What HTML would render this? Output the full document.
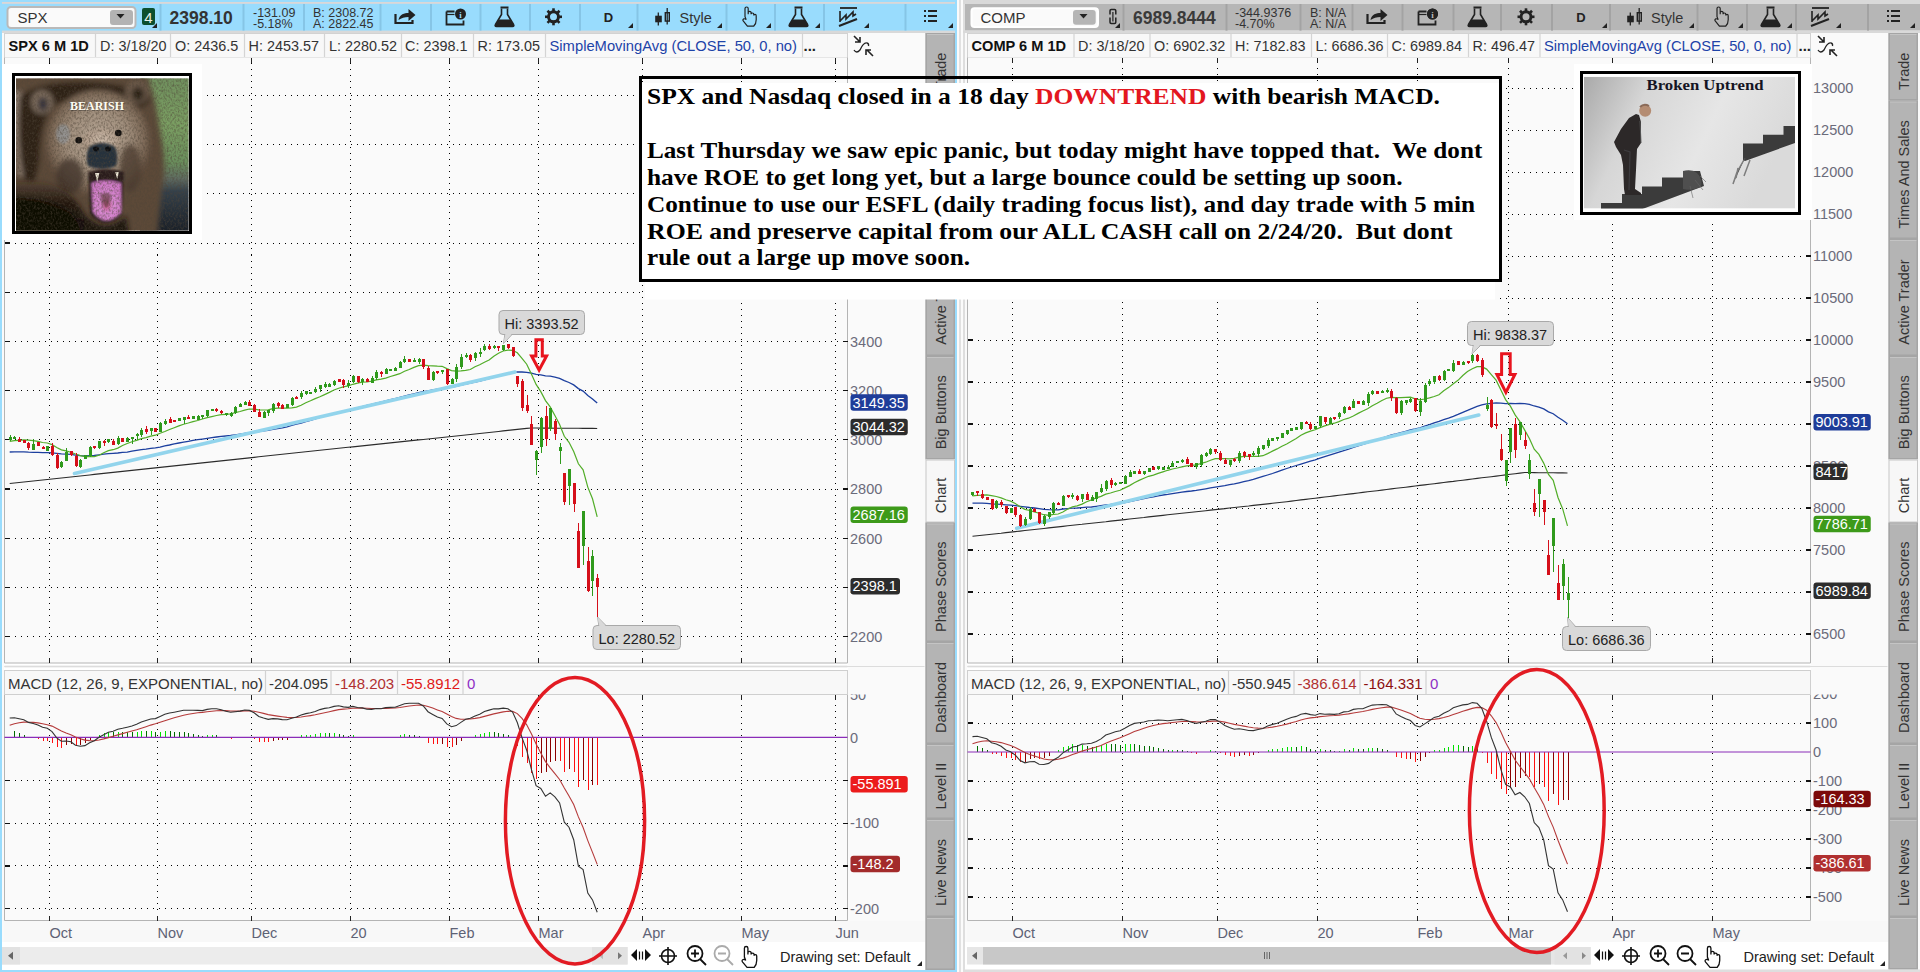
<!DOCTYPE html><html><head><meta charset="utf-8"><title>TOS</title><style>*{margin:0;padding:0}html,body{width:1920px;height:972px;overflow:hidden;background:#fff}svg{position:absolute;left:0;top:0;display:block}</style></head><body>
<svg width="1920" height="972" viewBox="0 0 1920 972" font-family="Liberation Sans, sans-serif">
<rect x="0.00" y="0.00" width="1920.00" height="972.00" fill="#ffffff" />
<rect x="0.00" y="0.00" width="957.00" height="972.00" fill="#99dcfd" />
<rect x="2.00" y="2.00" width="953.00" height="1.80" fill="#dbd7d7" />
<rect x="2.00" y="30.60" width="953.00" height="2.40" fill="#d9d9d9" />
<rect x="2.00" y="33.00" width="953.00" height="937.00" fill="#fafafa" />
<rect x="7.5" y="7" width="128" height="21" rx="3.5" fill="#fafafa" stroke="#b9b9b9" stroke-width="2"/>
<text x="17.50" y="23.00" font-size="15" fill="#333" >SPX</text>
<rect x="110" y="10" width="23" height="15" rx="3" fill="#b3b3b3"/>
<path d="M116.5,14 h8 l-4,4.5 z" fill="#222"/>
<rect x="142" y="8" width="13" height="17" rx="2" fill="#0c4f2e"/>
<text x="148.50" y="22.50" font-size="15" fill="#e8f0e8" text-anchor="middle">4</text>
<path d="M152,28 L157,23 L157,28 z" fill="#222"/>
<rect x="159.50" y="4.00" width="2.00" height="26.60" fill="#86c5e6" />
<rect x="242.50" y="4.00" width="2.00" height="26.60" fill="#86c5e6" />
<rect x="303.00" y="4.00" width="2.00" height="26.60" fill="#86c5e6" />
<rect x="379.50" y="4.00" width="2.00" height="26.60" fill="#86c5e6" />
<rect x="430.00" y="4.00" width="2.00" height="26.60" fill="#86c5e6" />
<rect x="479.50" y="4.00" width="2.00" height="26.60" fill="#86c5e6" />
<rect x="529.00" y="4.00" width="2.00" height="26.60" fill="#86c5e6" />
<rect x="579.00" y="4.00" width="2.00" height="26.60" fill="#86c5e6" />
<rect x="636.50" y="4.00" width="2.00" height="26.60" fill="#86c5e6" />
<rect x="725.50" y="4.00" width="2.00" height="26.60" fill="#86c5e6" />
<rect x="774.00" y="4.00" width="2.00" height="26.60" fill="#86c5e6" />
<rect x="823.00" y="4.00" width="2.00" height="26.60" fill="#86c5e6" />
<rect x="904.50" y="4.00" width="2.00" height="26.60" fill="#86c5e6" />
<text x="169.50" y="23.50" font-size="17.5" fill="#333" font-weight="bold">2398.10</text>
<text x="253.00" y="16.50" font-size="12.5" fill="#333" >-131.09</text>
<text x="253.00" y="27.50" font-size="12.5" fill="#333" >-5.18%</text>
<text x="313.00" y="16.50" font-size="12.5" fill="#333" >B: 2308.72</text>
<text x="313.00" y="27.50" font-size="12.5" fill="#333" >A: 2822.45</text>
<path d="M395.5,14 v9 h17 v-3" fill="none" stroke="#222" stroke-width="2.2"/>
<path d="M398.5,20 C399.5,14 404.5,13 408.5,13 v-4 l7,6 l-7,6 v-4 C404.5,17 401.5,18 398.5,20 z" fill="#222"/>
<path d="M446.5,11.5 h8 M446.5,11.5 v13 h17 v-4" fill="none" stroke="#222" stroke-width="1.8"/>
<line x1="446.5" y1="14.5" x2="454.5" y2="14.5" stroke="#222" stroke-width="1.2"/>
<circle cx="460.5" cy="14.0" r="5.5" fill="#222"/>
<text x="460.5" y="18.0" font-size="9" font-weight="bold" fill="#99dcfd" text-anchor="middle" font-family="Liberation Serif">i</text>
<path d="M501.5,8.5 v6 l-6,10 q-1,2 1,2 h16 q2,0 1,-2 l-6,-10 v-6" fill="none" stroke="#222" stroke-width="1.6"/>
<path d="M498.5,19.5 h12 l3,5 q1,2 -1,2 h-16 q-2,0 -1,-2 z" fill="#222"/>
<rect x="500.5" y="6.5" width="8" height="2" fill="#222"/>
<line x1="557.50" y1="16.80" x2="562.00" y2="16.80" stroke="#222" stroke-width="2.6"/>
<line x1="556.33" y1="19.63" x2="559.51" y2="22.81" stroke="#222" stroke-width="2.6"/>
<line x1="553.50" y1="20.80" x2="553.50" y2="25.30" stroke="#222" stroke-width="2.6"/>
<line x1="550.67" y1="19.63" x2="547.49" y2="22.81" stroke="#222" stroke-width="2.6"/>
<line x1="549.50" y1="16.80" x2="545.00" y2="16.80" stroke="#222" stroke-width="2.6"/>
<line x1="550.67" y1="13.97" x2="547.49" y2="10.79" stroke="#222" stroke-width="2.6"/>
<line x1="553.50" y1="12.80" x2="553.50" y2="8.30" stroke="#222" stroke-width="2.6"/>
<line x1="556.33" y1="13.97" x2="559.51" y2="10.79" stroke="#222" stroke-width="2.6"/>
<circle cx="553.5" cy="16.8" r="5" fill="none" stroke="#222" stroke-width="3"/>
<text x="608.50" y="22.00" font-size="13" fill="#222" font-weight="bold" text-anchor="middle">D</text>
<path d="M628,28 L633,23 L633,28 z" fill="#222"/>
<line x1="658.3" y1="12.5" x2="658.3" y2="25.5" stroke="#222" stroke-width="1.3"/>
<rect x="655.2" y="15.7" width="6.6" height="6.6" fill="#222"/>
<line x1="667.2" y1="8.0" x2="667.2" y2="24.5" stroke="#222" stroke-width="1.3"/>
<rect x="665.3" y="12.7" width="4" height="8.4" fill="none" stroke="#222" stroke-width="1.4"/>
<text x="679.50" y="23.00" font-size="14.5" fill="#333" >Style</text>
<path d="M717,28 L722,23 L722,28 z" fill="#222"/>
<g transform="translate(741,7) scale(0.8)">
<path d="M5,12 v-10 q0,-2 2,-2 q2,0 2,2 v7 v-2 q0,-1.5 1.8,-1.5 q1.8,0 1.8,1.5 v2 q0,-1.5 1.7,-1.5 q1.7,0 1.7,1.5 v1.5 q0,-1.2 1.5,-1.2 q1.5,0 1.5,1.5 v5 q0,5 -3,8 h-8 l-5,-6 q-1.5,-2 0.5,-3 q1.5,-0.5 3,1 z" fill="none" stroke="#222" stroke-width="1.5"/>
</g>
<path d="M766,28 L771,23 L771,28 z" fill="#222"/>
<path d="M795.5,8.5 v6 l-6,10 q-1,2 1,2 h16 q2,0 1,-2 l-6,-10 v-6" fill="none" stroke="#222" stroke-width="1.6"/>
<path d="M792.5,19.5 h12 l3,5 q1,2 -1,2 h-16 q-2,0 -1,-2 z" fill="#222"/>
<rect x="794.5" y="6.5" width="8" height="2" fill="#222"/>
<path d="M815,28 L820,23 L820,28 z" fill="#222"/>
<line x1="840" y1="8" x2="857" y2="8" stroke="#222" stroke-width="1.8"/>
<path d="M840,22 v-11 M840,21 l6,-6 v4 l7,-7 v4 l3,-2" fill="none" stroke="#222" stroke-width="1.6"/>
<line x1="839" y1="26" x2="857" y2="19" stroke="#222" stroke-width="2"/>
<path d="M864,28 L869,23 L869,28 z" fill="#222"/>
<rect x="924" y="10" width="2" height="2" fill="#222"/>
<rect x="928" y="10" width="9" height="2" fill="#222"/>
<rect x="924" y="15" width="2" height="2" fill="#222"/>
<rect x="928" y="15" width="9" height="2" fill="#222"/>
<rect x="924" y="20" width="2" height="2" fill="#222"/>
<rect x="928" y="20" width="9" height="2" fill="#222"/>
<path d="M948,28 L953,23 L953,28 z" fill="#222"/>
<rect x="4.50" y="33.50" width="843.00" height="24.00" fill="#f8f8f8" />
<rect x="4.5" y="33.5" width="843" height="24" fill="none" stroke="#d2d2d2" stroke-width="1"/>
<line x1="95.50" y1="34.00" x2="95.50" y2="57.00" stroke="#d4d4d4" stroke-width="1.2" />
<line x1="170.50" y1="34.00" x2="170.50" y2="57.00" stroke="#d4d4d4" stroke-width="1.2" />
<line x1="244.50" y1="34.00" x2="244.50" y2="57.00" stroke="#d4d4d4" stroke-width="1.2" />
<line x1="324.50" y1="34.00" x2="324.50" y2="57.00" stroke="#d4d4d4" stroke-width="1.2" />
<line x1="401.50" y1="34.00" x2="401.50" y2="57.00" stroke="#d4d4d4" stroke-width="1.2" />
<line x1="473.50" y1="34.00" x2="473.50" y2="57.00" stroke="#d4d4d4" stroke-width="1.2" />
<line x1="545.50" y1="34.00" x2="545.50" y2="57.00" stroke="#d4d4d4" stroke-width="1.2" />
<line x1="802.50" y1="34.00" x2="802.50" y2="57.00" stroke="#d4d4d4" stroke-width="1.2" />
<text x="8.50" y="51.00" font-size="14.6" fill="#111" font-weight="bold">SPX 6 M 1D</text>
<text x="100.00" y="51.00" font-size="14.4" fill="#333" >D: 3/18/20</text>
<text x="175.00" y="51.00" font-size="14.4" fill="#333" >O: 2436.5</text>
<text x="248.50" y="51.00" font-size="14.4" fill="#333" >H: 2453.57</text>
<text x="329.00" y="51.00" font-size="14.4" fill="#333" >L: 2280.52</text>
<text x="405.00" y="51.00" font-size="14.4" fill="#333" >C: 2398.1</text>
<text x="477.50" y="51.00" font-size="14.4" fill="#333" >R: 173.05</text>
<text x="549.50" y="51.00" font-size="14.5" fill="#1d43a8" textLength="247.5" lengthAdjust="spacingAndGlyphs">SimpleMovingAvg (CLOSE, 50, 0, no)</text>
<text x="803.50" y="51.00" font-size="15" fill="#222" font-weight="bold">...</text>
<rect x="848.00" y="33.00" width="77.00" height="25.00" fill="#fafafa" />
<path d="M854,36 l6,6 M855,42 h5 v-5" fill="none" stroke="#222" stroke-width="1.6"/>
<path d="M854,50 q2.5,4 6,0 q3.5,-8 7,-7 q2,0.5 1.5,3" fill="none" stroke="#222" stroke-width="1.3"/>
<path d="M873,56 l-6,-6 M866,55 v-5 h5" fill="none" stroke="#222" stroke-width="1.6"/>
<rect x="957.00" y="0.00" width="8.00" height="972.00" fill="#fbfbfb" />
<rect x="959.20" y="0.00" width="1.60" height="972.00" fill="#dadada" />
<rect x="963.00" y="0.00" width="2.00" height="972.00" fill="#dedede" />
<rect x="965.00" y="0.00" width="955.00" height="972.00" fill="#f0f0f0" />
<rect x="963.00" y="0.00" width="957.00" height="4.00" fill="#d9d9d9" />
<rect x="965.00" y="4.00" width="955.00" height="26.60" fill="#b6b6b6" />
<rect x="963.00" y="30.60" width="957.00" height="2.40" fill="#d9d9d9" />
<rect x="965.00" y="33.00" width="955.00" height="937.00" fill="#fafafa" />
<rect x="971.5" y="8.3" width="126.5" height="18.6" rx="3" fill="#fafafa" stroke="#ffffff" stroke-width="2"/>
<text x="980.50" y="23.00" font-size="15" fill="#333" >COMP</text>
<rect x="1073" y="10" width="22.7" height="14.8" rx="3" fill="#b5b5b5"/>
<path d="M1079.5,14 h8 l-4,4.5 z" fill="#222"/>
<path d="M1110,14.5 v-3.8 q0,-1.2 1.2,-1.2 h3.4 q1.2,0 1.2,1.2 v3.8 M1110,17.5 v4.8 q0,1.2 1.2,1.2 h3.4 q1.2,0 1.2,-1.2 v-4.8" fill="none" stroke="#222" stroke-width="1.5"/><line x1="1112.9" y1="12" x2="1112.9" y2="21.5" stroke="#222" stroke-width="1.2"/>
<path d="M1115,28 L1120,23 L1120,28 z" fill="#222"/>
<rect x="1122.50" y="4.00" width="2.00" height="26.60" fill="#a3a3a3" />
<rect x="1225.50" y="4.00" width="2.00" height="26.60" fill="#a3a3a3" />
<rect x="1299.50" y="4.00" width="2.00" height="26.60" fill="#a3a3a3" />
<rect x="1351.50" y="4.00" width="2.00" height="26.60" fill="#a3a3a3" />
<rect x="1401.50" y="4.00" width="2.00" height="26.60" fill="#a3a3a3" />
<rect x="1452.50" y="4.00" width="2.00" height="26.60" fill="#a3a3a3" />
<rect x="1500.00" y="4.00" width="2.00" height="26.60" fill="#a3a3a3" />
<rect x="1551.00" y="4.00" width="2.00" height="26.60" fill="#a3a3a3" />
<rect x="1609.00" y="4.00" width="2.00" height="26.60" fill="#a3a3a3" />
<rect x="1696.50" y="4.00" width="2.00" height="26.60" fill="#a3a3a3" />
<rect x="1746.00" y="4.00" width="2.00" height="26.60" fill="#a3a3a3" />
<rect x="1795.00" y="4.00" width="2.00" height="26.60" fill="#a3a3a3" />
<rect x="1867.00" y="4.00" width="2.00" height="26.60" fill="#a3a3a3" />
<text x="1133.00" y="23.50" font-size="17.5" fill="#3a3a3a" font-weight="bold">6989.8444</text>
<text x="1235.00" y="16.50" font-size="12.5" fill="#333" >-344.9376</text>
<text x="1235.00" y="27.50" font-size="12.5" fill="#333" >-4.70%</text>
<text x="1310.00" y="16.50" font-size="12.5" fill="#333" >B: N/A</text>
<text x="1310.00" y="27.50" font-size="12.5" fill="#333" >A: N/A</text>
<path d="M1367.5,14 v9 h17 v-3" fill="none" stroke="#222" stroke-width="2.2"/>
<path d="M1370.5,20 C1371.5,14 1376.5,13 1380.5,13 v-4 l7,6 l-7,6 v-4 C1376.5,17 1373.5,18 1370.5,20 z" fill="#222"/>
<path d="M1418.5,11.5 h8 M1418.5,11.5 v13 h17 v-4" fill="none" stroke="#222" stroke-width="1.8"/>
<line x1="1418.5" y1="14.5" x2="1426.5" y2="14.5" stroke="#222" stroke-width="1.2"/>
<circle cx="1432.5" cy="14.0" r="5.5" fill="#222"/>
<text x="1432.5" y="18.0" font-size="9" font-weight="bold" fill="#99dcfd" text-anchor="middle" font-family="Liberation Serif">i</text>
<circle cx="1432.5" cy="14" r="5.5" fill="#222"/>
<text x="1432.5" y="18" font-size="9" font-weight="bold" fill="#b9b9b9" text-anchor="middle" font-family="Liberation Serif">i</text>
<path d="M1474.5,8.5 v6 l-6,10 q-1,2 1,2 h16 q2,0 1,-2 l-6,-10 v-6" fill="none" stroke="#222" stroke-width="1.6"/>
<path d="M1471.5,19.5 h12 l3,5 q1,2 -1,2 h-16 q-2,0 -1,-2 z" fill="#222"/>
<rect x="1473.5" y="6.5" width="8" height="2" fill="#222"/>
<line x1="1530.00" y1="16.80" x2="1534.50" y2="16.80" stroke="#222" stroke-width="2.6"/>
<line x1="1528.83" y1="19.63" x2="1532.01" y2="22.81" stroke="#222" stroke-width="2.6"/>
<line x1="1526.00" y1="20.80" x2="1526.00" y2="25.30" stroke="#222" stroke-width="2.6"/>
<line x1="1523.17" y1="19.63" x2="1519.99" y2="22.81" stroke="#222" stroke-width="2.6"/>
<line x1="1522.00" y1="16.80" x2="1517.50" y2="16.80" stroke="#222" stroke-width="2.6"/>
<line x1="1523.17" y1="13.97" x2="1519.99" y2="10.79" stroke="#222" stroke-width="2.6"/>
<line x1="1526.00" y1="12.80" x2="1526.00" y2="8.30" stroke="#222" stroke-width="2.6"/>
<line x1="1528.83" y1="13.97" x2="1532.01" y2="10.79" stroke="#222" stroke-width="2.6"/>
<circle cx="1526" cy="16.8" r="5" fill="none" stroke="#222" stroke-width="3"/>
<text x="1581.00" y="22.00" font-size="13" fill="#222" font-weight="bold" text-anchor="middle">D</text>
<path d="M1602,28 L1607,23 L1607,28 z" fill="#222"/>
<line x1="1630.3" y1="12.5" x2="1630.3" y2="25.5" stroke="#222" stroke-width="1.3"/>
<rect x="1627.2" y="15.7" width="6.6" height="6.6" fill="#222"/>
<line x1="1639.2" y1="8.0" x2="1639.2" y2="24.5" stroke="#222" stroke-width="1.3"/>
<rect x="1637.3" y="12.7" width="4" height="8.4" fill="none" stroke="#222" stroke-width="1.4"/>
<text x="1651.00" y="23.00" font-size="14.5" fill="#333" >Style</text>
<path d="M1689,28 L1694,23 L1694,28 z" fill="#222"/>
<g transform="translate(1713,7) scale(0.8)">
<path d="M5,12 v-10 q0,-2 2,-2 q2,0 2,2 v7 v-2 q0,-1.5 1.8,-1.5 q1.8,0 1.8,1.5 v2 q0,-1.5 1.7,-1.5 q1.7,0 1.7,1.5 v1.5 q0,-1.2 1.5,-1.2 q1.5,0 1.5,1.5 v5 q0,5 -3,8 h-8 l-5,-6 q-1.5,-2 0.5,-3 q1.5,-0.5 3,1 z" fill="none" stroke="#222" stroke-width="1.5"/>
</g>
<path d="M1738,28 L1743,23 L1743,28 z" fill="#222"/>
<path d="M1767.5,8.5 v6 l-6,10 q-1,2 1,2 h16 q2,0 1,-2 l-6,-10 v-6" fill="none" stroke="#222" stroke-width="1.6"/>
<path d="M1764.5,19.5 h12 l3,5 q1,2 -1,2 h-16 q-2,0 -1,-2 z" fill="#222"/>
<rect x="1766.5" y="6.5" width="8" height="2" fill="#222"/>
<path d="M1787,28 L1792,23 L1792,28 z" fill="#222"/>
<line x1="1812" y1="8" x2="1829" y2="8" stroke="#222" stroke-width="1.8"/>
<path d="M1812,22 v-11 M1812,21 l6,-6 v4 l7,-7 v4 l3,-2" fill="none" stroke="#222" stroke-width="1.6"/>
<line x1="1811" y1="26" x2="1829" y2="19" stroke="#222" stroke-width="2"/>
<path d="M1836,28 L1841,23 L1841,28 z" fill="#222"/>
<rect x="1887" y="10" width="2" height="2" fill="#222"/>
<rect x="1891" y="10" width="9" height="2" fill="#222"/>
<rect x="1887" y="15" width="2" height="2" fill="#222"/>
<rect x="1891" y="15" width="9" height="2" fill="#222"/>
<rect x="1887" y="20" width="2" height="2" fill="#222"/>
<rect x="1891" y="20" width="9" height="2" fill="#222"/>
<path d="M1910,28 L1915,23 L1915,28 z" fill="#222"/>
<rect x="967.50" y="33.50" width="843.00" height="24.00" fill="#f8f8f8" />
<rect x="967.5" y="33.5" width="843" height="24" fill="none" stroke="#d2d2d2" stroke-width="1"/>
<line x1="1074.00" y1="34.00" x2="1074.00" y2="57.00" stroke="#d4d4d4" stroke-width="1.2" />
<line x1="1150.00" y1="34.00" x2="1150.00" y2="57.00" stroke="#d4d4d4" stroke-width="1.2" />
<line x1="1231.00" y1="34.00" x2="1231.00" y2="57.00" stroke="#d4d4d4" stroke-width="1.2" />
<line x1="1311.50" y1="34.00" x2="1311.50" y2="57.00" stroke="#d4d4d4" stroke-width="1.2" />
<line x1="1387.50" y1="34.00" x2="1387.50" y2="57.00" stroke="#d4d4d4" stroke-width="1.2" />
<line x1="1468.50" y1="34.00" x2="1468.50" y2="57.00" stroke="#d4d4d4" stroke-width="1.2" />
<line x1="1540.00" y1="34.00" x2="1540.00" y2="57.00" stroke="#d4d4d4" stroke-width="1.2" />
<line x1="1797.00" y1="34.00" x2="1797.00" y2="57.00" stroke="#d4d4d4" stroke-width="1.2" />
<text x="971.50" y="51.00" font-size="14.6" fill="#111" font-weight="bold">COMP 6 M 1D</text>
<text x="1078.00" y="51.00" font-size="14.4" fill="#333" >D: 3/18/20</text>
<text x="1154.00" y="51.00" font-size="14.4" fill="#333" >O: 6902.32</text>
<text x="1235.00" y="51.00" font-size="14.4" fill="#333" >H: 7182.83</text>
<text x="1315.50" y="51.00" font-size="14.4" fill="#333" >L: 6686.36</text>
<text x="1391.50" y="51.00" font-size="14.4" fill="#333" >C: 6989.84</text>
<text x="1472.50" y="51.00" font-size="14.4" fill="#333" >R: 496.47</text>
<text x="1544.00" y="51.00" font-size="14.5" fill="#1d43a8" textLength="247.5" lengthAdjust="spacingAndGlyphs">SimpleMovingAvg (CLOSE, 50, 0, no)</text>
<text x="1798.50" y="51.00" font-size="15" fill="#222" font-weight="bold">...</text>
<path d="M1818,36 l6,6 M1819,42 h5 v-5" fill="none" stroke="#222" stroke-width="1.6"/>
<path d="M1818,50 q2.5,4 6,0 q3.5,-8 7,-7 q2,0.5 1.5,3" fill="none" stroke="#222" stroke-width="1.3"/>
<path d="M1837,56 l-6,-6 M1830,55 v-5 h5" fill="none" stroke="#222" stroke-width="1.6"/>
<rect x="2.00" y="942.00" width="923.00" height="28.00" fill="#ffffff" />
<rect x="2.00" y="947.00" width="625.60" height="17.50" fill="#ececec" />
<rect x="2.00" y="947.00" width="18.00" height="17.50" fill="#e2e2e2" />
<path d="M8,955.7 l5,-4 v8 z" fill="#666"/>
<rect x="592.00" y="947.00" width="35.60" height="17.50" fill="#e2e2e2" />
<path d="M599,955.7 l4,-3.5 v7 z" fill="#bbb"/>
<path d="M618,952.2 l4,3.5 l-4,3.5 z" fill="#777"/>
<path d="M631,955 l6,-6 v12 z M651,955 l-6,-6 v12 z" fill="#111"/>
<path d="M639.5,951.5 v8 M642.5,951.5 v8" stroke="#111" stroke-width="1.2"/>
<circle cx="668" cy="956" r="6.5" fill="none" stroke="#111" stroke-width="1.6"/><path d="M659,956 h18 M668,947 v18" stroke="#111" stroke-width="1.6"/>
<circle cx="695" cy="953.5" r="7.5" fill="none" stroke="#111" stroke-width="1.8"/><path d="M691,953.5 h8 M695,949.5 v8 M700,959 l6,6" stroke="#111" stroke-width="1.8"/>
<circle cx="722" cy="953.5" r="7.5" fill="none" stroke="#aaa" stroke-width="1.8"/><path d="M718,953.5 h8 M727,959 l6,6" stroke="#aaa" stroke-width="1.8"/>
<g transform="translate(740,946.5) scale(0.88)">
<path d="M5,12 v-10 q0,-2 2,-2 q2,0 2,2 v7 v-2 q0,-1.5 1.8,-1.5 q1.8,0 1.8,1.5 v2 q0,-1.5 1.7,-1.5 q1.7,0 1.7,1.5 v1.5 q0,-1.2 1.5,-1.2 q1.5,0 1.5,1.5 v5 q0,5 -3,8 h-8 l-5,-6 q-1.5,-2 0.5,-3 q1.5,-0.5 3,1 z" fill="#fff" stroke="#111" stroke-width="1.5"/>
</g>
<text x="780.00" y="962.00" font-size="14.5" fill="#222" >Drawing set: Default</text>
<path d="M917,966 l5,-5 v5 z" fill="#222"/>
<rect x="965.00" y="942.00" width="924.00" height="30.00" fill="#ffffff" />
<rect x="967.00" y="947.00" width="624.00" height="17.50" fill="#e6e6e6" />
<rect x="983.00" y="947.00" width="568.00" height="17.50" fill="#c8c8c8" />
<path d="M972,955.7 l5,-4 v8 z" fill="#666"/>
<path d="M1264.5,952 v7 M1267,952 v7 M1269.5,952 v7" stroke="#666" stroke-width="1"/>
<rect x="1554.50" y="947.00" width="35.50" height="17.50" fill="#e2e2e2" />
<path d="M1563,955.7 l4,-3.5 v7 z" fill="#999"/>
<path d="M1582,952.2 l4,3.5 l-4,3.5 z" fill="#888"/>
<path d="M1594,955 l6,-6 v12 z M1614,955 l-6,-6 v12 z" fill="#111"/>
<path d="M1602.5,951.5 v8 M1605.5,951.5 v8" stroke="#111" stroke-width="1.2"/>
<circle cx="1631" cy="956" r="6.5" fill="none" stroke="#111" stroke-width="1.6"/><path d="M1622,956 h18 M1631,947 v18" stroke="#111" stroke-width="1.6"/>
<circle cx="1658" cy="953.5" r="7.5" fill="none" stroke="#111" stroke-width="1.8"/><path d="M1654,953.5 h8 M1658,949.5 v8 M1663,959 l6,6" stroke="#111" stroke-width="1.8"/>
<circle cx="1685" cy="953.5" r="7.5" fill="none" stroke="#111" stroke-width="1.8"/><path d="M1681,953.5 h8 M1690,959 l6,6" stroke="#111" stroke-width="1.8"/>
<g transform="translate(1703,946.5) scale(0.88)">
<path d="M5,12 v-10 q0,-2 2,-2 q2,0 2,2 v7 v-2 q0,-1.5 1.8,-1.5 q1.8,0 1.8,1.5 v2 q0,-1.5 1.7,-1.5 q1.7,0 1.7,1.5 v1.5 q0,-1.2 1.5,-1.2 q1.5,0 1.5,1.5 v5 q0,5 -3,8 h-8 l-5,-6 q-1.5,-2 0.5,-3 q1.5,-0.5 3,1 z" fill="#fff" stroke="#111" stroke-width="1.5"/>
</g>
<text x="1743.50" y="962.00" font-size="14.5" fill="#222" >Drawing set: Default</text>
<path d="M1880,966 l5,-5 v5 z" fill="#222"/>
<rect x="4.50" y="57.50" width="843.00" height="605.50" fill="#fafafa" />
<rect x="4.50" y="694.50" width="843.00" height="226.00" fill="#fafafa" />
<rect x="4.00" y="663.00" width="844.00" height="7.00" fill="#ffffff" />
<line x1="4.50" y1="666.50" x2="847.50" y2="666.50" stroke="#d0d0d0" stroke-width="1.5" />
<path d="M4.5,57.5 V663.0 H847.5 V57.5" fill="none" stroke="#b4b4b4" stroke-width="1"/>
<path d="M4.5,670.5 V920.5 H847.5 V670.5" fill="none" stroke="#b4b4b4" stroke-width="1"/>
<g shape-rendering="crispEdges">
<line x1="8.5" y1="636.5999999999999" x2="841.5" y2="636.5999999999999" stroke="#000000" stroke-width="1" stroke-dasharray="1 5"/>
<line x1="4.50" y1="636.60" x2="9.50" y2="636.60" stroke="#111" stroke-width="1.1" />
<line x1="842.50" y1="636.60" x2="847.50" y2="636.60" stroke="#111" stroke-width="1.1" />
<line x1="8.5" y1="587.4" x2="841.5" y2="587.4" stroke="#000000" stroke-width="1" stroke-dasharray="1 5"/>
<line x1="4.50" y1="587.40" x2="9.50" y2="587.40" stroke="#111" stroke-width="1.1" />
<line x1="842.50" y1="587.40" x2="847.50" y2="587.40" stroke="#111" stroke-width="1.1" />
<line x1="8.5" y1="538.2" x2="841.5" y2="538.2" stroke="#000000" stroke-width="1" stroke-dasharray="1 5"/>
<line x1="4.50" y1="538.20" x2="9.50" y2="538.20" stroke="#111" stroke-width="1.1" />
<line x1="842.50" y1="538.20" x2="847.50" y2="538.20" stroke="#111" stroke-width="1.1" />
<line x1="8.5" y1="489.0" x2="841.5" y2="489.0" stroke="#000000" stroke-width="1" stroke-dasharray="1 5"/>
<line x1="4.50" y1="489.00" x2="9.50" y2="489.00" stroke="#111" stroke-width="1.1" />
<line x1="842.50" y1="489.00" x2="847.50" y2="489.00" stroke="#111" stroke-width="1.1" />
<line x1="8.5" y1="439.79999999999995" x2="841.5" y2="439.79999999999995" stroke="#000000" stroke-width="1" stroke-dasharray="1 5"/>
<line x1="4.50" y1="439.80" x2="9.50" y2="439.80" stroke="#111" stroke-width="1.1" />
<line x1="842.50" y1="439.80" x2="847.50" y2="439.80" stroke="#111" stroke-width="1.1" />
<line x1="8.5" y1="390.59999999999997" x2="841.5" y2="390.59999999999997" stroke="#000000" stroke-width="1" stroke-dasharray="1 5"/>
<line x1="4.50" y1="390.60" x2="9.50" y2="390.60" stroke="#111" stroke-width="1.1" />
<line x1="842.50" y1="390.60" x2="847.50" y2="390.60" stroke="#111" stroke-width="1.1" />
<line x1="8.5" y1="341.4" x2="841.5" y2="341.4" stroke="#000000" stroke-width="1" stroke-dasharray="1 5"/>
<line x1="4.50" y1="341.40" x2="9.50" y2="341.40" stroke="#111" stroke-width="1.1" />
<line x1="842.50" y1="341.40" x2="847.50" y2="341.40" stroke="#111" stroke-width="1.1" />
<line x1="8.5" y1="292.2" x2="841.5" y2="292.2" stroke="#000000" stroke-width="1" stroke-dasharray="1 5"/>
<line x1="4.50" y1="292.20" x2="9.50" y2="292.20" stroke="#111" stroke-width="1.1" />
<line x1="842.50" y1="292.20" x2="847.50" y2="292.20" stroke="#111" stroke-width="1.1" />
<line x1="8.5" y1="242.99999999999997" x2="841.5" y2="242.99999999999997" stroke="#000000" stroke-width="1" stroke-dasharray="1 5"/>
<line x1="4.50" y1="243.00" x2="9.50" y2="243.00" stroke="#111" stroke-width="1.1" />
<line x1="842.50" y1="243.00" x2="847.50" y2="243.00" stroke="#111" stroke-width="1.1" />
<line x1="8.5" y1="193.79999999999998" x2="841.5" y2="193.79999999999998" stroke="#000000" stroke-width="1" stroke-dasharray="1 5"/>
<line x1="4.50" y1="193.80" x2="9.50" y2="193.80" stroke="#111" stroke-width="1.1" />
<line x1="842.50" y1="193.80" x2="847.50" y2="193.80" stroke="#111" stroke-width="1.1" />
<line x1="8.5" y1="144.59999999999997" x2="841.5" y2="144.59999999999997" stroke="#000000" stroke-width="1" stroke-dasharray="1 5"/>
<line x1="4.50" y1="144.60" x2="9.50" y2="144.60" stroke="#111" stroke-width="1.1" />
<line x1="842.50" y1="144.60" x2="847.50" y2="144.60" stroke="#111" stroke-width="1.1" />
<line x1="8.5" y1="95.39999999999998" x2="841.5" y2="95.39999999999998" stroke="#000000" stroke-width="1" stroke-dasharray="1 5"/>
<line x1="4.50" y1="95.40" x2="9.50" y2="95.40" stroke="#111" stroke-width="1.1" />
<line x1="842.50" y1="95.40" x2="847.50" y2="95.40" stroke="#111" stroke-width="1.1" />
<line x1="8.5" y1="694.55" x2="841.5" y2="694.55" stroke="#000000" stroke-width="1" stroke-dasharray="1 5"/>
<line x1="4.50" y1="694.55" x2="9.50" y2="694.55" stroke="#111" stroke-width="1.1" />
<line x1="842.50" y1="694.55" x2="847.50" y2="694.55" stroke="#111" stroke-width="1.1" />
<line x1="8.5" y1="780.25" x2="841.5" y2="780.25" stroke="#000000" stroke-width="1" stroke-dasharray="1 5"/>
<line x1="4.50" y1="780.25" x2="9.50" y2="780.25" stroke="#111" stroke-width="1.1" />
<line x1="842.50" y1="780.25" x2="847.50" y2="780.25" stroke="#111" stroke-width="1.1" />
<line x1="8.5" y1="823.1" x2="841.5" y2="823.1" stroke="#000000" stroke-width="1" stroke-dasharray="1 5"/>
<line x1="4.50" y1="823.10" x2="9.50" y2="823.10" stroke="#111" stroke-width="1.1" />
<line x1="842.50" y1="823.10" x2="847.50" y2="823.10" stroke="#111" stroke-width="1.1" />
<line x1="8.5" y1="865.95" x2="841.5" y2="865.95" stroke="#000000" stroke-width="1" stroke-dasharray="1 5"/>
<line x1="4.50" y1="865.95" x2="9.50" y2="865.95" stroke="#111" stroke-width="1.1" />
<line x1="842.50" y1="865.95" x2="847.50" y2="865.95" stroke="#111" stroke-width="1.1" />
<line x1="8.5" y1="908.8" x2="841.5" y2="908.8" stroke="#000000" stroke-width="1" stroke-dasharray="1 5"/>
<line x1="4.50" y1="908.80" x2="9.50" y2="908.80" stroke="#111" stroke-width="1.1" />
<line x1="842.50" y1="908.80" x2="847.50" y2="908.80" stroke="#111" stroke-width="1.1" />
<line x1="49.5" y1="62.5" x2="49.5" y2="657.0" stroke="#000000" stroke-width="1" stroke-dasharray="1 5"/>
<line x1="49.5" y1="698.5" x2="49.5" y2="914.5" stroke="#000000" stroke-width="1" stroke-dasharray="1 5"/>
<line x1="49.50" y1="57.50" x2="49.50" y2="62.50" stroke="#222" stroke-width="1.5" />
<line x1="49.50" y1="658.00" x2="49.50" y2="663.00" stroke="#222" stroke-width="1.5" />
<line x1="49.50" y1="694.50" x2="49.50" y2="699.50" stroke="#222" stroke-width="1.5" />
<line x1="49.50" y1="915.50" x2="49.50" y2="920.50" stroke="#222" stroke-width="1.5" />
<line x1="157.5" y1="62.5" x2="157.5" y2="657.0" stroke="#000000" stroke-width="1" stroke-dasharray="1 5"/>
<line x1="157.5" y1="698.5" x2="157.5" y2="914.5" stroke="#000000" stroke-width="1" stroke-dasharray="1 5"/>
<line x1="157.50" y1="57.50" x2="157.50" y2="62.50" stroke="#222" stroke-width="1.5" />
<line x1="157.50" y1="658.00" x2="157.50" y2="663.00" stroke="#222" stroke-width="1.5" />
<line x1="157.50" y1="694.50" x2="157.50" y2="699.50" stroke="#222" stroke-width="1.5" />
<line x1="157.50" y1="915.50" x2="157.50" y2="920.50" stroke="#222" stroke-width="1.5" />
<line x1="251.5" y1="62.5" x2="251.5" y2="657.0" stroke="#000000" stroke-width="1" stroke-dasharray="1 5"/>
<line x1="251.5" y1="698.5" x2="251.5" y2="914.5" stroke="#000000" stroke-width="1" stroke-dasharray="1 5"/>
<line x1="251.50" y1="57.50" x2="251.50" y2="62.50" stroke="#222" stroke-width="1.5" />
<line x1="251.50" y1="658.00" x2="251.50" y2="663.00" stroke="#222" stroke-width="1.5" />
<line x1="251.50" y1="694.50" x2="251.50" y2="699.50" stroke="#222" stroke-width="1.5" />
<line x1="251.50" y1="915.50" x2="251.50" y2="920.50" stroke="#222" stroke-width="1.5" />
<line x1="350.5" y1="62.5" x2="350.5" y2="657.0" stroke="#000000" stroke-width="1" stroke-dasharray="1 5"/>
<line x1="350.5" y1="698.5" x2="350.5" y2="914.5" stroke="#000000" stroke-width="1" stroke-dasharray="1 5"/>
<line x1="350.50" y1="57.50" x2="350.50" y2="62.50" stroke="#222" stroke-width="1.5" />
<line x1="350.50" y1="658.00" x2="350.50" y2="663.00" stroke="#222" stroke-width="1.5" />
<line x1="350.50" y1="694.50" x2="350.50" y2="699.50" stroke="#222" stroke-width="1.5" />
<line x1="350.50" y1="915.50" x2="350.50" y2="920.50" stroke="#222" stroke-width="1.5" />
<line x1="449.5" y1="62.5" x2="449.5" y2="657.0" stroke="#000000" stroke-width="1" stroke-dasharray="1 5"/>
<line x1="449.5" y1="698.5" x2="449.5" y2="914.5" stroke="#000000" stroke-width="1" stroke-dasharray="1 5"/>
<line x1="449.50" y1="57.50" x2="449.50" y2="62.50" stroke="#222" stroke-width="1.5" />
<line x1="449.50" y1="658.00" x2="449.50" y2="663.00" stroke="#222" stroke-width="1.5" />
<line x1="449.50" y1="694.50" x2="449.50" y2="699.50" stroke="#222" stroke-width="1.5" />
<line x1="449.50" y1="915.50" x2="449.50" y2="920.50" stroke="#222" stroke-width="1.5" />
<line x1="538.5" y1="62.5" x2="538.5" y2="657.0" stroke="#000000" stroke-width="1" stroke-dasharray="1 5"/>
<line x1="538.5" y1="698.5" x2="538.5" y2="914.5" stroke="#000000" stroke-width="1" stroke-dasharray="1 5"/>
<line x1="538.50" y1="57.50" x2="538.50" y2="62.50" stroke="#222" stroke-width="1.5" />
<line x1="538.50" y1="658.00" x2="538.50" y2="663.00" stroke="#222" stroke-width="1.5" />
<line x1="538.50" y1="694.50" x2="538.50" y2="699.50" stroke="#222" stroke-width="1.5" />
<line x1="538.50" y1="915.50" x2="538.50" y2="920.50" stroke="#222" stroke-width="1.5" />
<line x1="642.5" y1="62.5" x2="642.5" y2="657.0" stroke="#000000" stroke-width="1" stroke-dasharray="1 5"/>
<line x1="642.5" y1="698.5" x2="642.5" y2="914.5" stroke="#000000" stroke-width="1" stroke-dasharray="1 5"/>
<line x1="642.50" y1="57.50" x2="642.50" y2="62.50" stroke="#222" stroke-width="1.5" />
<line x1="642.50" y1="658.00" x2="642.50" y2="663.00" stroke="#222" stroke-width="1.5" />
<line x1="642.50" y1="694.50" x2="642.50" y2="699.50" stroke="#222" stroke-width="1.5" />
<line x1="642.50" y1="915.50" x2="642.50" y2="920.50" stroke="#222" stroke-width="1.5" />
<line x1="741.5" y1="62.5" x2="741.5" y2="657.0" stroke="#000000" stroke-width="1" stroke-dasharray="1 5"/>
<line x1="741.5" y1="698.5" x2="741.5" y2="914.5" stroke="#000000" stroke-width="1" stroke-dasharray="1 5"/>
<line x1="741.50" y1="57.50" x2="741.50" y2="62.50" stroke="#222" stroke-width="1.5" />
<line x1="741.50" y1="658.00" x2="741.50" y2="663.00" stroke="#222" stroke-width="1.5" />
<line x1="741.50" y1="694.50" x2="741.50" y2="699.50" stroke="#222" stroke-width="1.5" />
<line x1="741.50" y1="915.50" x2="741.50" y2="920.50" stroke="#222" stroke-width="1.5" />
<line x1="835.5" y1="62.5" x2="835.5" y2="657.0" stroke="#000000" stroke-width="1" stroke-dasharray="1 5"/>
<line x1="835.5" y1="698.5" x2="835.5" y2="914.5" stroke="#000000" stroke-width="1" stroke-dasharray="1 5"/>
<line x1="835.50" y1="57.50" x2="835.50" y2="62.50" stroke="#222" stroke-width="1.5" />
<line x1="835.50" y1="658.00" x2="835.50" y2="663.00" stroke="#222" stroke-width="1.5" />
<line x1="835.50" y1="694.50" x2="835.50" y2="699.50" stroke="#222" stroke-width="1.5" />
<line x1="835.50" y1="915.50" x2="835.50" y2="920.50" stroke="#222" stroke-width="1.5" />
</g>
<polyline points="9.7,483.5 14.4,483.0 19.1,482.5 23.8,482.0 28.5,481.5 33.2,481.0 37.9,480.5 42.6,480.0 47.3,479.5 52.0,479.0 56.7,478.5 61.4,478.0 66.1,477.5 70.8,477.0 75.5,476.5 80.2,476.0 84.9,475.5 89.6,475.0 94.3,474.4 99.0,473.9 103.7,473.4 108.4,472.9 113.1,472.4 117.8,471.9 122.5,471.4 127.2,470.9 131.9,470.4 136.6,469.9 141.3,469.4 146.0,468.9 150.7,468.4 155.4,467.9 160.1,467.4 164.8,466.9 169.5,466.4 174.2,465.9 178.9,465.4 183.6,464.9 188.3,464.4 193.0,463.9 197.7,463.4 202.4,462.9 207.1,462.4 211.8,461.9 216.5,461.4 221.2,460.9 225.9,460.4 230.6,459.9 235.3,459.4 240.0,458.9 244.7,458.4 249.4,457.9 254.1,457.4 258.8,456.8 263.5,456.3 268.2,455.8 272.9,455.3 277.6,454.8 282.3,454.3 287.0,453.8 291.7,453.3 296.4,452.8 301.1,452.3 305.8,451.8 310.5,451.3 315.2,450.8 319.9,450.3 324.6,449.8 329.3,449.3 334.0,448.8 338.7,448.3 343.4,447.8 348.1,447.3 352.8,446.9 357.5,446.4 362.2,445.9 366.9,445.4 371.6,444.9 376.3,444.4 381.0,443.9 385.7,443.4 390.4,442.9 395.1,442.4 399.8,441.9 404.5,441.4 409.2,440.9 413.9,440.4 418.6,439.9 423.3,439.5 428.0,439.0 432.7,438.5 437.4,438.0 442.1,437.5 446.8,437.0 451.5,436.5 456.2,436.0 460.9,435.5 465.6,435.0 470.3,434.5 475.0,434.0 479.7,433.5 484.4,433.0 489.1,432.5 493.8,432.0 498.5,431.5 503.2,430.9 507.9,430.4 512.6,429.9 517.3,429.4 522.0,428.9 526.7,428.4 531.4,428.0 536.1,428.0 540.8,428.1 545.5,428.1 550.2,428.1 554.9,428.2 559.6,428.2 564.3,428.2 569.0,428.3 573.7,428.3 578.4,428.3 583.1,428.4 587.8,428.4 592.5,428.4 597.2,428.5" fill="none" stroke="#2b2b2b" stroke-width="1.1"/>
<polyline points="9.7,452.0 14.4,451.9 19.1,451.9 23.8,451.9 28.5,452.2 33.2,452.3 37.9,452.4 42.6,452.6 47.3,452.6 52.0,452.8 56.7,453.3 61.4,453.8 66.1,454.1 70.8,454.4 75.5,455.1 80.2,455.6 84.9,455.8 89.6,455.7 94.3,455.5 99.0,454.8 103.7,454.2 108.4,453.7 113.1,453.4 117.8,453.0 122.5,452.4 127.2,452.1 131.9,451.2 136.6,450.4 141.3,449.6 146.0,449.1 150.7,448.3 155.4,447.8 160.1,447.1 164.8,445.9 169.5,445.0 174.2,443.9 178.9,443.0 183.6,442.1 188.3,441.3 193.0,440.4 197.7,439.7 202.4,439.1 207.1,438.4 211.8,437.7 216.5,437.0 221.2,436.4 225.9,436.0 230.6,435.5 235.3,434.8 240.0,434.1 244.7,433.4 249.4,432.7 254.1,432.1 258.8,431.6 263.5,430.9 268.2,430.3 272.9,429.4 277.6,428.6 282.3,427.8 287.0,426.8 291.7,425.4 296.4,424.2 301.1,423.0 305.8,421.7 310.5,420.3 315.2,418.9 319.9,417.5 324.6,416.2 329.3,415.0 334.0,413.8 338.7,412.5 343.4,411.4 348.1,410.2 352.8,409.0 357.5,407.8 362.2,406.6 366.9,405.5 371.6,404.4 376.3,403.2 381.0,402.1 385.7,400.9 390.4,399.7 395.1,398.6 399.8,397.4 404.5,396.2 409.2,395.0 413.9,393.8 418.6,392.7 423.3,391.6 428.0,390.9 432.7,390.0 437.4,389.1 442.1,388.3 446.8,387.8 451.5,387.2 456.2,386.3 460.9,385.1 465.6,384.0 470.3,383.0 475.0,382.0 479.7,381.0 484.4,379.8 489.1,378.5 493.8,377.1 498.5,375.8 503.2,374.5 507.9,373.4 512.6,372.4 517.3,371.9 522.0,372.0 526.7,372.3 531.4,373.2 536.1,374.4 540.8,374.9 545.5,375.8 550.2,376.2 554.9,377.1 559.6,378.4 564.3,380.7 569.0,382.5 573.7,384.9 578.4,388.6 583.1,391.1 587.8,395.4 592.5,398.9 597.2,403.1" fill="none" stroke="#1c3f9e" stroke-width="1.3"/>
<line x1="74.5" y1="473.5" x2="515" y2="372" stroke="#92d4ec" stroke-width="3.6" stroke-linecap="round"/>
<polyline points="9.7,441.4 14.4,440.6 19.1,440.3 23.8,439.9 28.5,440.2 33.2,440.6 37.9,441.4 42.6,442.5 47.3,443.0 52.0,444.6 56.7,447.5 61.4,449.9 66.1,450.9 70.8,452.2 75.5,454.0 80.2,455.6 84.9,456.6 89.6,456.4 94.3,456.6 99.0,455.3 103.7,452.7 108.4,450.6 113.1,449.7 117.8,448.1 122.5,445.5 127.2,443.5 131.9,441.7 136.6,440.4 141.3,438.6 146.0,437.6 150.7,436.2 155.4,435.2 160.1,433.2 164.8,431.5 169.5,429.5 174.2,427.7 178.9,425.9 183.6,424.2 188.3,423.0 193.0,421.6 197.7,420.5 202.4,419.0 207.1,417.7 211.8,416.6 216.5,415.5 221.2,414.7 225.9,414.3 230.6,413.9 235.3,412.7 240.0,411.5 244.7,410.1 249.4,409.0 254.1,409.1 258.8,409.8 263.5,410.0 268.2,409.8 272.9,408.7 277.6,408.1 282.3,408.1 287.0,408.1 291.7,407.8 296.4,407.1 301.1,405.2 305.8,402.7 310.5,400.8 315.2,398.6 319.9,396.8 324.6,394.6 329.3,392.4 334.0,390.0 338.7,388.2 343.4,386.9 348.1,385.9 352.8,384.3 357.5,383.2 362.2,382.2 366.9,381.8 371.6,381.1 376.3,379.9 381.0,379.2 385.7,378.1 390.4,376.5 395.1,375.1 399.8,373.7 404.5,371.3 409.2,369.5 413.9,367.4 418.6,365.6 423.3,365.1 428.0,365.7 432.7,365.9 437.4,366.2 442.1,366.3 446.8,368.6 451.5,370.6 456.2,371.1 460.9,370.8 465.6,370.3 470.3,369.5 475.0,366.8 479.7,364.8 484.4,362.2 489.1,360.0 493.8,356.2 498.5,353.2 503.2,351.0 507.9,350.1 512.6,350.3 517.3,352.8 522.0,358.3 526.7,364.2 531.4,374.1 536.1,384.4 540.8,391.6 545.5,400.6 550.2,406.9 554.9,415.5 559.6,424.5 564.3,436.3 569.0,442.3 573.7,451.5 578.4,463.8 583.1,469.8 587.8,487.1 592.5,498.8 597.2,516.8" fill="none" stroke="#52ad28" stroke-width="1.2"/>
<g shape-rendering="crispEdges">
<line x1="10.50" y1="434.64" x2="10.50" y2="440.55" stroke="#2f9a1c" stroke-width="1" />
<rect x="9.00" y="437.00" width="3.00" height="3.00" fill="#2f9a1c" />
<line x1="14.50" y1="435.92" x2="14.50" y2="438.57" stroke="#2f9a1c" stroke-width="1" />
<rect x="13.00" y="437.00" width="3.00" height="2.00" fill="#2f9a1c" />
<line x1="19.50" y1="436.85" x2="19.50" y2="441.92" stroke="#d50f1a" stroke-width="1" />
<rect x="18.00" y="439.00" width="3.00" height="3.00" fill="#d50f1a" />
<line x1="24.50" y1="440.01" x2="24.50" y2="442.60" stroke="#d50f1a" stroke-width="1" />
<rect x="23.00" y="440.00" width="3.00" height="3.00" fill="#d50f1a" />
<line x1="28.50" y1="442.19" x2="28.50" y2="450.39" stroke="#d50f1a" stroke-width="1" />
<rect x="27.00" y="443.00" width="3.00" height="5.00" fill="#d50f1a" />
<line x1="33.50" y1="439.25" x2="33.50" y2="449.93" stroke="#2f9a1c" stroke-width="1" />
<rect x="32.00" y="444.00" width="3.00" height="6.00" fill="#2f9a1c" />
<line x1="38.50" y1="442.60" x2="38.50" y2="445.96" stroke="#d50f1a" stroke-width="1" />
<rect x="37.00" y="442.00" width="3.00" height="4.00" fill="#d50f1a" />
<line x1="43.50" y1="446.25" x2="43.50" y2="449.30" stroke="#d50f1a" stroke-width="1" />
<rect x="42.00" y="447.00" width="3.00" height="2.00" fill="#d50f1a" />
<line x1="47.50" y1="445.51" x2="47.50" y2="450.65" stroke="#2f9a1c" stroke-width="1" />
<rect x="46.00" y="446.00" width="3.00" height="5.00" fill="#2f9a1c" />
<line x1="52.50" y1="442.88" x2="52.50" y2="455.65" stroke="#d50f1a" stroke-width="1" />
<rect x="51.00" y="446.00" width="3.00" height="9.00" fill="#d50f1a" />
<line x1="57.50" y1="453.41" x2="57.50" y2="468.96" stroke="#d50f1a" stroke-width="1" />
<rect x="56.00" y="455.00" width="3.00" height="13.00" fill="#d50f1a" />
<line x1="61.50" y1="460.50" x2="61.50" y2="467.60" stroke="#2f9a1c" stroke-width="1" />
<rect x="60.00" y="462.00" width="3.00" height="5.00" fill="#2f9a1c" />
<line x1="66.50" y1="448.43" x2="66.50" y2="460.78" stroke="#2f9a1c" stroke-width="1" />
<rect x="65.00" y="452.00" width="3.00" height="9.00" fill="#2f9a1c" />
<line x1="71.50" y1="450.80" x2="71.50" y2="455.96" stroke="#d50f1a" stroke-width="1" />
<rect x="70.00" y="451.00" width="3.00" height="4.00" fill="#d50f1a" />
<line x1="76.50" y1="453.08" x2="76.50" y2="467.31" stroke="#d50f1a" stroke-width="1" />
<rect x="75.00" y="456.00" width="3.00" height="10.00" fill="#d50f1a" />
<line x1="80.50" y1="458.69" x2="80.50" y2="467.93" stroke="#2f9a1c" stroke-width="1" />
<rect x="79.00" y="460.00" width="3.00" height="7.00" fill="#2f9a1c" />
<line x1="85.50" y1="455.00" x2="85.50" y2="458.68" stroke="#2f9a1c" stroke-width="1" />
<rect x="84.00" y="455.00" width="3.00" height="4.00" fill="#2f9a1c" />
<line x1="90.50" y1="445.52" x2="90.50" y2="457.02" stroke="#2f9a1c" stroke-width="1" />
<rect x="89.00" y="447.00" width="3.00" height="9.00" fill="#2f9a1c" />
<line x1="94.50" y1="445.53" x2="94.50" y2="448.50" stroke="#d50f1a" stroke-width="1" />
<rect x="93.00" y="446.00" width="3.00" height="2.00" fill="#d50f1a" />
<line x1="99.50" y1="440.62" x2="99.50" y2="449.29" stroke="#2f9a1c" stroke-width="1" />
<rect x="98.00" y="441.00" width="3.00" height="7.00" fill="#2f9a1c" />
<line x1="104.50" y1="440.05" x2="104.50" y2="445.98" stroke="#d50f1a" stroke-width="1" />
<rect x="103.00" y="441.00" width="3.00" height="2.00" fill="#d50f1a" />
<line x1="108.50" y1="439.40" x2="108.50" y2="442.64" stroke="#2f9a1c" stroke-width="1" />
<rect x="107.00" y="439.00" width="3.00" height="3.00" fill="#2f9a1c" />
<line x1="113.50" y1="438.84" x2="113.50" y2="444.28" stroke="#d50f1a" stroke-width="1" />
<rect x="112.00" y="441.00" width="3.00" height="4.00" fill="#d50f1a" />
<line x1="118.50" y1="436.47" x2="118.50" y2="444.93" stroke="#2f9a1c" stroke-width="1" />
<rect x="117.00" y="438.00" width="3.00" height="6.00" fill="#2f9a1c" />
<line x1="122.50" y1="439.10" x2="122.50" y2="441.68" stroke="#d50f1a" stroke-width="1" />
<rect x="121.00" y="438.00" width="3.00" height="4.00" fill="#d50f1a" />
<line x1="127.50" y1="437.40" x2="127.50" y2="441.81" stroke="#2f9a1c" stroke-width="1" />
<rect x="126.00" y="438.00" width="3.00" height="4.00" fill="#2f9a1c" />
<line x1="132.50" y1="436.72" x2="132.50" y2="444.06" stroke="#2f9a1c" stroke-width="1" />
<rect x="131.00" y="437.00" width="3.00" height="2.00" fill="#2f9a1c" />
<line x1="137.50" y1="433.09" x2="137.50" y2="439.94" stroke="#2f9a1c" stroke-width="1" />
<rect x="136.00" y="434.00" width="3.00" height="2.00" fill="#2f9a1c" />
<line x1="141.50" y1="427.54" x2="141.50" y2="437.24" stroke="#2f9a1c" stroke-width="1" />
<rect x="140.00" y="430.00" width="3.00" height="5.00" fill="#2f9a1c" />
<line x1="146.50" y1="425.91" x2="146.50" y2="433.67" stroke="#d50f1a" stroke-width="1" />
<rect x="145.00" y="429.00" width="3.00" height="3.00" fill="#d50f1a" />
<line x1="151.50" y1="428.14" x2="151.50" y2="434.56" stroke="#2f9a1c" stroke-width="1" />
<rect x="150.00" y="428.00" width="3.00" height="3.00" fill="#2f9a1c" />
<line x1="155.50" y1="428.78" x2="155.50" y2="431.17" stroke="#d50f1a" stroke-width="1" />
<rect x="154.00" y="428.00" width="3.00" height="4.00" fill="#d50f1a" />
<line x1="160.50" y1="422.27" x2="160.50" y2="432.48" stroke="#2f9a1c" stroke-width="1" />
<rect x="159.00" y="423.00" width="3.00" height="9.00" fill="#2f9a1c" />
<line x1="165.50" y1="419.28" x2="165.50" y2="424.61" stroke="#2f9a1c" stroke-width="1" />
<rect x="164.00" y="421.00" width="3.00" height="3.00" fill="#2f9a1c" />
<line x1="170.50" y1="417.38" x2="170.50" y2="421.67" stroke="#d50f1a" stroke-width="1" />
<rect x="169.00" y="419.00" width="3.00" height="4.00" fill="#d50f1a" />
<line x1="174.50" y1="420.30" x2="174.50" y2="421.78" stroke="#d50f1a" stroke-width="1" />
<rect x="173.00" y="420.00" width="3.00" height="2.00" fill="#d50f1a" />
<line x1="179.50" y1="418.32" x2="179.50" y2="421.19" stroke="#2f9a1c" stroke-width="1" />
<rect x="178.00" y="418.00" width="3.00" height="3.00" fill="#2f9a1c" />
<line x1="184.50" y1="416.64" x2="184.50" y2="423.82" stroke="#2f9a1c" stroke-width="1" />
<rect x="183.00" y="417.00" width="3.00" height="3.00" fill="#2f9a1c" />
<line x1="188.50" y1="414.66" x2="188.50" y2="419.46" stroke="#d50f1a" stroke-width="1" />
<rect x="187.00" y="417.00" width="3.00" height="2.00" fill="#d50f1a" />
<line x1="193.50" y1="416.53" x2="193.50" y2="418.71" stroke="#2f9a1c" stroke-width="1" />
<rect x="192.00" y="416.00" width="3.00" height="3.00" fill="#2f9a1c" />
<line x1="198.50" y1="415.48" x2="198.50" y2="418.95" stroke="#2f9a1c" stroke-width="1" />
<rect x="197.00" y="416.00" width="3.00" height="4.00" fill="#2f9a1c" />
<line x1="202.50" y1="415.90" x2="202.50" y2="419.44" stroke="#2f9a1c" stroke-width="1" />
<rect x="201.00" y="415.00" width="3.00" height="2.00" fill="#2f9a1c" />
<line x1="207.50" y1="409.88" x2="207.50" y2="416.99" stroke="#2f9a1c" stroke-width="1" />
<rect x="206.00" y="410.00" width="3.00" height="6.00" fill="#2f9a1c" />
<line x1="212.50" y1="408.70" x2="212.50" y2="410.29" stroke="#2f9a1c" stroke-width="1" />
<rect x="211.00" y="409.00" width="3.00" height="2.00" fill="#2f9a1c" />
<line x1="216.50" y1="408.48" x2="216.50" y2="412.06" stroke="#d50f1a" stroke-width="1" />
<rect x="215.00" y="409.00" width="3.00" height="2.00" fill="#d50f1a" />
<line x1="221.50" y1="410.06" x2="221.50" y2="413.67" stroke="#d50f1a" stroke-width="1" />
<rect x="220.00" y="411.00" width="3.00" height="2.00" fill="#d50f1a" />
<line x1="226.50" y1="414.12" x2="226.50" y2="416.41" stroke="#2f9a1c" stroke-width="1" />
<rect x="225.00" y="413.00" width="3.00" height="2.00" fill="#2f9a1c" />
<line x1="231.50" y1="411.95" x2="231.50" y2="417.15" stroke="#2f9a1c" stroke-width="1" />
<rect x="230.00" y="413.00" width="3.00" height="3.00" fill="#2f9a1c" />
<line x1="235.50" y1="405.87" x2="235.50" y2="413.85" stroke="#2f9a1c" stroke-width="1" />
<rect x="234.00" y="407.00" width="3.00" height="6.00" fill="#2f9a1c" />
<line x1="240.50" y1="402.83" x2="240.50" y2="406.41" stroke="#2f9a1c" stroke-width="1" />
<rect x="239.00" y="404.00" width="3.00" height="3.00" fill="#2f9a1c" />
<line x1="245.50" y1="401.23" x2="245.50" y2="405.41" stroke="#2f9a1c" stroke-width="1" />
<rect x="244.00" y="402.00" width="3.00" height="3.00" fill="#2f9a1c" />
<line x1="249.50" y1="399.85" x2="249.50" y2="405.52" stroke="#d50f1a" stroke-width="1" />
<rect x="248.00" y="402.00" width="3.00" height="4.00" fill="#d50f1a" />
<line x1="254.50" y1="404.47" x2="254.50" y2="411.86" stroke="#d50f1a" stroke-width="1" />
<rect x="253.00" y="405.00" width="3.00" height="7.00" fill="#d50f1a" />
<line x1="259.50" y1="408.97" x2="259.50" y2="417.17" stroke="#d50f1a" stroke-width="1" />
<rect x="258.00" y="412.00" width="3.00" height="5.00" fill="#d50f1a" />
<line x1="264.50" y1="411.39" x2="264.50" y2="417.58" stroke="#2f9a1c" stroke-width="1" />
<rect x="263.00" y="412.00" width="3.00" height="6.00" fill="#2f9a1c" />
<line x1="268.50" y1="410.63" x2="268.50" y2="415.70" stroke="#2f9a1c" stroke-width="1" />
<rect x="267.00" y="410.00" width="3.00" height="3.00" fill="#2f9a1c" />
<line x1="273.50" y1="403.06" x2="273.50" y2="413.34" stroke="#2f9a1c" stroke-width="1" />
<rect x="272.00" y="404.00" width="3.00" height="7.00" fill="#2f9a1c" />
<line x1="278.50" y1="401.52" x2="278.50" y2="408.39" stroke="#d50f1a" stroke-width="1" />
<rect x="277.00" y="403.00" width="3.00" height="3.00" fill="#d50f1a" />
<line x1="282.50" y1="404.34" x2="282.50" y2="408.45" stroke="#d50f1a" stroke-width="1" />
<rect x="281.00" y="405.00" width="3.00" height="4.00" fill="#d50f1a" />
<line x1="287.50" y1="403.55" x2="287.50" y2="408.29" stroke="#2f9a1c" stroke-width="1" />
<rect x="286.00" y="404.00" width="3.00" height="4.00" fill="#2f9a1c" />
<line x1="292.50" y1="396.70" x2="292.50" y2="406.33" stroke="#2f9a1c" stroke-width="1" />
<rect x="291.00" y="398.00" width="3.00" height="7.00" fill="#2f9a1c" />
<line x1="296.50" y1="396.18" x2="296.50" y2="399.42" stroke="#d50f1a" stroke-width="1" />
<rect x="295.00" y="397.00" width="3.00" height="2.00" fill="#d50f1a" />
<line x1="301.50" y1="390.74" x2="301.50" y2="399.02" stroke="#2f9a1c" stroke-width="1" />
<rect x="300.00" y="393.00" width="3.00" height="4.00" fill="#2f9a1c" />
<line x1="306.50" y1="392.24" x2="306.50" y2="395.39" stroke="#2f9a1c" stroke-width="1" />
<rect x="305.00" y="391.00" width="3.00" height="3.00" fill="#2f9a1c" />
<line x1="310.50" y1="392.42" x2="310.50" y2="393.41" stroke="#2f9a1c" stroke-width="1" />
<rect x="309.00" y="392.00" width="3.00" height="2.00" fill="#2f9a1c" />
<line x1="315.50" y1="387.06" x2="315.50" y2="392.77" stroke="#2f9a1c" stroke-width="1" />
<rect x="314.00" y="389.00" width="3.00" height="3.00" fill="#2f9a1c" />
<line x1="320.50" y1="385.07" x2="320.50" y2="392.09" stroke="#2f9a1c" stroke-width="1" />
<rect x="319.00" y="385.00" width="3.00" height="4.00" fill="#2f9a1c" />
<line x1="325.50" y1="381.89" x2="325.50" y2="388.08" stroke="#2f9a1c" stroke-width="1" />
<rect x="324.00" y="384.00" width="3.00" height="3.00" fill="#2f9a1c" />
<line x1="329.50" y1="383.44" x2="329.50" y2="385.67" stroke="#2f9a1c" stroke-width="1" />
<rect x="328.00" y="384.00" width="3.00" height="3.00" fill="#2f9a1c" />
<line x1="334.50" y1="380.49" x2="334.50" y2="385.56" stroke="#2f9a1c" stroke-width="1" />
<rect x="333.00" y="381.00" width="3.00" height="4.00" fill="#2f9a1c" />
<line x1="339.50" y1="378.97" x2="339.50" y2="382.27" stroke="#d50f1a" stroke-width="1" />
<rect x="338.00" y="379.00" width="3.00" height="3.00" fill="#d50f1a" />
<line x1="343.50" y1="378.80" x2="343.50" y2="387.54" stroke="#d50f1a" stroke-width="1" />
<rect x="342.00" y="380.00" width="3.00" height="5.00" fill="#d50f1a" />
<line x1="348.50" y1="380.30" x2="348.50" y2="387.65" stroke="#2f9a1c" stroke-width="1" />
<rect x="347.00" y="383.00" width="3.00" height="3.00" fill="#2f9a1c" />
<line x1="353.50" y1="375.16" x2="353.50" y2="383.26" stroke="#2f9a1c" stroke-width="1" />
<rect x="352.00" y="376.00" width="3.00" height="6.00" fill="#2f9a1c" />
<line x1="358.50" y1="375.99" x2="358.50" y2="382.84" stroke="#d50f1a" stroke-width="1" />
<rect x="357.00" y="376.00" width="3.00" height="6.00" fill="#d50f1a" />
<line x1="362.50" y1="377.53" x2="362.50" y2="385.00" stroke="#2f9a1c" stroke-width="1" />
<rect x="361.00" y="379.00" width="3.00" height="3.00" fill="#2f9a1c" />
<line x1="367.50" y1="377.60" x2="367.50" y2="381.86" stroke="#d50f1a" stroke-width="1" />
<rect x="366.00" y="379.00" width="3.00" height="3.00" fill="#d50f1a" />
<line x1="372.50" y1="376.27" x2="372.50" y2="382.96" stroke="#2f9a1c" stroke-width="1" />
<rect x="371.00" y="378.00" width="3.00" height="5.00" fill="#2f9a1c" />
<line x1="376.50" y1="370.23" x2="376.50" y2="379.72" stroke="#2f9a1c" stroke-width="1" />
<rect x="375.00" y="372.00" width="3.00" height="6.00" fill="#2f9a1c" />
<line x1="381.50" y1="371.19" x2="381.50" y2="377.42" stroke="#d50f1a" stroke-width="1" />
<rect x="380.00" y="372.00" width="3.00" height="2.00" fill="#d50f1a" />
<line x1="386.50" y1="368.30" x2="386.50" y2="373.64" stroke="#2f9a1c" stroke-width="1" />
<rect x="385.00" y="369.00" width="3.00" height="5.00" fill="#2f9a1c" />
<line x1="390.50" y1="369.80" x2="390.50" y2="370.74" stroke="#2f9a1c" stroke-width="1" />
<rect x="389.00" y="369.00" width="3.00" height="2.00" fill="#2f9a1c" />
<line x1="395.50" y1="367.34" x2="395.50" y2="370.41" stroke="#2f9a1c" stroke-width="1" />
<rect x="394.00" y="368.00" width="3.00" height="3.00" fill="#2f9a1c" />
<line x1="400.50" y1="360.98" x2="400.50" y2="368.19" stroke="#2f9a1c" stroke-width="1" />
<rect x="399.00" y="362.00" width="3.00" height="6.00" fill="#2f9a1c" />
<line x1="404.50" y1="355.63" x2="404.50" y2="362.69" stroke="#2f9a1c" stroke-width="1" />
<rect x="403.00" y="359.00" width="3.00" height="3.00" fill="#2f9a1c" />
<line x1="409.50" y1="359.31" x2="409.50" y2="361.28" stroke="#d50f1a" stroke-width="1" />
<rect x="408.00" y="359.00" width="3.00" height="3.00" fill="#d50f1a" />
<line x1="414.50" y1="358.43" x2="414.50" y2="361.53" stroke="#2f9a1c" stroke-width="1" />
<rect x="413.00" y="360.00" width="3.00" height="2.00" fill="#2f9a1c" />
<line x1="419.50" y1="358.25" x2="419.50" y2="364.37" stroke="#2f9a1c" stroke-width="1" />
<rect x="418.00" y="359.00" width="3.00" height="3.00" fill="#2f9a1c" />
<line x1="423.50" y1="358.87" x2="423.50" y2="368.90" stroke="#d50f1a" stroke-width="1" />
<rect x="422.00" y="359.00" width="3.00" height="8.00" fill="#d50f1a" />
<line x1="428.50" y1="366.31" x2="428.50" y2="380.00" stroke="#d50f1a" stroke-width="1" />
<rect x="427.00" y="368.00" width="3.00" height="12.00" fill="#d50f1a" />
<line x1="433.50" y1="371.28" x2="433.50" y2="380.72" stroke="#2f9a1c" stroke-width="1" />
<rect x="432.00" y="372.00" width="3.00" height="8.00" fill="#2f9a1c" />
<line x1="437.50" y1="371.83" x2="437.50" y2="374.45" stroke="#d50f1a" stroke-width="1" />
<rect x="436.00" y="371.00" width="3.00" height="2.00" fill="#d50f1a" />
<line x1="442.50" y1="369.95" x2="442.50" y2="374.12" stroke="#2f9a1c" stroke-width="1" />
<rect x="441.00" y="370.00" width="3.00" height="2.00" fill="#2f9a1c" />
<line x1="447.50" y1="368.87" x2="447.50" y2="384.72" stroke="#d50f1a" stroke-width="1" />
<rect x="446.00" y="369.00" width="3.00" height="15.00" fill="#d50f1a" />
<line x1="452.50" y1="378.42" x2="452.50" y2="384.26" stroke="#2f9a1c" stroke-width="1" />
<rect x="451.00" y="379.00" width="3.00" height="5.00" fill="#2f9a1c" />
<line x1="456.50" y1="364.02" x2="456.50" y2="381.50" stroke="#2f9a1c" stroke-width="1" />
<rect x="455.00" y="367.00" width="3.00" height="12.00" fill="#2f9a1c" />
<line x1="461.50" y1="354.36" x2="461.50" y2="368.57" stroke="#2f9a1c" stroke-width="1" />
<rect x="460.00" y="357.00" width="3.00" height="10.00" fill="#2f9a1c" />
<line x1="466.50" y1="352.99" x2="466.50" y2="357.53" stroke="#2f9a1c" stroke-width="1" />
<rect x="465.00" y="355.00" width="3.00" height="2.00" fill="#2f9a1c" />
<line x1="470.50" y1="353.81" x2="470.50" y2="361.74" stroke="#d50f1a" stroke-width="1" />
<rect x="469.00" y="355.00" width="3.00" height="5.00" fill="#d50f1a" />
<line x1="475.50" y1="351.52" x2="475.50" y2="360.61" stroke="#2f9a1c" stroke-width="1" />
<rect x="474.00" y="353.00" width="3.00" height="5.00" fill="#2f9a1c" />
<line x1="480.50" y1="348.01" x2="480.50" y2="356.91" stroke="#2f9a1c" stroke-width="1" />
<rect x="479.00" y="352.00" width="3.00" height="2.00" fill="#2f9a1c" />
<line x1="484.50" y1="343.58" x2="484.50" y2="351.41" stroke="#2f9a1c" stroke-width="1" />
<rect x="483.00" y="346.00" width="3.00" height="4.00" fill="#2f9a1c" />
<line x1="489.50" y1="344.38" x2="489.50" y2="349.57" stroke="#d50f1a" stroke-width="1" />
<rect x="488.00" y="346.00" width="3.00" height="3.00" fill="#d50f1a" />
<line x1="494.50" y1="344.72" x2="494.50" y2="349.33" stroke="#2f9a1c" stroke-width="1" />
<rect x="493.00" y="346.00" width="3.00" height="2.00" fill="#2f9a1c" />
<line x1="498.50" y1="346.14" x2="498.50" y2="350.61" stroke="#d50f1a" stroke-width="1" />
<rect x="497.00" y="346.00" width="3.00" height="2.00" fill="#d50f1a" />
<line x1="503.50" y1="344.58" x2="503.50" y2="350.74" stroke="#2f9a1c" stroke-width="1" />
<rect x="502.00" y="345.00" width="3.00" height="5.00" fill="#2f9a1c" />
<line x1="508.50" y1="343.52" x2="508.50" y2="349.32" stroke="#d50f1a" stroke-width="1" />
<rect x="507.00" y="344.00" width="3.00" height="4.00" fill="#d50f1a" />
<line x1="513.50" y1="346.85" x2="513.50" y2="357.43" stroke="#d50f1a" stroke-width="1" />
<rect x="512.00" y="347.00" width="3.00" height="9.00" fill="#d50f1a" />
<line x1="517.50" y1="375.89" x2="517.50" y2="387.01" stroke="#d50f1a" stroke-width="1" />
<rect x="516.00" y="376.00" width="3.00" height="8.00" fill="#d50f1a" />
<line x1="522.50" y1="379.04" x2="522.50" y2="410.58" stroke="#d50f1a" stroke-width="1" />
<rect x="521.00" y="381.00" width="3.00" height="27.00" fill="#d50f1a" />
<line x1="527.50" y1="394.90" x2="527.50" y2="412.99" stroke="#d50f1a" stroke-width="1" />
<rect x="526.00" y="405.00" width="3.00" height="6.00" fill="#d50f1a" />
<line x1="531.50" y1="415.91" x2="531.50" y2="445.36" stroke="#d50f1a" stroke-width="1" />
<rect x="530.00" y="424.00" width="3.00" height="21.00" fill="#d50f1a" />
<line x1="536.50" y1="449.71" x2="536.50" y2="475.27" stroke="#2f9a1c" stroke-width="1" />
<rect x="535.00" y="451.00" width="3.00" height="9.00" fill="#2f9a1c" />
<line x1="541.50" y1="417.41" x2="541.50" y2="453.28" stroke="#2f9a1c" stroke-width="1" />
<rect x="540.00" y="418.00" width="3.00" height="29.00" fill="#2f9a1c" />
<line x1="546.50" y1="406.17" x2="546.50" y2="445.56" stroke="#d50f1a" stroke-width="1" />
<rect x="545.00" y="416.00" width="3.00" height="23.00" fill="#d50f1a" />
<line x1="550.50" y1="407.57" x2="550.50" y2="431.34" stroke="#2f9a1c" stroke-width="1" />
<rect x="549.00" y="408.00" width="3.00" height="21.00" fill="#2f9a1c" />
<line x1="555.50" y1="419.38" x2="555.50" y2="439.85" stroke="#d50f1a" stroke-width="1" />
<rect x="554.00" y="421.00" width="3.00" height="13.00" fill="#d50f1a" />
<line x1="560.50" y1="443.27" x2="560.50" y2="464.03" stroke="#2f9a1c" stroke-width="1" />
<rect x="559.00" y="447.00" width="3.00" height="4.00" fill="#2f9a1c" />
<line x1="564.50" y1="473.28" x2="564.50" y2="505.14" stroke="#d50f1a" stroke-width="1" />
<rect x="563.00" y="473.00" width="3.00" height="29.00" fill="#d50f1a" />
<line x1="569.50" y1="468.68" x2="569.50" y2="505.24" stroke="#2f9a1c" stroke-width="1" />
<rect x="568.00" y="469.00" width="3.00" height="17.00" fill="#2f9a1c" />
<line x1="574.50" y1="482.70" x2="574.50" y2="511.83" stroke="#d50f1a" stroke-width="1" />
<rect x="573.00" y="483.00" width="3.00" height="21.00" fill="#d50f1a" />
<line x1="578.50" y1="523.19" x2="578.50" y2="567.99" stroke="#d50f1a" stroke-width="1" />
<rect x="577.00" y="531.00" width="3.00" height="37.00" fill="#d50f1a" />
<line x1="583.50" y1="510.82" x2="583.50" y2="564.67" stroke="#2f9a1c" stroke-width="1" />
<rect x="582.00" y="511.00" width="3.00" height="35.00" fill="#2f9a1c" />
<line x1="588.50" y1="547.30" x2="588.50" y2="592.10" stroke="#d50f1a" stroke-width="1" />
<rect x="587.00" y="561.00" width="3.00" height="30.00" fill="#d50f1a" />
<line x1="592.50" y1="549.54" x2="592.50" y2="595.52" stroke="#2f9a1c" stroke-width="1" />
<rect x="591.00" y="556.00" width="3.00" height="25.00" fill="#2f9a1c" />
<line x1="597.50" y1="574.21" x2="597.50" y2="616.80" stroke="#d50f1a" stroke-width="1" />
<rect x="596.00" y="578.00" width="3.00" height="9.00" fill="#d50f1a" />
<line x1="14.50" y1="737.40" x2="14.50" y2="731.37" stroke="#006b00" stroke-width="1" />
<line x1="19.50" y1="737.40" x2="19.50" y2="733.37" stroke="#006b00" stroke-width="1" />
<line x1="24.50" y1="737.40" x2="24.50" y2="734.99" stroke="#006b00" stroke-width="1" />
<line x1="28.50" y1="737.40" x2="28.50" y2="737.65" stroke="#ff1010" stroke-width="1" />
<line x1="33.50" y1="737.40" x2="33.50" y2="738.44" stroke="#ff1010" stroke-width="1" />
<line x1="38.50" y1="737.40" x2="38.50" y2="739.41" stroke="#ff1010" stroke-width="1" />
<line x1="43.50" y1="737.40" x2="43.50" y2="740.92" stroke="#ff1010" stroke-width="1" />
<line x1="47.50" y1="737.40" x2="47.50" y2="740.98" stroke="#ff1010" stroke-width="1" />
<line x1="52.50" y1="737.40" x2="52.50" y2="742.94" stroke="#ff1010" stroke-width="1" />
<line x1="57.50" y1="737.40" x2="57.50" y2="746.87" stroke="#ff1010" stroke-width="1" />
<line x1="61.50" y1="737.40" x2="61.50" y2="747.65" stroke="#ff1010" stroke-width="1" />
<line x1="66.50" y1="737.40" x2="66.50" y2="745.40" stroke="#8b0000" stroke-width="1" />
<line x1="71.50" y1="737.40" x2="71.50" y2="744.34" stroke="#8b0000" stroke-width="1" />
<line x1="76.50" y1="737.40" x2="76.50" y2="745.83" stroke="#ff1010" stroke-width="1" />
<line x1="80.50" y1="737.40" x2="80.50" y2="744.89" stroke="#8b0000" stroke-width="1" />
<line x1="85.50" y1="737.40" x2="85.50" y2="742.87" stroke="#8b0000" stroke-width="1" />
<line x1="90.50" y1="737.40" x2="90.50" y2="739.53" stroke="#8b0000" stroke-width="1" />
<line x1="94.50" y1="737.40" x2="94.50" y2="737.52" stroke="#8b0000" stroke-width="1" />
<line x1="99.50" y1="737.40" x2="99.50" y2="734.62" stroke="#00e000" stroke-width="1" />
<line x1="104.50" y1="737.40" x2="104.50" y2="733.23" stroke="#00e000" stroke-width="1" />
<line x1="108.50" y1="737.40" x2="108.50" y2="732.13" stroke="#00e000" stroke-width="1" />
<line x1="113.50" y1="737.40" x2="113.50" y2="732.36" stroke="#006b00" stroke-width="1" />
<line x1="118.50" y1="737.40" x2="118.50" y2="731.65" stroke="#00e000" stroke-width="1" />
<line x1="122.50" y1="737.40" x2="122.50" y2="732.12" stroke="#006b00" stroke-width="1" />
<line x1="127.50" y1="737.40" x2="127.50" y2="732.26" stroke="#006b00" stroke-width="1" />
<line x1="132.50" y1="737.40" x2="132.50" y2="732.35" stroke="#006b00" stroke-width="1" />
<line x1="137.50" y1="737.40" x2="137.50" y2="732.05" stroke="#00e000" stroke-width="1" />
<line x1="141.50" y1="737.40" x2="141.50" y2="731.30" stroke="#00e000" stroke-width="1" />
<line x1="146.50" y1="737.40" x2="146.50" y2="731.36" stroke="#006b00" stroke-width="1" />
<line x1="151.50" y1="737.40" x2="151.50" y2="731.28" stroke="#00e000" stroke-width="1" />
<line x1="155.50" y1="737.40" x2="155.50" y2="732.16" stroke="#006b00" stroke-width="1" />
<line x1="160.50" y1="737.40" x2="160.50" y2="731.51" stroke="#00e000" stroke-width="1" />
<line x1="165.50" y1="737.40" x2="165.50" y2="730.93" stroke="#00e000" stroke-width="1" />
<line x1="170.50" y1="737.40" x2="170.50" y2="731.25" stroke="#006b00" stroke-width="1" />
<line x1="174.50" y1="737.40" x2="174.50" y2="731.83" stroke="#006b00" stroke-width="1" />
<line x1="179.50" y1="737.40" x2="179.50" y2="732.20" stroke="#006b00" stroke-width="1" />
<line x1="184.50" y1="737.40" x2="184.50" y2="732.46" stroke="#006b00" stroke-width="1" />
<line x1="188.50" y1="737.40" x2="188.50" y2="733.42" stroke="#006b00" stroke-width="1" />
<line x1="193.50" y1="737.40" x2="193.50" y2="734.18" stroke="#006b00" stroke-width="1" />
<line x1="198.50" y1="737.40" x2="198.50" y2="734.92" stroke="#006b00" stroke-width="1" />
<line x1="202.50" y1="737.40" x2="202.50" y2="735.60" stroke="#006b00" stroke-width="1" />
<line x1="207.50" y1="737.40" x2="207.50" y2="735.04" stroke="#00e000" stroke-width="1" />
<line x1="212.50" y1="737.40" x2="212.50" y2="734.96" stroke="#00e000" stroke-width="1" />
<line x1="216.50" y1="737.40" x2="216.50" y2="735.38" stroke="#006b00" stroke-width="1" />
<line x1="221.50" y1="737.40" x2="221.50" y2="736.63" stroke="#006b00" stroke-width="1" />
<line x1="226.50" y1="737.40" x2="226.50" y2="737.97" stroke="#ff1010" stroke-width="1" />
<line x1="231.50" y1="737.40" x2="231.50" y2="738.66" stroke="#ff1010" stroke-width="1" />
<line x1="235.50" y1="737.40" x2="235.50" y2="737.99" stroke="#8b0000" stroke-width="1" />
<line x1="240.50" y1="737.40" x2="240.50" y2="737.40" stroke="#00e000" stroke-width="1" />
<line x1="245.50" y1="737.40" x2="245.50" y2="736.55" stroke="#00e000" stroke-width="1" />
<line x1="249.50" y1="737.40" x2="249.50" y2="737.00" stroke="#006b00" stroke-width="1" />
<line x1="254.50" y1="737.40" x2="254.50" y2="739.02" stroke="#ff1010" stroke-width="1" />
<line x1="259.50" y1="737.40" x2="259.50" y2="741.58" stroke="#ff1010" stroke-width="1" />
<line x1="264.50" y1="737.40" x2="264.50" y2="742.12" stroke="#ff1010" stroke-width="1" />
<line x1="268.50" y1="737.40" x2="268.50" y2="742.18" stroke="#ff1010" stroke-width="1" />
<line x1="273.50" y1="737.40" x2="273.50" y2="740.61" stroke="#8b0000" stroke-width="1" />
<line x1="278.50" y1="737.40" x2="278.50" y2="740.21" stroke="#8b0000" stroke-width="1" />
<line x1="282.50" y1="737.40" x2="282.50" y2="740.19" stroke="#8b0000" stroke-width="1" />
<line x1="287.50" y1="737.40" x2="287.50" y2="739.72" stroke="#8b0000" stroke-width="1" />
<line x1="292.50" y1="737.40" x2="292.50" y2="738.01" stroke="#8b0000" stroke-width="1" />
<line x1="296.50" y1="737.40" x2="296.50" y2="737.08" stroke="#00e000" stroke-width="1" />
<line x1="301.50" y1="737.40" x2="301.50" y2="735.45" stroke="#00e000" stroke-width="1" />
<line x1="306.50" y1="737.40" x2="306.50" y2="734.66" stroke="#00e000" stroke-width="1" />
<line x1="310.50" y1="737.40" x2="310.50" y2="734.58" stroke="#00e000" stroke-width="1" />
<line x1="315.50" y1="737.40" x2="315.50" y2="734.10" stroke="#00e000" stroke-width="1" />
<line x1="320.50" y1="737.40" x2="320.50" y2="733.31" stroke="#00e000" stroke-width="1" />
<line x1="325.50" y1="737.40" x2="325.50" y2="733.09" stroke="#00e000" stroke-width="1" />
<line x1="329.50" y1="737.40" x2="329.50" y2="733.44" stroke="#006b00" stroke-width="1" />
<line x1="334.50" y1="737.40" x2="334.50" y2="733.20" stroke="#00e000" stroke-width="1" />
<line x1="339.50" y1="737.40" x2="339.50" y2="733.50" stroke="#006b00" stroke-width="1" />
<line x1="343.50" y1="737.40" x2="343.50" y2="735.18" stroke="#006b00" stroke-width="1" />
<line x1="348.50" y1="737.40" x2="348.50" y2="736.08" stroke="#006b00" stroke-width="1" />
<line x1="353.50" y1="737.40" x2="353.50" y2="735.49" stroke="#00e000" stroke-width="1" />
<line x1="358.50" y1="737.40" x2="358.50" y2="736.75" stroke="#006b00" stroke-width="1" />
<line x1="362.50" y1="737.40" x2="362.50" y2="737.21" stroke="#006b00" stroke-width="1" />
<line x1="367.50" y1="737.40" x2="367.50" y2="738.28" stroke="#ff1010" stroke-width="1" />
<line x1="372.50" y1="737.40" x2="372.50" y2="738.30" stroke="#ff1010" stroke-width="1" />
<line x1="376.50" y1="737.40" x2="376.50" y2="737.34" stroke="#00e000" stroke-width="1" />
<line x1="381.50" y1="737.40" x2="381.50" y2="737.52" stroke="#ff1010" stroke-width="1" />
<line x1="386.50" y1="737.40" x2="386.50" y2="736.65" stroke="#00e000" stroke-width="1" />
<line x1="390.50" y1="737.40" x2="390.50" y2="736.67" stroke="#006b00" stroke-width="1" />
<line x1="395.50" y1="737.40" x2="395.50" y2="736.66" stroke="#00e000" stroke-width="1" />
<line x1="400.50" y1="737.40" x2="400.50" y2="735.45" stroke="#00e000" stroke-width="1" />
<line x1="404.50" y1="737.40" x2="404.50" y2="734.37" stroke="#00e000" stroke-width="1" />
<line x1="409.50" y1="737.40" x2="409.50" y2="734.61" stroke="#006b00" stroke-width="1" />
<line x1="414.50" y1="737.40" x2="414.50" y2="735.14" stroke="#006b00" stroke-width="1" />
<line x1="419.50" y1="737.40" x2="419.50" y2="735.68" stroke="#006b00" stroke-width="1" />
<line x1="423.50" y1="737.40" x2="423.50" y2="738.04" stroke="#ff1010" stroke-width="1" />
<line x1="428.50" y1="737.40" x2="428.50" y2="742.62" stroke="#ff1010" stroke-width="1" />
<line x1="433.50" y1="737.40" x2="433.50" y2="743.72" stroke="#ff1010" stroke-width="1" />
<line x1="437.50" y1="737.40" x2="437.50" y2="744.49" stroke="#ff1010" stroke-width="1" />
<line x1="442.50" y1="737.40" x2="442.50" y2="744.30" stroke="#8b0000" stroke-width="1" />
<line x1="447.50" y1="737.40" x2="447.50" y2="747.23" stroke="#ff1010" stroke-width="1" />
<line x1="452.50" y1="737.40" x2="452.50" y2="747.48" stroke="#ff1010" stroke-width="1" />
<line x1="456.50" y1="737.40" x2="456.50" y2="744.64" stroke="#8b0000" stroke-width="1" />
<line x1="461.50" y1="737.40" x2="461.50" y2="740.63" stroke="#8b0000" stroke-width="1" />
<line x1="466.50" y1="737.40" x2="466.50" y2="737.50" stroke="#8b0000" stroke-width="1" />
<line x1="470.50" y1="737.40" x2="470.50" y2="736.69" stroke="#00e000" stroke-width="1" />
<line x1="475.50" y1="737.40" x2="475.50" y2="735.05" stroke="#00e000" stroke-width="1" />
<line x1="480.50" y1="737.40" x2="480.50" y2="734.01" stroke="#00e000" stroke-width="1" />
<line x1="484.50" y1="737.40" x2="484.50" y2="732.53" stroke="#00e000" stroke-width="1" />
<line x1="489.50" y1="737.40" x2="489.50" y2="732.35" stroke="#00e000" stroke-width="1" />
<line x1="494.50" y1="737.40" x2="494.50" y2="732.37" stroke="#006b00" stroke-width="1" />
<line x1="498.50" y1="737.40" x2="498.50" y2="733.39" stroke="#006b00" stroke-width="1" />
<line x1="503.50" y1="737.40" x2="503.50" y2="733.60" stroke="#006b00" stroke-width="1" />
<line x1="508.50" y1="737.40" x2="508.50" y2="734.88" stroke="#006b00" stroke-width="1" />
<line x1="513.50" y1="737.40" x2="513.50" y2="737.98" stroke="#ff1010" stroke-width="1" />
<line x1="517.50" y1="737.40" x2="517.50" y2="746.25" stroke="#ff1010" stroke-width="1" />
<line x1="522.50" y1="737.40" x2="522.50" y2="756.53" stroke="#ff1010" stroke-width="1" />
<line x1="527.50" y1="737.40" x2="527.50" y2="762.79" stroke="#ff1010" stroke-width="1" />
<line x1="531.50" y1="737.40" x2="531.50" y2="773.03" stroke="#ff1010" stroke-width="1" />
<line x1="536.50" y1="737.40" x2="536.50" y2="778.95" stroke="#ff1010" stroke-width="1" />
<line x1="541.50" y1="737.40" x2="541.50" y2="772.99" stroke="#8b0000" stroke-width="1" />
<line x1="546.50" y1="737.40" x2="546.50" y2="771.99" stroke="#8b0000" stroke-width="1" />
<line x1="550.50" y1="737.40" x2="550.50" y2="762.40" stroke="#8b0000" stroke-width="1" />
<line x1="555.50" y1="737.40" x2="555.50" y2="760.61" stroke="#8b0000" stroke-width="1" />
<line x1="560.50" y1="737.40" x2="560.50" y2="760.76" stroke="#ff1010" stroke-width="1" />
<line x1="564.50" y1="737.40" x2="564.50" y2="771.59" stroke="#ff1010" stroke-width="1" />
<line x1="569.50" y1="737.40" x2="569.50" y2="768.71" stroke="#8b0000" stroke-width="1" />
<line x1="574.50" y1="737.40" x2="574.50" y2="772.43" stroke="#ff1010" stroke-width="1" />
<line x1="578.50" y1="737.40" x2="578.50" y2="786.58" stroke="#ff1010" stroke-width="1" />
<line x1="583.50" y1="737.40" x2="583.50" y2="779.54" stroke="#8b0000" stroke-width="1" />
<line x1="588.50" y1="737.40" x2="588.50" y2="789.87" stroke="#ff1010" stroke-width="1" />
<line x1="592.50" y1="737.40" x2="592.50" y2="784.83" stroke="#8b0000" stroke-width="1" />
<line x1="597.50" y1="737.40" x2="597.50" y2="785.30" stroke="#ff1010" stroke-width="1" />
</g>
<line x1="4.50" y1="737.40" x2="847.50" y2="737.40" stroke="#8a2cb8" stroke-width="1.2" />
<polyline points="9.7,725.2 14.4,723.7 19.1,722.7 23.8,722.1 28.5,722.2 33.2,722.4 37.9,722.9 42.6,723.8 47.3,724.7 52.0,726.1 56.7,728.4 61.4,731.0 66.1,733.0 70.8,734.7 75.5,736.9 80.2,738.7 84.9,740.1 89.6,740.6 94.3,740.7 99.0,740.0 103.7,738.9 108.4,737.6 113.1,736.3 117.8,734.9 122.5,733.6 127.2,732.3 131.9,731.0 136.6,729.7 141.3,728.2 146.0,726.7 150.7,725.1 155.4,723.8 160.1,722.3 164.8,720.7 169.5,719.2 174.2,717.8 178.9,716.5 183.6,715.3 188.3,714.3 193.0,713.5 197.7,712.8 202.4,712.4 207.1,711.8 211.8,711.2 216.5,710.7 221.2,710.5 225.9,710.6 230.6,711.0 235.3,711.1 240.0,711.1 244.7,710.9 249.4,710.8 254.1,711.2 258.8,712.2 263.5,713.4 268.2,714.6 272.9,715.4 277.6,716.1 282.3,716.8 287.0,717.4 291.7,717.5 296.4,717.5 301.1,717.0 305.8,716.3 310.5,715.6 315.2,714.8 319.9,713.7 324.6,712.7 329.3,711.7 334.0,710.6 338.7,709.6 343.4,709.1 348.1,708.8 352.8,708.3 357.5,708.1 362.2,708.1 366.9,708.3 371.6,708.5 376.3,708.5 381.0,708.5 385.7,708.4 390.4,708.2 395.1,708.0 399.8,707.5 404.5,706.7 409.2,706.0 413.9,705.5 418.6,705.0 423.3,705.2 428.0,706.5 432.7,708.1 437.4,709.9 442.1,711.6 446.8,714.1 451.5,716.6 456.2,718.4 460.9,719.2 465.6,719.2 470.3,719.0 475.0,718.4 479.7,717.6 484.4,716.4 489.1,715.1 493.8,713.9 498.5,712.9 503.2,711.9 507.9,711.3 512.6,711.4 517.3,713.6 522.0,718.4 526.7,724.8 531.4,733.7 536.1,744.1 540.8,753.0 545.5,761.6 550.2,767.9 554.9,773.7 559.6,779.5 564.3,788.0 569.0,795.9 573.7,804.6 578.4,816.9 583.1,827.5 587.8,840.6 592.5,852.4 597.2,864.4" fill="none" stroke="#b53b3b" stroke-width="1.1"/>
<polyline points="9.7,718.0 14.4,717.7 19.1,718.7 23.8,719.7 28.5,722.4 33.2,723.5 37.9,724.9 42.6,727.3 47.3,728.3 52.0,731.6 56.7,737.9 61.4,741.3 66.1,741.0 70.8,741.7 75.5,745.3 80.2,746.2 84.9,745.6 89.6,742.8 94.3,740.8 99.0,737.2 103.7,734.7 108.4,732.3 113.1,731.3 117.8,729.2 122.5,728.3 127.2,727.2 131.9,726.0 136.6,724.3 141.3,722.1 146.0,720.6 150.7,719.0 155.4,718.6 160.1,716.5 164.8,714.3 169.5,713.0 174.2,712.2 178.9,711.3 183.6,710.3 188.3,710.3 193.0,710.2 197.7,710.4 202.4,710.6 207.1,709.4 211.8,708.8 216.5,708.7 221.2,709.7 225.9,711.2 230.6,712.2 235.3,711.7 240.0,711.1 244.7,710.0 249.4,710.4 254.1,712.8 258.8,716.4 263.5,718.1 268.2,719.4 272.9,718.6 277.6,718.9 282.3,719.6 287.0,719.7 291.7,718.2 296.4,717.1 301.1,715.0 305.8,713.6 310.5,712.8 315.2,711.5 319.9,709.6 324.6,708.4 329.3,707.7 334.0,706.4 338.7,705.8 343.4,706.9 348.1,707.4 352.8,706.4 357.5,707.5 362.2,707.9 366.9,709.2 371.6,709.4 376.3,708.5 381.0,708.7 385.7,707.6 390.4,707.4 395.1,707.2 399.8,705.5 404.5,703.7 409.2,703.3 413.9,703.2 418.6,703.3 423.3,705.9 428.0,711.7 432.7,714.4 437.4,717.0 442.1,718.5 446.8,723.9 451.5,726.7 456.2,725.6 460.9,722.4 465.6,719.3 470.3,718.3 475.0,716.1 479.7,714.2 484.4,711.5 489.1,710.1 493.8,708.8 498.5,708.9 503.2,708.1 507.9,708.8 512.6,712.0 517.3,722.5 522.0,737.6 526.7,750.2 531.4,769.3 536.1,785.6 540.8,788.5 545.5,796.2 550.2,792.9 554.9,796.9 559.6,802.9 564.3,822.2 569.0,827.2 573.7,839.7 578.4,866.1 583.1,869.6 587.8,893.1 592.5,899.9 597.2,912.3" fill="none" stroke="#333" stroke-width="1.1"/>
<rect x="4.50" y="670.50" width="843.00" height="24.00" fill="#f8f8f8" />
<rect x="4.5" y="670.5" width="843.0" height="24.0" fill="none" stroke="#cfcfcf" stroke-width="1"/>
<line x1="265.50" y1="670.50" x2="265.50" y2="694.50" stroke="#d2d2d2" stroke-width="1.2" />
<line x1="331.00" y1="670.50" x2="331.00" y2="694.50" stroke="#d2d2d2" stroke-width="1.2" />
<line x1="397.50" y1="670.50" x2="397.50" y2="694.50" stroke="#d2d2d2" stroke-width="1.2" />
<line x1="463.00" y1="670.50" x2="463.00" y2="694.50" stroke="#d2d2d2" stroke-width="1.2" />
<text x="8.00" y="688.50" font-size="15" fill="#333" >MACD (12, 26, 9, EXPONENTIAL, no)</text>
<text x="269.00" y="688.50" font-size="15" fill="#333" >-204.095</text>
<text x="335.00" y="688.50" font-size="15" fill="#b03030" >-148.203</text>
<text x="401.00" y="688.50" font-size="15" fill="#e01818" >-55.8912</text>
<text x="467.00" y="688.50" font-size="15" fill="#8e2fc4" >0</text>
<text x="850.00" y="346.70" font-size="14.5" fill="#6b6b7a" >3400</text>
<text x="850.00" y="395.90" font-size="14.5" fill="#6b6b7a" >3200</text>
<text x="850.00" y="445.10" font-size="14.5" fill="#6b6b7a" >3000</text>
<text x="850.00" y="494.30" font-size="14.5" fill="#6b6b7a" >2800</text>
<text x="850.00" y="543.50" font-size="14.5" fill="#6b6b7a" >2600</text>
<text x="850.00" y="592.70" font-size="14.5" fill="#6b6b7a" >2400</text>
<text x="850.00" y="641.90" font-size="14.5" fill="#6b6b7a" >2200</text>
<text x="850.00" y="699.85" font-size="14.5" fill="#6b6b7a" >50</text>
<text x="850.00" y="742.70" font-size="14.5" fill="#6b6b7a" >0</text>
<text x="850.00" y="828.40" font-size="14.5" fill="#6b6b7a" >-100</text>
<text x="850.00" y="914.10" font-size="14.5" fill="#6b6b7a" >-200</text>
<rect x="848.00" y="663.50" width="77.00" height="31.00" fill="#fafafa" />
<line x1="4.50" y1="666.50" x2="924.50" y2="666.50" stroke="#dcdcdc" stroke-width="1.2" />
<rect x="850.5" y="394.2" width="57.25" height="16.5" rx="3" fill="#1f3d99"/>
<text x="852.50" y="407.50" font-size="14.5" fill="#ffffff" >3149.35</text>
<rect x="850.5" y="418.8" width="57.25" height="16.5" rx="3" fill="#2c2c2c"/>
<text x="852.50" y="432.10" font-size="14.5" fill="#ffffff" >3044.32</text>
<rect x="850.5" y="506.6" width="57.25" height="16.5" rx="3" fill="#3d9a1a"/>
<text x="852.50" y="519.90" font-size="14.5" fill="#ffffff" >2687.16</text>
<rect x="850.5" y="578" width="49.5" height="16.5" rx="3" fill="#2c2c2c"/>
<text x="852.50" y="591.30" font-size="14.5" fill="#ffffff" >2398.1</text>
<rect x="850.5" y="776" width="57.25" height="16.5" rx="3" fill="#ec1c1c"/>
<text x="852.50" y="789.30" font-size="14.5" fill="#ffffff" >-55.891</text>
<rect x="850.5" y="855.8" width="49.5" height="16.5" rx="3" fill="#a32b2b"/>
<text x="852.50" y="869.10" font-size="14.5" fill="#ffffff" >-148.2</text>
<rect x="4.00" y="921.00" width="921.00" height="21.00" fill="#f8f8f8" />
<text x="49.50" y="938.00" font-size="14.5" fill="#5e6275" >Oct</text>
<text x="157.50" y="938.00" font-size="14.5" fill="#5e6275" >Nov</text>
<text x="251.50" y="938.00" font-size="14.5" fill="#5e6275" >Dec</text>
<text x="350.50" y="938.00" font-size="14.5" fill="#5e6275" >20</text>
<text x="449.50" y="938.00" font-size="14.5" fill="#5e6275" >Feb</text>
<text x="538.50" y="938.00" font-size="14.5" fill="#5e6275" >Mar</text>
<text x="642.50" y="938.00" font-size="14.5" fill="#5e6275" >Apr</text>
<text x="741.50" y="938.00" font-size="14.5" fill="#5e6275" >May</text>
<text x="835.50" y="938.00" font-size="14.5" fill="#5e6275" >Jun</text>
<path d="M505,333.5 L503.5,343.5 L513,333.5" fill="#d9d9d9" stroke="#a9a9a9" stroke-width="1"/>
<rect x="499" y="310.5" width="85.5" height="24.0" rx="4" fill="#d9d9d9" stroke="#a9a9a9" stroke-width="1"/>
<path d="M505.5,333.0 L503.5,343.5 L512.5,333.0" fill="#d9d9d9" stroke="none"/>
<text x="504.50" y="329.00" font-size="14.5" fill="#222" >Hi: 3393.52</text>
<path d="M599,626.5 L597.5,617 L607,626.5" fill="#d9d9d9" stroke="#a9a9a9" stroke-width="1"/>
<rect x="593" y="625.5" width="87.5" height="24.0" rx="4" fill="#d9d9d9" stroke="#a9a9a9" stroke-width="1"/>
<path d="M599.5,627.0 L597.5,617 L606.5,627.0" fill="#d9d9d9" stroke="none"/>
<text x="598.50" y="644.00" font-size="14.5" fill="#222" >Lo: 2280.52</text>
<path d="M535.9,339.7 H542.3000000000001 V355.9 H546.6 L539.1,370.0 L531.6,355.9 H535.9 z" fill="none" stroke="#e8141e" stroke-width="3" stroke-linejoin="miter"/>
<ellipse cx="575" cy="820.8" rx="69.6" ry="143.2" fill="none" stroke="#e21b23" stroke-width="3.5"/>
<rect x="967.50" y="57.50" width="843.00" height="605.50" fill="#fafafa" />
<rect x="967.50" y="694.50" width="843.00" height="226.00" fill="#fafafa" />
<rect x="967.00" y="663.00" width="844.00" height="7.00" fill="#ffffff" />
<line x1="967.50" y1="666.50" x2="1810.50" y2="666.50" stroke="#d0d0d0" stroke-width="1.5" />
<path d="M967.5,57.5 V663.0 H1810.5 V57.5" fill="none" stroke="#b4b4b4" stroke-width="1"/>
<path d="M967.5,670.5 V920.5 H1810.5 V670.5" fill="none" stroke="#b4b4b4" stroke-width="1"/>
<g shape-rendering="crispEdges">
<line x1="971.5" y1="634.0" x2="1804.5" y2="634.0" stroke="#000000" stroke-width="1" stroke-dasharray="1 5"/>
<line x1="967.50" y1="634.00" x2="972.50" y2="634.00" stroke="#111" stroke-width="1.1" />
<line x1="1805.50" y1="634.00" x2="1810.50" y2="634.00" stroke="#111" stroke-width="1.1" />
<line x1="971.5" y1="592.0" x2="1804.5" y2="592.0" stroke="#000000" stroke-width="1" stroke-dasharray="1 5"/>
<line x1="967.50" y1="592.00" x2="972.50" y2="592.00" stroke="#111" stroke-width="1.1" />
<line x1="1805.50" y1="592.00" x2="1810.50" y2="592.00" stroke="#111" stroke-width="1.1" />
<line x1="971.5" y1="550.0" x2="1804.5" y2="550.0" stroke="#000000" stroke-width="1" stroke-dasharray="1 5"/>
<line x1="967.50" y1="550.00" x2="972.50" y2="550.00" stroke="#111" stroke-width="1.1" />
<line x1="1805.50" y1="550.00" x2="1810.50" y2="550.00" stroke="#111" stroke-width="1.1" />
<line x1="971.5" y1="508.0" x2="1804.5" y2="508.0" stroke="#000000" stroke-width="1" stroke-dasharray="1 5"/>
<line x1="967.50" y1="508.00" x2="972.50" y2="508.00" stroke="#111" stroke-width="1.1" />
<line x1="1805.50" y1="508.00" x2="1810.50" y2="508.00" stroke="#111" stroke-width="1.1" />
<line x1="971.5" y1="466.0" x2="1804.5" y2="466.0" stroke="#000000" stroke-width="1" stroke-dasharray="1 5"/>
<line x1="967.50" y1="466.00" x2="972.50" y2="466.00" stroke="#111" stroke-width="1.1" />
<line x1="1805.50" y1="466.00" x2="1810.50" y2="466.00" stroke="#111" stroke-width="1.1" />
<line x1="971.5" y1="424.0" x2="1804.5" y2="424.0" stroke="#000000" stroke-width="1" stroke-dasharray="1 5"/>
<line x1="967.50" y1="424.00" x2="972.50" y2="424.00" stroke="#111" stroke-width="1.1" />
<line x1="1805.50" y1="424.00" x2="1810.50" y2="424.00" stroke="#111" stroke-width="1.1" />
<line x1="971.5" y1="382.0" x2="1804.5" y2="382.0" stroke="#000000" stroke-width="1" stroke-dasharray="1 5"/>
<line x1="967.50" y1="382.00" x2="972.50" y2="382.00" stroke="#111" stroke-width="1.1" />
<line x1="1805.50" y1="382.00" x2="1810.50" y2="382.00" stroke="#111" stroke-width="1.1" />
<line x1="971.5" y1="340.0" x2="1804.5" y2="340.0" stroke="#000000" stroke-width="1" stroke-dasharray="1 5"/>
<line x1="967.50" y1="340.00" x2="972.50" y2="340.00" stroke="#111" stroke-width="1.1" />
<line x1="1805.50" y1="340.00" x2="1810.50" y2="340.00" stroke="#111" stroke-width="1.1" />
<line x1="971.5" y1="298.0" x2="1804.5" y2="298.0" stroke="#000000" stroke-width="1" stroke-dasharray="1 5"/>
<line x1="967.50" y1="298.00" x2="972.50" y2="298.00" stroke="#111" stroke-width="1.1" />
<line x1="1805.50" y1="298.00" x2="1810.50" y2="298.00" stroke="#111" stroke-width="1.1" />
<line x1="971.5" y1="256.0" x2="1804.5" y2="256.0" stroke="#000000" stroke-width="1" stroke-dasharray="1 5"/>
<line x1="967.50" y1="256.00" x2="972.50" y2="256.00" stroke="#111" stroke-width="1.1" />
<line x1="1805.50" y1="256.00" x2="1810.50" y2="256.00" stroke="#111" stroke-width="1.1" />
<line x1="971.5" y1="214.0" x2="1804.5" y2="214.0" stroke="#000000" stroke-width="1" stroke-dasharray="1 5"/>
<line x1="967.50" y1="214.00" x2="972.50" y2="214.00" stroke="#111" stroke-width="1.1" />
<line x1="1805.50" y1="214.00" x2="1810.50" y2="214.00" stroke="#111" stroke-width="1.1" />
<line x1="971.5" y1="172.0" x2="1804.5" y2="172.0" stroke="#000000" stroke-width="1" stroke-dasharray="1 5"/>
<line x1="967.50" y1="172.00" x2="972.50" y2="172.00" stroke="#111" stroke-width="1.1" />
<line x1="1805.50" y1="172.00" x2="1810.50" y2="172.00" stroke="#111" stroke-width="1.1" />
<line x1="971.5" y1="130.0" x2="1804.5" y2="130.0" stroke="#000000" stroke-width="1" stroke-dasharray="1 5"/>
<line x1="967.50" y1="130.00" x2="972.50" y2="130.00" stroke="#111" stroke-width="1.1" />
<line x1="1805.50" y1="130.00" x2="1810.50" y2="130.00" stroke="#111" stroke-width="1.1" />
<line x1="971.5" y1="87.99999999999997" x2="1804.5" y2="87.99999999999997" stroke="#000000" stroke-width="1" stroke-dasharray="1 5"/>
<line x1="967.50" y1="88.00" x2="972.50" y2="88.00" stroke="#111" stroke-width="1.1" />
<line x1="1805.50" y1="88.00" x2="1810.50" y2="88.00" stroke="#111" stroke-width="1.1" />
<line x1="971.5" y1="694.0" x2="1804.5" y2="694.0" stroke="#000000" stroke-width="1" stroke-dasharray="1 5"/>
<line x1="967.50" y1="694.00" x2="972.50" y2="694.00" stroke="#111" stroke-width="1.1" />
<line x1="1805.50" y1="694.00" x2="1810.50" y2="694.00" stroke="#111" stroke-width="1.1" />
<line x1="971.5" y1="723.0" x2="1804.5" y2="723.0" stroke="#000000" stroke-width="1" stroke-dasharray="1 5"/>
<line x1="967.50" y1="723.00" x2="972.50" y2="723.00" stroke="#111" stroke-width="1.1" />
<line x1="1805.50" y1="723.00" x2="1810.50" y2="723.00" stroke="#111" stroke-width="1.1" />
<line x1="971.5" y1="781.0" x2="1804.5" y2="781.0" stroke="#000000" stroke-width="1" stroke-dasharray="1 5"/>
<line x1="967.50" y1="781.00" x2="972.50" y2="781.00" stroke="#111" stroke-width="1.1" />
<line x1="1805.50" y1="781.00" x2="1810.50" y2="781.00" stroke="#111" stroke-width="1.1" />
<line x1="971.5" y1="810.0" x2="1804.5" y2="810.0" stroke="#000000" stroke-width="1" stroke-dasharray="1 5"/>
<line x1="967.50" y1="810.00" x2="972.50" y2="810.00" stroke="#111" stroke-width="1.1" />
<line x1="1805.50" y1="810.00" x2="1810.50" y2="810.00" stroke="#111" stroke-width="1.1" />
<line x1="971.5" y1="839.0" x2="1804.5" y2="839.0" stroke="#000000" stroke-width="1" stroke-dasharray="1 5"/>
<line x1="967.50" y1="839.00" x2="972.50" y2="839.00" stroke="#111" stroke-width="1.1" />
<line x1="1805.50" y1="839.00" x2="1810.50" y2="839.00" stroke="#111" stroke-width="1.1" />
<line x1="971.5" y1="868.0" x2="1804.5" y2="868.0" stroke="#000000" stroke-width="1" stroke-dasharray="1 5"/>
<line x1="967.50" y1="868.00" x2="972.50" y2="868.00" stroke="#111" stroke-width="1.1" />
<line x1="1805.50" y1="868.00" x2="1810.50" y2="868.00" stroke="#111" stroke-width="1.1" />
<line x1="971.5" y1="897.0" x2="1804.5" y2="897.0" stroke="#000000" stroke-width="1" stroke-dasharray="1 5"/>
<line x1="967.50" y1="897.00" x2="972.50" y2="897.00" stroke="#111" stroke-width="1.1" />
<line x1="1805.50" y1="897.00" x2="1810.50" y2="897.00" stroke="#111" stroke-width="1.1" />
<line x1="1012.5" y1="61.5" x2="1012.5" y2="657.0" stroke="#000000" stroke-width="1" stroke-dasharray="1 5"/>
<line x1="1012.5" y1="698.5" x2="1012.5" y2="914.5" stroke="#000000" stroke-width="1" stroke-dasharray="1 5"/>
<line x1="1012.50" y1="57.50" x2="1012.50" y2="62.50" stroke="#222" stroke-width="1.5" />
<line x1="1012.50" y1="658.00" x2="1012.50" y2="663.00" stroke="#222" stroke-width="1.5" />
<line x1="1012.50" y1="694.50" x2="1012.50" y2="699.50" stroke="#222" stroke-width="1.5" />
<line x1="1012.50" y1="915.50" x2="1012.50" y2="920.50" stroke="#222" stroke-width="1.5" />
<line x1="1122.5" y1="61.5" x2="1122.5" y2="657.0" stroke="#000000" stroke-width="1" stroke-dasharray="1 5"/>
<line x1="1122.5" y1="698.5" x2="1122.5" y2="914.5" stroke="#000000" stroke-width="1" stroke-dasharray="1 5"/>
<line x1="1122.50" y1="57.50" x2="1122.50" y2="62.50" stroke="#222" stroke-width="1.5" />
<line x1="1122.50" y1="658.00" x2="1122.50" y2="663.00" stroke="#222" stroke-width="1.5" />
<line x1="1122.50" y1="694.50" x2="1122.50" y2="699.50" stroke="#222" stroke-width="1.5" />
<line x1="1122.50" y1="915.50" x2="1122.50" y2="920.50" stroke="#222" stroke-width="1.5" />
<line x1="1217.5" y1="61.5" x2="1217.5" y2="657.0" stroke="#000000" stroke-width="1" stroke-dasharray="1 5"/>
<line x1="1217.5" y1="698.5" x2="1217.5" y2="914.5" stroke="#000000" stroke-width="1" stroke-dasharray="1 5"/>
<line x1="1217.50" y1="57.50" x2="1217.50" y2="62.50" stroke="#222" stroke-width="1.5" />
<line x1="1217.50" y1="658.00" x2="1217.50" y2="663.00" stroke="#222" stroke-width="1.5" />
<line x1="1217.50" y1="694.50" x2="1217.50" y2="699.50" stroke="#222" stroke-width="1.5" />
<line x1="1217.50" y1="915.50" x2="1217.50" y2="920.50" stroke="#222" stroke-width="1.5" />
<line x1="1317.5" y1="61.5" x2="1317.5" y2="657.0" stroke="#000000" stroke-width="1" stroke-dasharray="1 5"/>
<line x1="1317.5" y1="698.5" x2="1317.5" y2="914.5" stroke="#000000" stroke-width="1" stroke-dasharray="1 5"/>
<line x1="1317.50" y1="57.50" x2="1317.50" y2="62.50" stroke="#222" stroke-width="1.5" />
<line x1="1317.50" y1="658.00" x2="1317.50" y2="663.00" stroke="#222" stroke-width="1.5" />
<line x1="1317.50" y1="694.50" x2="1317.50" y2="699.50" stroke="#222" stroke-width="1.5" />
<line x1="1317.50" y1="915.50" x2="1317.50" y2="920.50" stroke="#222" stroke-width="1.5" />
<line x1="1417.5" y1="61.5" x2="1417.5" y2="657.0" stroke="#000000" stroke-width="1" stroke-dasharray="1 5"/>
<line x1="1417.5" y1="698.5" x2="1417.5" y2="914.5" stroke="#000000" stroke-width="1" stroke-dasharray="1 5"/>
<line x1="1417.50" y1="57.50" x2="1417.50" y2="62.50" stroke="#222" stroke-width="1.5" />
<line x1="1417.50" y1="658.00" x2="1417.50" y2="663.00" stroke="#222" stroke-width="1.5" />
<line x1="1417.50" y1="694.50" x2="1417.50" y2="699.50" stroke="#222" stroke-width="1.5" />
<line x1="1417.50" y1="915.50" x2="1417.50" y2="920.50" stroke="#222" stroke-width="1.5" />
<line x1="1508.5" y1="61.5" x2="1508.5" y2="657.0" stroke="#000000" stroke-width="1" stroke-dasharray="1 5"/>
<line x1="1508.5" y1="698.5" x2="1508.5" y2="914.5" stroke="#000000" stroke-width="1" stroke-dasharray="1 5"/>
<line x1="1508.50" y1="57.50" x2="1508.50" y2="62.50" stroke="#222" stroke-width="1.5" />
<line x1="1508.50" y1="658.00" x2="1508.50" y2="663.00" stroke="#222" stroke-width="1.5" />
<line x1="1508.50" y1="694.50" x2="1508.50" y2="699.50" stroke="#222" stroke-width="1.5" />
<line x1="1508.50" y1="915.50" x2="1508.50" y2="920.50" stroke="#222" stroke-width="1.5" />
<line x1="1612.5" y1="61.5" x2="1612.5" y2="657.0" stroke="#000000" stroke-width="1" stroke-dasharray="1 5"/>
<line x1="1612.5" y1="698.5" x2="1612.5" y2="914.5" stroke="#000000" stroke-width="1" stroke-dasharray="1 5"/>
<line x1="1612.50" y1="57.50" x2="1612.50" y2="62.50" stroke="#222" stroke-width="1.5" />
<line x1="1612.50" y1="658.00" x2="1612.50" y2="663.00" stroke="#222" stroke-width="1.5" />
<line x1="1612.50" y1="694.50" x2="1612.50" y2="699.50" stroke="#222" stroke-width="1.5" />
<line x1="1612.50" y1="915.50" x2="1612.50" y2="920.50" stroke="#222" stroke-width="1.5" />
<line x1="1712.5" y1="61.5" x2="1712.5" y2="657.0" stroke="#000000" stroke-width="1" stroke-dasharray="1 5"/>
<line x1="1712.5" y1="698.5" x2="1712.5" y2="914.5" stroke="#000000" stroke-width="1" stroke-dasharray="1 5"/>
<line x1="1712.50" y1="57.50" x2="1712.50" y2="62.50" stroke="#222" stroke-width="1.5" />
<line x1="1712.50" y1="658.00" x2="1712.50" y2="663.00" stroke="#222" stroke-width="1.5" />
<line x1="1712.50" y1="694.50" x2="1712.50" y2="699.50" stroke="#222" stroke-width="1.5" />
<line x1="1712.50" y1="915.50" x2="1712.50" y2="920.50" stroke="#222" stroke-width="1.5" />
</g>
<polyline points="972.5,536.3 977.3,535.8 982.0,535.3 986.8,534.7 991.5,534.2 996.3,533.7 1001.1,533.2 1005.8,532.6 1010.6,532.1 1015.3,531.6 1020.1,531.1 1024.9,530.5 1029.6,530.0 1034.4,529.5 1039.1,529.0 1043.9,528.5 1048.7,527.9 1053.4,527.4 1058.2,526.9 1062.9,526.4 1067.7,525.8 1072.5,525.3 1077.2,524.8 1082.0,524.3 1086.7,523.7 1091.5,523.2 1096.3,522.7 1101.0,522.2 1105.8,521.7 1110.5,521.1 1115.3,520.6 1120.1,520.1 1124.8,519.6 1129.6,519.0 1134.3,518.5 1139.1,518.0 1143.9,517.5 1148.6,516.9 1153.4,516.4 1158.1,515.9 1162.9,515.4 1167.7,514.8 1172.4,514.3 1177.2,513.8 1181.9,513.3 1186.7,512.8 1191.5,512.2 1196.2,511.7 1201.0,511.2 1205.7,510.7 1210.5,510.1 1215.3,509.6 1220.0,509.1 1224.8,508.6 1229.5,508.0 1234.3,507.5 1239.1,507.0 1243.8,506.5 1248.6,506.0 1253.3,505.4 1258.1,504.9 1262.9,504.4 1267.6,503.9 1272.4,503.3 1277.1,502.8 1281.9,502.3 1286.7,501.7 1291.4,501.1 1296.2,500.5 1300.9,499.9 1305.7,499.4 1310.5,498.8 1315.2,498.2 1320.0,497.6 1324.7,497.0 1329.5,496.5 1334.3,495.9 1339.0,495.3 1343.8,494.7 1348.5,494.1 1353.3,493.6 1358.1,493.0 1362.8,492.4 1367.6,491.8 1372.3,491.2 1377.1,490.7 1381.9,490.1 1386.6,489.5 1391.4,488.9 1396.1,488.3 1400.9,487.8 1405.7,487.2 1410.4,486.6 1415.2,486.0 1419.9,485.4 1424.7,484.9 1429.5,484.3 1434.2,483.7 1439.0,483.1 1443.7,482.5 1448.5,481.9 1453.3,481.4 1458.0,480.8 1462.8,480.2 1467.5,479.6 1472.3,479.0 1477.1,478.4 1481.8,477.8 1486.6,477.2 1491.3,476.7 1496.1,476.1 1500.9,475.5 1505.6,474.9 1510.4,474.3 1515.1,473.7 1519.9,473.1 1524.7,472.5 1529.4,472.5 1534.2,472.6 1538.9,472.7 1543.7,472.7 1548.5,472.8 1553.2,472.8 1558.0,472.9 1562.7,472.9 1567.5,473.0" fill="none" stroke="#2b2b2b" stroke-width="1.1"/>
<polyline points="972.5,503.2 977.3,503.1 982.0,503.2 986.8,503.4 991.5,503.8 996.3,504.1 1001.1,504.4 1005.8,504.8 1010.6,505.2 1015.3,505.6 1020.1,506.3 1024.9,506.9 1029.6,507.5 1034.4,508.0 1039.1,508.7 1043.9,509.4 1048.7,509.7 1053.4,509.8 1058.2,509.8 1062.9,509.0 1067.7,508.6 1072.5,508.1 1077.2,508.0 1082.0,507.6 1086.7,507.2 1091.5,507.0 1096.3,506.3 1101.0,505.6 1105.8,504.8 1110.5,504.4 1115.3,503.8 1120.1,503.3 1124.8,502.7 1129.6,501.5 1134.3,500.5 1139.1,499.6 1143.9,498.6 1148.6,497.7 1153.4,496.9 1158.1,495.9 1162.9,495.0 1167.7,494.4 1172.4,493.7 1177.2,492.9 1181.9,492.1 1186.7,491.5 1191.5,491.0 1196.2,490.4 1201.0,489.6 1205.7,488.8 1210.5,487.9 1215.3,487.1 1220.0,486.3 1224.8,485.7 1229.5,484.7 1234.3,483.9 1239.1,482.8 1243.8,481.7 1248.6,480.6 1253.3,479.4 1258.1,477.8 1262.9,476.4 1267.6,475.0 1272.4,473.5 1277.1,471.8 1281.9,470.2 1286.7,468.5 1291.4,467.0 1296.2,465.5 1300.9,464.1 1305.7,462.6 1310.5,461.2 1315.2,459.8 1320.0,458.2 1324.7,456.7 1329.5,455.1 1334.3,453.6 1339.0,452.1 1343.8,450.6 1348.5,449.1 1353.3,447.5 1358.1,445.9 1362.8,444.4 1367.6,442.8 1372.3,441.2 1377.1,439.6 1381.9,438.0 1386.6,436.5 1391.4,435.0 1396.1,433.9 1400.9,432.6 1405.7,431.3 1410.4,430.0 1415.2,429.0 1419.9,427.8 1424.7,426.2 1429.5,424.6 1434.2,422.8 1439.0,421.3 1443.7,419.6 1448.5,418.1 1453.3,416.3 1458.0,414.4 1462.8,412.3 1467.5,410.4 1472.3,408.3 1477.1,406.4 1481.8,404.8 1486.6,403.8 1491.3,403.3 1496.1,402.9 1500.9,403.1 1505.6,403.6 1510.4,403.3 1515.1,403.6 1519.9,403.4 1524.7,403.7 1529.4,404.3 1534.2,406.0 1538.9,407.1 1543.7,408.9 1548.5,411.8 1553.2,413.7 1558.0,417.3 1562.7,420.2 1567.5,423.7" fill="none" stroke="#1c3f9e" stroke-width="1.3"/>
<line x1="1016.7" y1="528.3" x2="1478.75" y2="415" stroke="#92d4ec" stroke-width="3.6" stroke-linecap="round"/>
<polyline points="972.5,495.8 977.3,495.3 982.0,495.2 986.8,494.9 991.5,495.7 996.3,496.5 1001.1,497.9 1005.8,499.8 1010.6,501.1 1015.3,503.5 1020.1,506.8 1024.9,509.4 1029.6,510.5 1034.4,511.8 1039.1,513.2 1043.9,514.7 1048.7,515.4 1053.4,514.4 1058.2,514.0 1062.9,512.0 1067.7,509.1 1072.5,506.7 1077.2,505.8 1082.0,504.1 1086.7,501.7 1091.5,499.9 1096.3,497.9 1101.0,496.4 1105.8,494.1 1110.5,493.0 1115.3,491.5 1120.1,490.3 1124.8,487.9 1129.6,485.6 1134.3,482.8 1139.1,480.4 1143.9,478.3 1148.6,476.3 1153.4,475.1 1158.1,473.4 1162.9,471.9 1167.7,470.3 1172.4,469.0 1177.2,468.0 1181.9,466.9 1186.7,465.9 1191.5,465.3 1196.2,464.9 1201.0,463.5 1205.7,462.2 1210.5,460.3 1215.3,458.7 1220.0,458.5 1224.8,458.7 1229.5,458.8 1234.3,458.4 1239.1,457.2 1243.8,456.3 1248.6,456.4 1253.3,456.4 1258.1,456.3 1262.9,455.7 1267.6,453.6 1272.4,451.1 1277.1,448.9 1281.9,446.2 1286.7,444.0 1291.4,441.3 1296.2,438.4 1300.9,435.3 1305.7,432.9 1310.5,431.1 1315.2,429.8 1320.0,427.6 1324.7,425.9 1329.5,424.4 1334.3,423.2 1339.0,421.6 1343.8,419.5 1348.5,418.2 1353.3,416.0 1358.1,413.4 1362.8,411.0 1367.6,408.8 1372.3,405.7 1377.1,403.2 1381.9,400.5 1386.6,398.2 1391.4,397.3 1396.1,397.6 1400.9,397.6 1405.7,397.4 1410.4,397.1 1415.2,398.8 1419.9,399.8 1424.7,399.0 1429.5,397.9 1434.2,396.5 1439.0,394.8 1443.7,390.7 1448.5,387.6 1453.3,383.8 1458.0,380.3 1462.8,375.5 1467.5,371.6 1472.3,368.7 1477.1,366.6 1481.8,366.6 1486.6,369.1 1491.3,374.7 1496.1,380.2 1500.9,389.9 1505.6,399.6 1510.4,406.1 1515.1,414.9 1519.9,421.6 1524.7,430.1 1529.4,438.5 1534.2,449.2 1538.9,454.4 1543.7,463.1 1548.5,474.5 1553.2,480.3 1558.0,497.5 1562.7,508.9 1567.5,525.9" fill="none" stroke="#52ad28" stroke-width="1.2"/>
<g shape-rendering="crispEdges">
<line x1="972.50" y1="492.96" x2="972.50" y2="496.30" stroke="#2f9a1c" stroke-width="1" />
<rect x="971.00" y="492.00" width="3.00" height="3.00" fill="#2f9a1c" />
<line x1="977.50" y1="492.01" x2="977.50" y2="496.05" stroke="#d50f1a" stroke-width="1" />
<rect x="976.00" y="491.00" width="3.00" height="2.00" fill="#d50f1a" />
<line x1="982.50" y1="490.44" x2="982.50" y2="498.89" stroke="#d50f1a" stroke-width="1" />
<rect x="981.00" y="494.00" width="3.00" height="4.00" fill="#d50f1a" />
<line x1="987.50" y1="497.35" x2="987.50" y2="498.98" stroke="#d50f1a" stroke-width="1" />
<rect x="986.00" y="497.00" width="3.00" height="3.00" fill="#d50f1a" />
<line x1="992.50" y1="498.79" x2="992.50" y2="510.43" stroke="#d50f1a" stroke-width="1" />
<rect x="991.00" y="499.00" width="3.00" height="10.00" fill="#d50f1a" />
<line x1="996.50" y1="500.45" x2="996.50" y2="508.65" stroke="#2f9a1c" stroke-width="1" />
<rect x="995.00" y="501.00" width="3.00" height="7.00" fill="#2f9a1c" />
<line x1="1001.50" y1="500.01" x2="1001.50" y2="506.71" stroke="#d50f1a" stroke-width="1" />
<rect x="1000.00" y="502.00" width="3.00" height="3.00" fill="#d50f1a" />
<line x1="1006.50" y1="506.21" x2="1006.50" y2="513.86" stroke="#d50f1a" stroke-width="1" />
<rect x="1005.00" y="506.00" width="3.00" height="7.00" fill="#d50f1a" />
<line x1="1011.50" y1="508.00" x2="1011.50" y2="513.06" stroke="#2f9a1c" stroke-width="1" />
<rect x="1010.00" y="508.00" width="3.00" height="5.00" fill="#2f9a1c" />
<line x1="1015.50" y1="507.10" x2="1015.50" y2="516.69" stroke="#d50f1a" stroke-width="1" />
<rect x="1014.00" y="507.00" width="3.00" height="8.00" fill="#d50f1a" />
<line x1="1020.50" y1="513.83" x2="1020.50" y2="526.93" stroke="#d50f1a" stroke-width="1" />
<rect x="1019.00" y="515.00" width="3.00" height="11.00" fill="#d50f1a" />
<line x1="1025.50" y1="516.52" x2="1025.50" y2="525.68" stroke="#2f9a1c" stroke-width="1" />
<rect x="1024.00" y="519.00" width="3.00" height="6.00" fill="#2f9a1c" />
<line x1="1030.50" y1="507.31" x2="1030.50" y2="520.48" stroke="#2f9a1c" stroke-width="1" />
<rect x="1029.00" y="509.00" width="3.00" height="10.00" fill="#2f9a1c" />
<line x1="1034.50" y1="507.54" x2="1034.50" y2="512.46" stroke="#d50f1a" stroke-width="1" />
<rect x="1033.00" y="509.00" width="3.00" height="3.00" fill="#d50f1a" />
<line x1="1039.50" y1="511.78" x2="1039.50" y2="523.53" stroke="#d50f1a" stroke-width="1" />
<rect x="1038.00" y="512.00" width="3.00" height="11.00" fill="#d50f1a" />
<line x1="1044.50" y1="515.44" x2="1044.50" y2="526.00" stroke="#2f9a1c" stroke-width="1" />
<rect x="1043.00" y="516.00" width="3.00" height="8.00" fill="#2f9a1c" />
<line x1="1049.50" y1="511.53" x2="1049.50" y2="518.73" stroke="#2f9a1c" stroke-width="1" />
<rect x="1048.00" y="512.00" width="3.00" height="5.00" fill="#2f9a1c" />
<line x1="1053.50" y1="502.49" x2="1053.50" y2="514.37" stroke="#2f9a1c" stroke-width="1" />
<rect x="1052.00" y="503.00" width="3.00" height="10.00" fill="#2f9a1c" />
<line x1="1058.50" y1="501.51" x2="1058.50" y2="504.19" stroke="#d50f1a" stroke-width="1" />
<rect x="1057.00" y="503.00" width="3.00" height="2.00" fill="#d50f1a" />
<line x1="1063.50" y1="495.19" x2="1063.50" y2="505.23" stroke="#2f9a1c" stroke-width="1" />
<rect x="1062.00" y="496.00" width="3.00" height="10.00" fill="#2f9a1c" />
<line x1="1068.50" y1="494.94" x2="1068.50" y2="497.81" stroke="#d50f1a" stroke-width="1" />
<rect x="1067.00" y="495.00" width="3.00" height="2.00" fill="#d50f1a" />
<line x1="1072.50" y1="493.49" x2="1072.50" y2="498.55" stroke="#2f9a1c" stroke-width="1" />
<rect x="1071.00" y="495.00" width="3.00" height="2.00" fill="#2f9a1c" />
<line x1="1077.50" y1="495.30" x2="1077.50" y2="500.76" stroke="#d50f1a" stroke-width="1" />
<rect x="1076.00" y="496.00" width="3.00" height="4.00" fill="#d50f1a" />
<line x1="1082.50" y1="493.55" x2="1082.50" y2="501.98" stroke="#2f9a1c" stroke-width="1" />
<rect x="1081.00" y="494.00" width="3.00" height="5.00" fill="#2f9a1c" />
<line x1="1087.50" y1="492.26" x2="1087.50" y2="499.73" stroke="#d50f1a" stroke-width="1" />
<rect x="1086.00" y="494.00" width="3.00" height="6.00" fill="#d50f1a" />
<line x1="1092.50" y1="495.35" x2="1092.50" y2="500.20" stroke="#2f9a1c" stroke-width="1" />
<rect x="1091.00" y="497.00" width="3.00" height="4.00" fill="#2f9a1c" />
<line x1="1096.50" y1="492.37" x2="1096.50" y2="501.79" stroke="#2f9a1c" stroke-width="1" />
<rect x="1095.00" y="492.00" width="3.00" height="7.00" fill="#2f9a1c" />
<line x1="1101.50" y1="484.03" x2="1101.50" y2="492.56" stroke="#2f9a1c" stroke-width="1" />
<rect x="1100.00" y="488.00" width="3.00" height="4.00" fill="#2f9a1c" />
<line x1="1106.50" y1="479.57" x2="1106.50" y2="490.52" stroke="#2f9a1c" stroke-width="1" />
<rect x="1105.00" y="481.00" width="3.00" height="8.00" fill="#2f9a1c" />
<line x1="1111.50" y1="478.04" x2="1111.50" y2="487.64" stroke="#d50f1a" stroke-width="1" />
<rect x="1110.00" y="480.00" width="3.00" height="5.00" fill="#d50f1a" />
<line x1="1115.50" y1="482.04" x2="1115.50" y2="486.05" stroke="#2f9a1c" stroke-width="1" />
<rect x="1114.00" y="483.00" width="3.00" height="2.00" fill="#2f9a1c" />
<line x1="1120.50" y1="482.68" x2="1120.50" y2="483.93" stroke="#2f9a1c" stroke-width="1" />
<rect x="1119.00" y="482.00" width="3.00" height="2.00" fill="#2f9a1c" />
<line x1="1125.50" y1="474.65" x2="1125.50" y2="483.20" stroke="#2f9a1c" stroke-width="1" />
<rect x="1124.00" y="476.00" width="3.00" height="8.00" fill="#2f9a1c" />
<line x1="1130.50" y1="469.75" x2="1130.50" y2="476.99" stroke="#2f9a1c" stroke-width="1" />
<rect x="1129.00" y="472.00" width="3.00" height="5.00" fill="#2f9a1c" />
<line x1="1134.50" y1="471.34" x2="1134.50" y2="474.06" stroke="#2f9a1c" stroke-width="1" />
<rect x="1133.00" y="471.00" width="3.00" height="3.00" fill="#2f9a1c" />
<line x1="1139.50" y1="469.39" x2="1139.50" y2="473.94" stroke="#d50f1a" stroke-width="1" />
<rect x="1138.00" y="471.00" width="3.00" height="3.00" fill="#d50f1a" />
<line x1="1144.50" y1="471.15" x2="1144.50" y2="474.98" stroke="#2f9a1c" stroke-width="1" />
<rect x="1143.00" y="471.00" width="3.00" height="3.00" fill="#2f9a1c" />
<line x1="1149.50" y1="467.65" x2="1149.50" y2="472.38" stroke="#2f9a1c" stroke-width="1" />
<rect x="1148.00" y="468.00" width="3.00" height="4.00" fill="#2f9a1c" />
<line x1="1153.50" y1="465.69" x2="1153.50" y2="469.66" stroke="#d50f1a" stroke-width="1" />
<rect x="1152.00" y="467.00" width="3.00" height="3.00" fill="#d50f1a" />
<line x1="1158.50" y1="465.90" x2="1158.50" y2="469.51" stroke="#2f9a1c" stroke-width="1" />
<rect x="1157.00" y="466.00" width="3.00" height="3.00" fill="#2f9a1c" />
<line x1="1163.50" y1="466.80" x2="1163.50" y2="469.26" stroke="#2f9a1c" stroke-width="1" />
<rect x="1162.00" y="467.00" width="3.00" height="3.00" fill="#2f9a1c" />
<line x1="1168.50" y1="464.81" x2="1168.50" y2="467.83" stroke="#2f9a1c" stroke-width="1" />
<rect x="1167.00" y="467.00" width="3.00" height="2.00" fill="#2f9a1c" />
<line x1="1172.50" y1="460.90" x2="1172.50" y2="467.32" stroke="#2f9a1c" stroke-width="1" />
<rect x="1171.00" y="463.00" width="3.00" height="4.00" fill="#2f9a1c" />
<line x1="1177.50" y1="460.57" x2="1177.50" y2="462.38" stroke="#2f9a1c" stroke-width="1" />
<rect x="1176.00" y="461.00" width="3.00" height="2.00" fill="#2f9a1c" />
<line x1="1182.50" y1="459.17" x2="1182.50" y2="463.41" stroke="#2f9a1c" stroke-width="1" />
<rect x="1181.00" y="460.00" width="3.00" height="2.00" fill="#2f9a1c" />
<line x1="1187.50" y1="457.03" x2="1187.50" y2="464.29" stroke="#d50f1a" stroke-width="1" />
<rect x="1186.00" y="459.00" width="3.00" height="5.00" fill="#d50f1a" />
<line x1="1191.50" y1="463.62" x2="1191.50" y2="466.03" stroke="#d50f1a" stroke-width="1" />
<rect x="1190.00" y="463.00" width="3.00" height="4.00" fill="#d50f1a" />
<line x1="1196.50" y1="463.72" x2="1196.50" y2="469.21" stroke="#2f9a1c" stroke-width="1" />
<rect x="1195.00" y="463.00" width="3.00" height="4.00" fill="#2f9a1c" />
<line x1="1201.50" y1="454.28" x2="1201.50" y2="467.41" stroke="#2f9a1c" stroke-width="1" />
<rect x="1200.00" y="455.00" width="3.00" height="10.00" fill="#2f9a1c" />
<line x1="1206.50" y1="452.26" x2="1206.50" y2="456.79" stroke="#2f9a1c" stroke-width="1" />
<rect x="1205.00" y="453.00" width="3.00" height="3.00" fill="#2f9a1c" />
<line x1="1210.50" y1="448.42" x2="1210.50" y2="455.29" stroke="#2f9a1c" stroke-width="1" />
<rect x="1209.00" y="449.00" width="3.00" height="5.00" fill="#2f9a1c" />
<line x1="1215.50" y1="448.71" x2="1215.50" y2="454.40" stroke="#d50f1a" stroke-width="1" />
<rect x="1214.00" y="449.00" width="3.00" height="3.00" fill="#d50f1a" />
<line x1="1220.50" y1="450.74" x2="1220.50" y2="461.03" stroke="#d50f1a" stroke-width="1" />
<rect x="1219.00" y="453.00" width="3.00" height="7.00" fill="#d50f1a" />
<line x1="1225.50" y1="458.41" x2="1225.50" y2="464.41" stroke="#d50f1a" stroke-width="1" />
<rect x="1224.00" y="460.00" width="3.00" height="4.00" fill="#d50f1a" />
<line x1="1230.50" y1="459.60" x2="1230.50" y2="466.56" stroke="#2f9a1c" stroke-width="1" />
<rect x="1229.00" y="460.00" width="3.00" height="5.00" fill="#2f9a1c" />
<line x1="1234.50" y1="458.21" x2="1234.50" y2="462.22" stroke="#d50f1a" stroke-width="1" />
<rect x="1233.00" y="459.00" width="3.00" height="2.00" fill="#d50f1a" />
<line x1="1239.50" y1="451.33" x2="1239.50" y2="462.58" stroke="#2f9a1c" stroke-width="1" />
<rect x="1238.00" y="453.00" width="3.00" height="8.00" fill="#2f9a1c" />
<line x1="1244.50" y1="450.55" x2="1244.50" y2="458.12" stroke="#d50f1a" stroke-width="1" />
<rect x="1243.00" y="452.00" width="3.00" height="4.00" fill="#d50f1a" />
<line x1="1249.50" y1="453.51" x2="1249.50" y2="460.07" stroke="#d50f1a" stroke-width="1" />
<rect x="1248.00" y="454.00" width="3.00" height="3.00" fill="#d50f1a" />
<line x1="1253.50" y1="451.21" x2="1253.50" y2="455.55" stroke="#2f9a1c" stroke-width="1" />
<rect x="1252.00" y="453.00" width="3.00" height="2.00" fill="#2f9a1c" />
<line x1="1258.50" y1="445.90" x2="1258.50" y2="457.11" stroke="#2f9a1c" stroke-width="1" />
<rect x="1257.00" y="448.00" width="3.00" height="6.00" fill="#2f9a1c" />
<line x1="1263.50" y1="445.40" x2="1263.50" y2="450.25" stroke="#2f9a1c" stroke-width="1" />
<rect x="1262.00" y="445.00" width="3.00" height="4.00" fill="#2f9a1c" />
<line x1="1268.50" y1="438.37" x2="1268.50" y2="448.23" stroke="#2f9a1c" stroke-width="1" />
<rect x="1267.00" y="440.00" width="3.00" height="6.00" fill="#2f9a1c" />
<line x1="1272.50" y1="438.03" x2="1272.50" y2="440.98" stroke="#2f9a1c" stroke-width="1" />
<rect x="1271.00" y="438.00" width="3.00" height="3.00" fill="#2f9a1c" />
<line x1="1277.50" y1="438.14" x2="1277.50" y2="440.86" stroke="#2f9a1c" stroke-width="1" />
<rect x="1276.00" y="437.00" width="3.00" height="2.00" fill="#2f9a1c" />
<line x1="1282.50" y1="432.60" x2="1282.50" y2="438.30" stroke="#2f9a1c" stroke-width="1" />
<rect x="1281.00" y="433.00" width="3.00" height="5.00" fill="#2f9a1c" />
<line x1="1287.50" y1="429.68" x2="1287.50" y2="434.68" stroke="#2f9a1c" stroke-width="1" />
<rect x="1286.00" y="430.00" width="3.00" height="4.00" fill="#2f9a1c" />
<line x1="1291.50" y1="428.32" x2="1291.50" y2="430.38" stroke="#2f9a1c" stroke-width="1" />
<rect x="1290.00" y="428.00" width="3.00" height="3.00" fill="#2f9a1c" />
<line x1="1296.50" y1="427.94" x2="1296.50" y2="429.39" stroke="#2f9a1c" stroke-width="1" />
<rect x="1295.00" y="427.00" width="3.00" height="3.00" fill="#2f9a1c" />
<line x1="1301.50" y1="421.73" x2="1301.50" y2="429.98" stroke="#2f9a1c" stroke-width="1" />
<rect x="1300.00" y="422.00" width="3.00" height="7.00" fill="#2f9a1c" />
<line x1="1306.50" y1="421.41" x2="1306.50" y2="423.82" stroke="#d50f1a" stroke-width="1" />
<rect x="1305.00" y="422.00" width="3.00" height="2.00" fill="#d50f1a" />
<line x1="1310.50" y1="422.40" x2="1310.50" y2="429.85" stroke="#d50f1a" stroke-width="1" />
<rect x="1309.00" y="424.00" width="3.00" height="5.00" fill="#d50f1a" />
<line x1="1315.50" y1="426.26" x2="1315.50" y2="429.41" stroke="#2f9a1c" stroke-width="1" />
<rect x="1314.00" y="426.00" width="3.00" height="3.00" fill="#2f9a1c" />
<line x1="1320.50" y1="415.98" x2="1320.50" y2="428.26" stroke="#2f9a1c" stroke-width="1" />
<rect x="1319.00" y="416.00" width="3.00" height="10.00" fill="#2f9a1c" />
<line x1="1325.50" y1="416.67" x2="1325.50" y2="423.53" stroke="#d50f1a" stroke-width="1" />
<rect x="1324.00" y="417.00" width="3.00" height="5.00" fill="#d50f1a" />
<line x1="1330.50" y1="417.48" x2="1330.50" y2="424.02" stroke="#2f9a1c" stroke-width="1" />
<rect x="1329.00" y="418.00" width="3.00" height="6.00" fill="#2f9a1c" />
<line x1="1334.50" y1="417.02" x2="1334.50" y2="419.93" stroke="#d50f1a" stroke-width="1" />
<rect x="1333.00" y="417.00" width="3.00" height="2.00" fill="#d50f1a" />
<line x1="1339.50" y1="412.49" x2="1339.50" y2="418.76" stroke="#2f9a1c" stroke-width="1" />
<rect x="1338.00" y="413.00" width="3.00" height="4.00" fill="#2f9a1c" />
<line x1="1344.50" y1="406.01" x2="1344.50" y2="413.72" stroke="#2f9a1c" stroke-width="1" />
<rect x="1343.00" y="407.00" width="3.00" height="6.00" fill="#2f9a1c" />
<line x1="1349.50" y1="406.38" x2="1349.50" y2="410.08" stroke="#d50f1a" stroke-width="1" />
<rect x="1348.00" y="407.00" width="3.00" height="3.00" fill="#d50f1a" />
<line x1="1353.50" y1="398.96" x2="1353.50" y2="408.48" stroke="#2f9a1c" stroke-width="1" />
<rect x="1352.00" y="401.00" width="3.00" height="7.00" fill="#2f9a1c" />
<line x1="1358.50" y1="401.50" x2="1358.50" y2="402.93" stroke="#d50f1a" stroke-width="1" />
<rect x="1357.00" y="401.00" width="3.00" height="3.00" fill="#d50f1a" />
<line x1="1363.50" y1="400.36" x2="1363.50" y2="404.88" stroke="#2f9a1c" stroke-width="1" />
<rect x="1362.00" y="401.00" width="3.00" height="4.00" fill="#2f9a1c" />
<line x1="1368.50" y1="391.82" x2="1368.50" y2="405.65" stroke="#2f9a1c" stroke-width="1" />
<rect x="1367.00" y="394.00" width="3.00" height="9.00" fill="#2f9a1c" />
<line x1="1372.50" y1="390.35" x2="1372.50" y2="394.96" stroke="#2f9a1c" stroke-width="1" />
<rect x="1371.00" y="391.00" width="3.00" height="3.00" fill="#2f9a1c" />
<line x1="1377.50" y1="390.58" x2="1377.50" y2="393.11" stroke="#d50f1a" stroke-width="1" />
<rect x="1376.00" y="391.00" width="3.00" height="3.00" fill="#d50f1a" />
<line x1="1382.50" y1="390.02" x2="1382.50" y2="392.99" stroke="#2f9a1c" stroke-width="1" />
<rect x="1381.00" y="391.00" width="3.00" height="2.00" fill="#2f9a1c" />
<line x1="1387.50" y1="388.43" x2="1387.50" y2="392.75" stroke="#2f9a1c" stroke-width="1" />
<rect x="1386.00" y="390.00" width="3.00" height="2.00" fill="#2f9a1c" />
<line x1="1391.50" y1="388.76" x2="1391.50" y2="401.49" stroke="#d50f1a" stroke-width="1" />
<rect x="1390.00" y="391.00" width="3.00" height="7.00" fill="#d50f1a" />
<line x1="1396.50" y1="397.37" x2="1396.50" y2="413.98" stroke="#d50f1a" stroke-width="1" />
<rect x="1395.00" y="398.00" width="3.00" height="15.00" fill="#d50f1a" />
<line x1="1401.50" y1="400.16" x2="1401.50" y2="414.55" stroke="#2f9a1c" stroke-width="1" />
<rect x="1400.00" y="401.00" width="3.00" height="12.00" fill="#2f9a1c" />
<line x1="1406.50" y1="400.32" x2="1406.50" y2="404.82" stroke="#2f9a1c" stroke-width="1" />
<rect x="1405.00" y="400.00" width="3.00" height="3.00" fill="#2f9a1c" />
<line x1="1410.50" y1="397.71" x2="1410.50" y2="402.51" stroke="#2f9a1c" stroke-width="1" />
<rect x="1409.00" y="399.00" width="3.00" height="3.00" fill="#2f9a1c" />
<line x1="1415.50" y1="397.81" x2="1415.50" y2="412.44" stroke="#d50f1a" stroke-width="1" />
<rect x="1414.00" y="398.00" width="3.00" height="13.00" fill="#d50f1a" />
<line x1="1420.50" y1="398.48" x2="1420.50" y2="415.83" stroke="#2f9a1c" stroke-width="1" />
<rect x="1419.00" y="401.00" width="3.00" height="11.00" fill="#2f9a1c" />
<line x1="1425.50" y1="383.36" x2="1425.50" y2="402.81" stroke="#2f9a1c" stroke-width="1" />
<rect x="1424.00" y="385.00" width="3.00" height="17.00" fill="#2f9a1c" />
<line x1="1429.50" y1="379.29" x2="1429.50" y2="386.06" stroke="#2f9a1c" stroke-width="1" />
<rect x="1428.00" y="381.00" width="3.00" height="3.00" fill="#2f9a1c" />
<line x1="1434.50" y1="375.85" x2="1434.50" y2="383.67" stroke="#2f9a1c" stroke-width="1" />
<rect x="1433.00" y="376.00" width="3.00" height="6.00" fill="#2f9a1c" />
<line x1="1439.50" y1="375.40" x2="1439.50" y2="381.37" stroke="#d50f1a" stroke-width="1" />
<rect x="1438.00" y="376.00" width="3.00" height="4.00" fill="#d50f1a" />
<line x1="1444.50" y1="369.82" x2="1444.50" y2="380.73" stroke="#2f9a1c" stroke-width="1" />
<rect x="1443.00" y="371.00" width="3.00" height="9.00" fill="#2f9a1c" />
<line x1="1448.50" y1="369.99" x2="1448.50" y2="371.05" stroke="#2f9a1c" stroke-width="1" />
<rect x="1447.00" y="369.00" width="3.00" height="2.00" fill="#2f9a1c" />
<line x1="1453.50" y1="359.78" x2="1453.50" y2="372.06" stroke="#2f9a1c" stroke-width="1" />
<rect x="1452.00" y="363.00" width="3.00" height="8.00" fill="#2f9a1c" />
<line x1="1458.50" y1="362.04" x2="1458.50" y2="364.27" stroke="#d50f1a" stroke-width="1" />
<rect x="1457.00" y="361.00" width="3.00" height="4.00" fill="#d50f1a" />
<line x1="1463.50" y1="360.80" x2="1463.50" y2="364.60" stroke="#2f9a1c" stroke-width="1" />
<rect x="1462.00" y="362.00" width="3.00" height="3.00" fill="#2f9a1c" />
<line x1="1468.50" y1="361.11" x2="1468.50" y2="363.73" stroke="#d50f1a" stroke-width="1" />
<rect x="1467.00" y="361.00" width="3.00" height="2.00" fill="#d50f1a" />
<line x1="1472.50" y1="354.22" x2="1472.50" y2="362.65" stroke="#2f9a1c" stroke-width="1" />
<rect x="1471.00" y="355.00" width="3.00" height="6.00" fill="#2f9a1c" />
<line x1="1477.50" y1="354.29" x2="1477.50" y2="362.12" stroke="#d50f1a" stroke-width="1" />
<rect x="1476.00" y="355.00" width="3.00" height="6.00" fill="#d50f1a" />
<line x1="1482.50" y1="357.70" x2="1482.50" y2="376.73" stroke="#d50f1a" stroke-width="1" />
<rect x="1481.00" y="360.00" width="3.00" height="15.00" fill="#d50f1a" />
<line x1="1487.50" y1="397.12" x2="1487.50" y2="410.56" stroke="#2f9a1c" stroke-width="1" />
<rect x="1486.00" y="405.00" width="3.00" height="4.00" fill="#2f9a1c" />
<line x1="1491.50" y1="398.72" x2="1491.50" y2="427.61" stroke="#d50f1a" stroke-width="1" />
<rect x="1490.00" y="400.00" width="3.00" height="27.00" fill="#d50f1a" />
<line x1="1496.50" y1="412.83" x2="1496.50" y2="428.79" stroke="#d50f1a" stroke-width="1" />
<rect x="1495.00" y="424.00" width="3.00" height="2.00" fill="#d50f1a" />
<line x1="1501.50" y1="434.33" x2="1501.50" y2="460.62" stroke="#d50f1a" stroke-width="1" />
<rect x="1500.00" y="449.00" width="3.00" height="11.00" fill="#d50f1a" />
<line x1="1506.50" y1="460.04" x2="1506.50" y2="485.82" stroke="#2f9a1c" stroke-width="1" />
<rect x="1505.00" y="460.00" width="3.00" height="21.00" fill="#2f9a1c" />
<line x1="1510.50" y1="427.95" x2="1510.50" y2="462.81" stroke="#2f9a1c" stroke-width="1" />
<rect x="1509.00" y="428.00" width="3.00" height="24.00" fill="#2f9a1c" />
<line x1="1515.50" y1="418.12" x2="1515.50" y2="457.85" stroke="#d50f1a" stroke-width="1" />
<rect x="1514.00" y="424.00" width="3.00" height="26.00" fill="#d50f1a" />
<line x1="1520.50" y1="422.40" x2="1520.50" y2="439.79" stroke="#2f9a1c" stroke-width="1" />
<rect x="1519.00" y="422.00" width="3.00" height="13.00" fill="#2f9a1c" />
<line x1="1525.50" y1="432.15" x2="1525.50" y2="449.28" stroke="#d50f1a" stroke-width="1" />
<rect x="1524.00" y="440.00" width="3.00" height="6.00" fill="#d50f1a" />
<line x1="1529.50" y1="454.41" x2="1529.50" y2="478.60" stroke="#2f9a1c" stroke-width="1" />
<rect x="1528.00" y="460.00" width="3.00" height="14.00" fill="#2f9a1c" />
<line x1="1534.50" y1="488.68" x2="1534.50" y2="516.40" stroke="#d50f1a" stroke-width="1" />
<rect x="1533.00" y="503.00" width="3.00" height="9.00" fill="#d50f1a" />
<line x1="1539.50" y1="479.10" x2="1539.50" y2="516.99" stroke="#2f9a1c" stroke-width="1" />
<rect x="1538.00" y="479.00" width="3.00" height="15.00" fill="#2f9a1c" />
<line x1="1544.50" y1="500.10" x2="1544.50" y2="524.88" stroke="#d50f1a" stroke-width="1" />
<rect x="1543.00" y="500.00" width="3.00" height="12.00" fill="#d50f1a" />
<line x1="1548.50" y1="540.09" x2="1548.50" y2="575.12" stroke="#d50f1a" stroke-width="1" />
<rect x="1547.00" y="555.00" width="3.00" height="20.00" fill="#d50f1a" />
<line x1="1553.50" y1="518.50" x2="1553.50" y2="572.26" stroke="#2f9a1c" stroke-width="1" />
<rect x="1552.00" y="518.00" width="3.00" height="28.00" fill="#2f9a1c" />
<line x1="1558.50" y1="564.53" x2="1558.50" y2="600.40" stroke="#d50f1a" stroke-width="1" />
<rect x="1557.00" y="583.00" width="3.00" height="17.00" fill="#d50f1a" />
<line x1="1563.50" y1="558.65" x2="1563.50" y2="599.81" stroke="#2f9a1c" stroke-width="1" />
<rect x="1562.00" y="564.00" width="3.00" height="22.00" fill="#2f9a1c" />
<line x1="1568.50" y1="576.63" x2="1568.50" y2="618.38" stroke="#2f9a1c" stroke-width="1" />
<rect x="1567.00" y="593.00" width="3.00" height="7.00" fill="#2f9a1c" />
<line x1="977.50" y1="752.00" x2="977.50" y2="745.97" stroke="#006b00" stroke-width="1" />
<line x1="982.50" y1="752.00" x2="982.50" y2="748.24" stroke="#006b00" stroke-width="1" />
<line x1="987.50" y1="752.00" x2="987.50" y2="750.05" stroke="#006b00" stroke-width="1" />
<line x1="992.50" y1="752.00" x2="992.50" y2="753.59" stroke="#ff1010" stroke-width="1" />
<line x1="996.50" y1="752.00" x2="996.50" y2="754.27" stroke="#ff1010" stroke-width="1" />
<line x1="1001.50" y1="752.00" x2="1001.50" y2="755.54" stroke="#ff1010" stroke-width="1" />
<line x1="1006.50" y1="752.00" x2="1006.50" y2="757.92" stroke="#ff1010" stroke-width="1" />
<line x1="1011.50" y1="752.00" x2="1011.50" y2="758.07" stroke="#ff1010" stroke-width="1" />
<line x1="1015.50" y1="752.00" x2="1015.50" y2="759.58" stroke="#ff1010" stroke-width="1" />
<line x1="1020.50" y1="752.00" x2="1020.50" y2="762.45" stroke="#ff1010" stroke-width="1" />
<line x1="1025.50" y1="752.00" x2="1025.50" y2="762.11" stroke="#8b0000" stroke-width="1" />
<line x1="1030.50" y1="752.00" x2="1030.50" y2="759.32" stroke="#8b0000" stroke-width="1" />
<line x1="1034.50" y1="752.00" x2="1034.50" y2="757.65" stroke="#8b0000" stroke-width="1" />
<line x1="1039.50" y1="752.00" x2="1039.50" y2="758.73" stroke="#ff1010" stroke-width="1" />
<line x1="1044.50" y1="752.00" x2="1044.50" y2="757.52" stroke="#8b0000" stroke-width="1" />
<line x1="1049.50" y1="752.00" x2="1049.50" y2="755.54" stroke="#8b0000" stroke-width="1" />
<line x1="1053.50" y1="752.00" x2="1053.50" y2="752.07" stroke="#8b0000" stroke-width="1" />
<line x1="1058.50" y1="752.00" x2="1058.50" y2="749.98" stroke="#00e000" stroke-width="1" />
<line x1="1063.50" y1="752.00" x2="1063.50" y2="746.86" stroke="#00e000" stroke-width="1" />
<line x1="1068.50" y1="752.00" x2="1068.50" y2="745.57" stroke="#00e000" stroke-width="1" />
<line x1="1072.50" y1="752.00" x2="1072.50" y2="744.45" stroke="#00e000" stroke-width="1" />
<line x1="1077.50" y1="752.00" x2="1077.50" y2="745.37" stroke="#006b00" stroke-width="1" />
<line x1="1082.50" y1="752.00" x2="1082.50" y2="744.94" stroke="#00e000" stroke-width="1" />
<line x1="1087.50" y1="752.00" x2="1087.50" y2="746.12" stroke="#006b00" stroke-width="1" />
<line x1="1092.50" y1="752.00" x2="1092.50" y2="746.90" stroke="#006b00" stroke-width="1" />
<line x1="1096.50" y1="752.00" x2="1096.50" y2="746.47" stroke="#00e000" stroke-width="1" />
<line x1="1101.50" y1="752.00" x2="1101.50" y2="745.47" stroke="#00e000" stroke-width="1" />
<line x1="1106.50" y1="752.00" x2="1106.50" y2="743.74" stroke="#00e000" stroke-width="1" />
<line x1="1111.50" y1="752.00" x2="1111.50" y2="744.05" stroke="#006b00" stroke-width="1" />
<line x1="1115.50" y1="752.00" x2="1115.50" y2="744.28" stroke="#006b00" stroke-width="1" />
<line x1="1120.50" y1="752.00" x2="1120.50" y2="745.14" stroke="#006b00" stroke-width="1" />
<line x1="1125.50" y1="752.00" x2="1125.50" y2="744.43" stroke="#00e000" stroke-width="1" />
<line x1="1130.50" y1="752.00" x2="1130.50" y2="743.66" stroke="#00e000" stroke-width="1" />
<line x1="1134.50" y1="752.00" x2="1134.50" y2="743.76" stroke="#006b00" stroke-width="1" />
<line x1="1139.50" y1="752.00" x2="1139.50" y2="744.88" stroke="#006b00" stroke-width="1" />
<line x1="1144.50" y1="752.00" x2="1144.50" y2="745.71" stroke="#006b00" stroke-width="1" />
<line x1="1149.50" y1="752.00" x2="1149.50" y2="746.03" stroke="#006b00" stroke-width="1" />
<line x1="1153.50" y1="752.00" x2="1153.50" y2="746.97" stroke="#006b00" stroke-width="1" />
<line x1="1158.50" y1="752.00" x2="1158.50" y2="747.67" stroke="#006b00" stroke-width="1" />
<line x1="1163.50" y1="752.00" x2="1163.50" y2="748.65" stroke="#006b00" stroke-width="1" />
<line x1="1168.50" y1="752.00" x2="1168.50" y2="749.76" stroke="#006b00" stroke-width="1" />
<line x1="1172.50" y1="752.00" x2="1172.50" y2="749.70" stroke="#00e000" stroke-width="1" />
<line x1="1177.50" y1="752.00" x2="1177.50" y2="749.88" stroke="#006b00" stroke-width="1" />
<line x1="1182.50" y1="752.00" x2="1182.50" y2="749.99" stroke="#006b00" stroke-width="1" />
<line x1="1187.50" y1="752.00" x2="1187.50" y2="751.26" stroke="#006b00" stroke-width="1" />
<line x1="1191.50" y1="752.00" x2="1191.50" y2="752.75" stroke="#ff1010" stroke-width="1" />
<line x1="1196.50" y1="752.00" x2="1196.50" y2="753.67" stroke="#ff1010" stroke-width="1" />
<line x1="1201.50" y1="752.00" x2="1201.50" y2="752.35" stroke="#8b0000" stroke-width="1" />
<line x1="1206.50" y1="752.00" x2="1206.50" y2="751.50" stroke="#00e000" stroke-width="1" />
<line x1="1210.50" y1="752.00" x2="1210.50" y2="750.20" stroke="#00e000" stroke-width="1" />
<line x1="1215.50" y1="752.00" x2="1215.50" y2="750.50" stroke="#006b00" stroke-width="1" />
<line x1="1220.50" y1="752.00" x2="1220.50" y2="752.85" stroke="#ff1010" stroke-width="1" />
<line x1="1225.50" y1="752.00" x2="1225.50" y2="755.44" stroke="#ff1010" stroke-width="1" />
<line x1="1230.50" y1="752.00" x2="1230.50" y2="756.30" stroke="#ff1010" stroke-width="1" />
<line x1="1234.50" y1="752.00" x2="1234.50" y2="756.80" stroke="#ff1010" stroke-width="1" />
<line x1="1239.50" y1="752.00" x2="1239.50" y2="755.53" stroke="#8b0000" stroke-width="1" />
<line x1="1244.50" y1="752.00" x2="1244.50" y2="755.43" stroke="#8b0000" stroke-width="1" />
<line x1="1249.50" y1="752.00" x2="1249.50" y2="755.53" stroke="#ff1010" stroke-width="1" />
<line x1="1253.50" y1="752.00" x2="1253.50" y2="754.94" stroke="#8b0000" stroke-width="1" />
<line x1="1258.50" y1="752.00" x2="1258.50" y2="753.46" stroke="#8b0000" stroke-width="1" />
<line x1="1263.50" y1="752.00" x2="1263.50" y2="752.35" stroke="#8b0000" stroke-width="1" />
<line x1="1268.50" y1="752.00" x2="1268.50" y2="750.39" stroke="#00e000" stroke-width="1" />
<line x1="1272.50" y1="752.00" x2="1272.50" y2="749.29" stroke="#00e000" stroke-width="1" />
<line x1="1277.50" y1="752.00" x2="1277.50" y2="748.89" stroke="#00e000" stroke-width="1" />
<line x1="1282.50" y1="752.00" x2="1282.50" y2="747.94" stroke="#00e000" stroke-width="1" />
<line x1="1287.50" y1="752.00" x2="1287.50" y2="747.10" stroke="#00e000" stroke-width="1" />
<line x1="1291.50" y1="752.00" x2="1291.50" y2="746.72" stroke="#00e000" stroke-width="1" />
<line x1="1296.50" y1="752.00" x2="1296.50" y2="746.88" stroke="#006b00" stroke-width="1" />
<line x1="1301.50" y1="752.00" x2="1301.50" y2="746.24" stroke="#00e000" stroke-width="1" />
<line x1="1306.50" y1="752.00" x2="1306.50" y2="746.72" stroke="#006b00" stroke-width="1" />
<line x1="1310.50" y1="752.00" x2="1310.50" y2="748.72" stroke="#006b00" stroke-width="1" />
<line x1="1315.50" y1="752.00" x2="1315.50" y2="749.97" stroke="#006b00" stroke-width="1" />
<line x1="1320.50" y1="752.00" x2="1320.50" y2="748.96" stroke="#00e000" stroke-width="1" />
<line x1="1325.50" y1="752.00" x2="1325.50" y2="750.13" stroke="#006b00" stroke-width="1" />
<line x1="1330.50" y1="752.00" x2="1330.50" y2="750.35" stroke="#006b00" stroke-width="1" />
<line x1="1334.50" y1="752.00" x2="1334.50" y2="750.96" stroke="#006b00" stroke-width="1" />
<line x1="1339.50" y1="752.00" x2="1339.50" y2="750.60" stroke="#00e000" stroke-width="1" />
<line x1="1344.50" y1="752.00" x2="1344.50" y2="749.42" stroke="#00e000" stroke-width="1" />
<line x1="1349.50" y1="752.00" x2="1349.50" y2="749.61" stroke="#006b00" stroke-width="1" />
<line x1="1353.50" y1="752.00" x2="1353.50" y2="748.44" stroke="#00e000" stroke-width="1" />
<line x1="1358.50" y1="752.00" x2="1358.50" y2="748.67" stroke="#006b00" stroke-width="1" />
<line x1="1363.50" y1="752.00" x2="1363.50" y2="749.21" stroke="#006b00" stroke-width="1" />
<line x1="1368.50" y1="752.00" x2="1368.50" y2="748.25" stroke="#00e000" stroke-width="1" />
<line x1="1372.50" y1="752.00" x2="1372.50" y2="747.63" stroke="#00e000" stroke-width="1" />
<line x1="1377.50" y1="752.00" x2="1377.50" y2="748.20" stroke="#006b00" stroke-width="1" />
<line x1="1382.50" y1="752.00" x2="1382.50" y2="748.90" stroke="#006b00" stroke-width="1" />
<line x1="1387.50" y1="752.00" x2="1387.50" y2="749.57" stroke="#006b00" stroke-width="1" />
<line x1="1391.50" y1="752.00" x2="1391.50" y2="752.14" stroke="#ff1010" stroke-width="1" />
<line x1="1396.50" y1="752.00" x2="1396.50" y2="757.41" stroke="#ff1010" stroke-width="1" />
<line x1="1401.50" y1="752.00" x2="1401.50" y2="758.41" stroke="#ff1010" stroke-width="1" />
<line x1="1406.50" y1="752.00" x2="1406.50" y2="758.98" stroke="#ff1010" stroke-width="1" />
<line x1="1410.50" y1="752.00" x2="1410.50" y2="758.90" stroke="#8b0000" stroke-width="1" />
<line x1="1415.50" y1="752.00" x2="1415.50" y2="761.58" stroke="#ff1010" stroke-width="1" />
<line x1="1420.50" y1="752.00" x2="1420.50" y2="760.81" stroke="#8b0000" stroke-width="1" />
<line x1="1425.50" y1="752.00" x2="1425.50" y2="756.58" stroke="#8b0000" stroke-width="1" />
<line x1="1429.50" y1="752.00" x2="1429.50" y2="753.23" stroke="#8b0000" stroke-width="1" />
<line x1="1434.50" y1="752.00" x2="1434.50" y2="750.19" stroke="#00e000" stroke-width="1" />
<line x1="1439.50" y1="752.00" x2="1439.50" y2="749.63" stroke="#00e000" stroke-width="1" />
<line x1="1444.50" y1="752.00" x2="1444.50" y2="747.72" stroke="#00e000" stroke-width="1" />
<line x1="1448.50" y1="752.00" x2="1448.50" y2="746.86" stroke="#00e000" stroke-width="1" />
<line x1="1453.50" y1="752.00" x2="1453.50" y2="745.31" stroke="#00e000" stroke-width="1" />
<line x1="1458.50" y1="752.00" x2="1458.50" y2="745.29" stroke="#00e000" stroke-width="1" />
<line x1="1463.50" y1="752.00" x2="1463.50" y2="745.63" stroke="#006b00" stroke-width="1" />
<line x1="1468.50" y1="752.00" x2="1468.50" y2="746.52" stroke="#006b00" stroke-width="1" />
<line x1="1472.50" y1="752.00" x2="1472.50" y2="746.18" stroke="#00e000" stroke-width="1" />
<line x1="1477.50" y1="752.00" x2="1477.50" y2="747.90" stroke="#006b00" stroke-width="1" />
<line x1="1482.50" y1="752.00" x2="1482.50" y2="752.82" stroke="#ff1010" stroke-width="1" />
<line x1="1487.50" y1="752.00" x2="1487.50" y2="762.85" stroke="#ff1010" stroke-width="1" />
<line x1="1491.50" y1="752.00" x2="1491.50" y2="773.67" stroke="#ff1010" stroke-width="1" />
<line x1="1496.50" y1="752.00" x2="1496.50" y2="779.37" stroke="#ff1010" stroke-width="1" />
<line x1="1501.50" y1="752.00" x2="1501.50" y2="789.45" stroke="#ff1010" stroke-width="1" />
<line x1="1506.50" y1="752.00" x2="1506.50" y2="793.96" stroke="#ff1010" stroke-width="1" />
<line x1="1510.50" y1="752.00" x2="1510.50" y2="787.56" stroke="#8b0000" stroke-width="1" />
<line x1="1515.50" y1="752.00" x2="1515.50" y2="786.65" stroke="#8b0000" stroke-width="1" />
<line x1="1520.50" y1="752.00" x2="1520.50" y2="778.01" stroke="#8b0000" stroke-width="1" />
<line x1="1525.50" y1="752.00" x2="1525.50" y2="776.27" stroke="#8b0000" stroke-width="1" />
<line x1="1529.50" y1="752.00" x2="1529.50" y2="776.74" stroke="#ff1010" stroke-width="1" />
<line x1="1534.50" y1="752.00" x2="1534.50" y2="787.05" stroke="#ff1010" stroke-width="1" />
<line x1="1539.50" y1="752.00" x2="1539.50" y2="784.07" stroke="#8b0000" stroke-width="1" />
<line x1="1544.50" y1="752.00" x2="1544.50" y2="787.39" stroke="#ff1010" stroke-width="1" />
<line x1="1548.50" y1="752.00" x2="1548.50" y2="801.02" stroke="#ff1010" stroke-width="1" />
<line x1="1553.50" y1="752.00" x2="1553.50" y2="793.94" stroke="#8b0000" stroke-width="1" />
<line x1="1558.50" y1="752.00" x2="1558.50" y2="804.58" stroke="#ff1010" stroke-width="1" />
<line x1="1563.50" y1="752.00" x2="1563.50" y2="799.73" stroke="#8b0000" stroke-width="1" />
<line x1="1568.50" y1="752.00" x2="1568.50" y2="799.66" stroke="#8b0000" stroke-width="1" />
</g>
<line x1="967.50" y1="752.00" x2="1810.50" y2="752.00" stroke="#8a2cb8" stroke-width="1.2" />
<polyline points="972.5,743.7 977.3,742.2 982.0,741.3 986.8,740.8 991.5,741.2 996.3,741.7 1001.1,742.6 1005.8,744.1 1010.6,745.6 1015.3,747.5 1020.1,750.1 1024.9,752.6 1029.6,754.5 1034.4,755.9 1039.1,757.6 1043.9,759.0 1048.7,759.8 1053.4,759.9 1058.2,759.3 1062.9,758.1 1067.7,756.5 1072.5,754.6 1077.2,752.9 1082.0,751.1 1086.7,749.7 1091.5,748.4 1096.3,747.0 1101.0,745.4 1105.8,743.3 1110.5,741.3 1115.3,739.4 1120.1,737.7 1124.8,735.8 1129.6,733.7 1134.3,731.6 1139.1,729.9 1143.9,728.3 1148.6,726.8 1153.4,725.5 1158.1,724.5 1162.9,723.6 1167.7,723.1 1172.4,722.5 1177.2,722.0 1181.9,721.5 1186.7,721.3 1191.5,721.5 1196.2,721.9 1201.0,722.0 1205.7,721.8 1210.5,721.4 1215.3,721.0 1220.0,721.2 1224.8,722.1 1229.5,723.2 1234.3,724.4 1239.1,725.2 1243.8,726.1 1248.6,727.0 1253.3,727.7 1258.1,728.1 1262.9,728.2 1267.6,727.8 1272.4,727.1 1277.1,726.3 1281.9,725.3 1286.7,724.1 1291.4,722.7 1296.2,721.5 1300.9,720.0 1305.7,718.7 1310.5,717.9 1315.2,717.4 1320.0,716.6 1324.7,716.2 1329.5,715.7 1334.3,715.5 1339.0,715.1 1343.8,714.5 1348.5,713.9 1353.3,713.0 1358.1,712.2 1362.8,711.5 1367.6,710.5 1372.3,709.4 1377.1,708.5 1381.9,707.7 1386.6,707.1 1391.4,707.1 1396.1,708.5 1400.9,710.1 1405.7,711.8 1410.4,713.6 1415.2,716.0 1419.9,718.2 1424.7,719.3 1429.5,719.6 1434.2,719.2 1439.0,718.6 1443.7,717.5 1448.5,716.2 1453.3,714.5 1458.0,712.9 1462.8,711.3 1467.5,709.9 1472.3,708.4 1477.1,707.4 1481.8,707.6 1486.6,710.3 1491.3,715.8 1496.1,722.6 1500.9,732.0 1505.6,742.5 1510.4,751.3 1515.1,760.0 1519.9,766.5 1524.7,772.6 1529.4,778.8 1534.2,787.5 1538.9,795.5 1543.7,804.4 1548.5,816.6 1553.2,827.1 1558.0,840.3 1562.7,852.2 1567.5,864.1" fill="none" stroke="#b53b3b" stroke-width="1.1"/>
<polyline points="972.5,736.6 977.3,736.2 982.0,737.5 986.8,738.8 991.5,742.7 996.3,744.0 1001.1,746.2 1005.8,750.0 1010.6,751.7 1015.3,755.1 1020.1,760.6 1024.9,762.8 1029.6,761.8 1034.4,761.5 1039.1,764.3 1043.9,764.5 1048.7,763.4 1053.4,759.9 1058.2,757.3 1062.9,752.9 1067.7,750.0 1072.5,747.0 1077.2,746.3 1082.0,744.1 1086.7,743.8 1091.5,743.3 1096.3,741.5 1101.0,738.9 1105.8,735.1 1110.5,733.4 1115.3,731.7 1120.1,730.8 1124.8,728.2 1129.6,725.4 1134.3,723.4 1139.1,722.7 1143.9,722.0 1148.6,720.8 1153.4,720.5 1158.1,720.1 1162.9,720.3 1167.7,720.8 1172.4,720.2 1177.2,719.8 1181.9,719.4 1186.7,720.5 1191.5,722.2 1196.2,723.5 1201.0,722.3 1205.7,721.3 1210.5,719.6 1215.3,719.5 1220.0,722.1 1224.8,725.5 1229.5,727.5 1234.3,729.2 1239.1,728.8 1243.8,729.5 1248.6,730.5 1253.3,730.6 1258.1,729.5 1262.9,728.5 1267.6,726.1 1272.4,724.4 1277.1,723.2 1281.9,721.2 1286.7,719.2 1291.4,717.5 1296.2,716.4 1300.9,714.3 1305.7,713.4 1310.5,714.6 1315.2,715.3 1320.0,713.6 1324.7,714.3 1329.5,714.1 1334.3,714.4 1339.0,713.7 1343.8,711.9 1348.5,711.5 1353.3,709.4 1358.1,708.8 1362.8,708.7 1367.6,706.8 1372.3,705.1 1377.1,704.7 1381.9,704.6 1386.6,704.7 1391.4,707.3 1396.1,713.9 1400.9,716.5 1405.7,718.8 1410.4,720.5 1415.2,725.5 1419.9,727.0 1424.7,723.9 1429.5,720.8 1434.2,717.4 1439.0,716.2 1443.7,713.2 1448.5,711.1 1453.3,707.8 1458.0,706.2 1462.8,704.9 1467.5,704.4 1472.3,702.6 1477.1,703.3 1481.8,708.4 1486.6,721.2 1491.3,737.4 1496.1,750.0 1500.9,769.4 1505.6,784.4 1510.4,786.9 1515.1,794.7 1519.9,792.5 1524.7,796.8 1529.4,803.5 1534.2,822.6 1538.9,827.6 1543.7,839.8 1548.5,865.7 1553.2,869.1 1558.0,892.9 1562.7,899.9 1567.5,911.8" fill="none" stroke="#333" stroke-width="1.1"/>
<rect x="967.50" y="670.50" width="843.00" height="24.00" fill="#f8f8f8" />
<rect x="967.5" y="670.5" width="843.0" height="24.0" fill="none" stroke="#cfcfcf" stroke-width="1"/>
<line x1="1228.50" y1="670.50" x2="1228.50" y2="694.50" stroke="#d2d2d2" stroke-width="1.2" />
<line x1="1294.00" y1="670.50" x2="1294.00" y2="694.50" stroke="#d2d2d2" stroke-width="1.2" />
<line x1="1360.00" y1="670.50" x2="1360.00" y2="694.50" stroke="#d2d2d2" stroke-width="1.2" />
<line x1="1426.00" y1="670.50" x2="1426.00" y2="694.50" stroke="#d2d2d2" stroke-width="1.2" />
<text x="971.00" y="688.50" font-size="15" fill="#333" >MACD (12, 26, 9, EXPONENTIAL, no)</text>
<text x="1232.00" y="688.50" font-size="15" fill="#333" >-550.945</text>
<text x="1297.50" y="688.50" font-size="15" fill="#b03030" >-386.614</text>
<text x="1363.50" y="688.50" font-size="15" fill="#8b1010" >-164.331</text>
<text x="1430.00" y="688.50" font-size="15" fill="#8e2fc4" >0</text>
<text x="1813.00" y="639.30" font-size="14.5" fill="#6b6b7a" >6500</text>
<text x="1813.00" y="597.30" font-size="14.5" fill="#6b6b7a" >7000</text>
<text x="1813.00" y="555.30" font-size="14.5" fill="#6b6b7a" >7500</text>
<text x="1813.00" y="513.30" font-size="14.5" fill="#6b6b7a" >8000</text>
<text x="1813.00" y="471.30" font-size="14.5" fill="#6b6b7a" >8500</text>
<text x="1813.00" y="429.30" font-size="14.5" fill="#6b6b7a" >9000</text>
<text x="1813.00" y="387.30" font-size="14.5" fill="#6b6b7a" >9500</text>
<text x="1813.00" y="345.30" font-size="14.5" fill="#6b6b7a" >10000</text>
<text x="1813.00" y="303.30" font-size="14.5" fill="#6b6b7a" >10500</text>
<text x="1813.00" y="261.30" font-size="14.5" fill="#6b6b7a" >11000</text>
<text x="1813.00" y="219.30" font-size="14.5" fill="#6b6b7a" >11500</text>
<text x="1813.00" y="177.30" font-size="14.5" fill="#6b6b7a" >12000</text>
<text x="1813.00" y="135.30" font-size="14.5" fill="#6b6b7a" >12500</text>
<text x="1813.00" y="93.30" font-size="14.5" fill="#6b6b7a" >13000</text>
<text x="1813.00" y="699.30" font-size="14.5" fill="#6b6b7a" >200</text>
<text x="1813.00" y="728.30" font-size="14.5" fill="#6b6b7a" >100</text>
<text x="1813.00" y="757.30" font-size="14.5" fill="#6b6b7a" >0</text>
<text x="1813.00" y="786.30" font-size="14.5" fill="#6b6b7a" >-100</text>
<text x="1813.00" y="815.30" font-size="14.5" fill="#6b6b7a" >-200</text>
<text x="1813.00" y="844.30" font-size="14.5" fill="#6b6b7a" >-300</text>
<text x="1813.00" y="873.30" font-size="14.5" fill="#6b6b7a" >-400</text>
<text x="1813.00" y="902.30" font-size="14.5" fill="#6b6b7a" >-500</text>
<rect x="1811.00" y="663.50" width="77.00" height="31.00" fill="#fafafa" />
<line x1="967.50" y1="666.50" x2="1887.50" y2="666.50" stroke="#dcdcdc" stroke-width="1.2" />
<rect x="1813.5" y="414" width="57.25" height="16.5" rx="3" fill="#1f3d99"/>
<text x="1815.50" y="427.30" font-size="14.5" fill="#ffffff" >9003.91</text>
<rect x="1813.5" y="463.5" width="34.0" height="16.5" rx="3" fill="#2c2c2c"/>
<text x="1815.50" y="476.80" font-size="14.5" fill="#ffffff" >8417</text>
<rect x="1813.5" y="515.8" width="57.25" height="16.5" rx="3" fill="#3d9a1a"/>
<text x="1815.50" y="529.10" font-size="14.5" fill="#ffffff" >7786.71</text>
<rect x="1813.5" y="582.5" width="57.25" height="16.5" rx="3" fill="#2c2c2c"/>
<text x="1815.50" y="595.80" font-size="14.5" fill="#ffffff" >6989.84</text>
<rect x="1813.5" y="790.7" width="57.25" height="16.5" rx="3" fill="#7c0a0a"/>
<text x="1815.50" y="804.00" font-size="14.5" fill="#ffffff" >-164.33</text>
<rect x="1813.5" y="855" width="57.25" height="16.5" rx="3" fill="#b03030"/>
<text x="1815.50" y="868.30" font-size="14.5" fill="#ffffff" >-386.61</text>
<rect x="967.00" y="921.00" width="921.00" height="21.00" fill="#f8f8f8" />
<text x="1012.50" y="938.00" font-size="14.5" fill="#5e6275" >Oct</text>
<text x="1122.50" y="938.00" font-size="14.5" fill="#5e6275" >Nov</text>
<text x="1217.50" y="938.00" font-size="14.5" fill="#5e6275" >Dec</text>
<text x="1317.50" y="938.00" font-size="14.5" fill="#5e6275" >20</text>
<text x="1417.50" y="938.00" font-size="14.5" fill="#5e6275" >Feb</text>
<text x="1508.50" y="938.00" font-size="14.5" fill="#5e6275" >Mar</text>
<text x="1612.50" y="938.00" font-size="14.5" fill="#5e6275" >Apr</text>
<text x="1712.50" y="938.00" font-size="14.5" fill="#5e6275" >May</text>
<path d="M1473.5,344.5 L1472,354 L1481.5,344.5" fill="#d9d9d9" stroke="#a9a9a9" stroke-width="1"/>
<rect x="1467.5" y="321.5" width="86.0" height="24.0" rx="4" fill="#d9d9d9" stroke="#a9a9a9" stroke-width="1"/>
<path d="M1474.0,344.0 L1472,354 L1481.0,344.0" fill="#d9d9d9" stroke="none"/>
<text x="1473.00" y="340.00" font-size="14.5" fill="#222" >Hi: 9838.37</text>
<path d="M1568.5,627.5 L1567.5,617.5 L1576.5,627.5" fill="#d9d9d9" stroke="#a9a9a9" stroke-width="1"/>
<rect x="1562.5" y="626.5" width="88.0" height="24.0" rx="4" fill="#d9d9d9" stroke="#a9a9a9" stroke-width="1"/>
<path d="M1569.0,628.0 L1567.5,617.5 L1576.0,628.0" fill="#d9d9d9" stroke="none"/>
<text x="1568.00" y="645.00" font-size="14.5" fill="#222" >Lo: 6686.36</text>
<path d="M1501.6000000000001,353.75 H1510.2 V374.5 H1514.9 L1505.9,392.5 L1496.9,374.5 H1501.6000000000001 z" fill="none" stroke="#e8141e" stroke-width="3" stroke-linejoin="miter"/>
<ellipse cx="1536.8" cy="811" rx="67.4" ry="141.5" fill="none" stroke="#e21b23" stroke-width="3.5"/>
<rect x="925.50" y="33.00" width="29.50" height="67.50" fill="#b4b4b4" />
<rect x="926.25" y="33.75" width="28.0" height="66.0" fill="none" stroke="#a5a5a5" stroke-width="1.5"/>
<line x1="927.00" y1="34.50" x2="953.50" y2="34.50" stroke="#c4c4c4" stroke-width="1" />
<text x="945.75" y="71.25" font-size="14.5" fill="#333" text-anchor="middle" transform="rotate(-90 945.75 71.25)">Trade</text>
<rect x="925.50" y="100.50" width="29.50" height="138.50" fill="#b4b4b4" />
<rect x="926.25" y="101.25" width="28.0" height="137.0" fill="none" stroke="#a5a5a5" stroke-width="1.5"/>
<line x1="927.00" y1="102.00" x2="953.50" y2="102.00" stroke="#c4c4c4" stroke-width="1" />
<text x="945.75" y="174.25" font-size="14.5" fill="#333" text-anchor="middle" transform="rotate(-90 945.75 174.25)">Times And Sales</text>
<rect x="925.50" y="239.00" width="29.50" height="117.00" fill="#b4b4b4" />
<rect x="926.25" y="239.75" width="28.0" height="115.5" fill="none" stroke="#a5a5a5" stroke-width="1.5"/>
<line x1="927.00" y1="240.50" x2="953.50" y2="240.50" stroke="#c4c4c4" stroke-width="1" />
<text x="945.75" y="302.0" font-size="14.5" fill="#333" text-anchor="middle" transform="rotate(-90 945.75 302.0)">Active Trader</text>
<rect x="925.50" y="356.00" width="29.50" height="103.50" fill="#b4b4b4" />
<rect x="926.25" y="356.75" width="28.0" height="102.0" fill="none" stroke="#a5a5a5" stroke-width="1.5"/>
<line x1="927.00" y1="357.50" x2="953.50" y2="357.50" stroke="#c4c4c4" stroke-width="1" />
<text x="945.75" y="412.25" font-size="14.5" fill="#333" text-anchor="middle" transform="rotate(-90 945.75 412.25)">Big Buttons</text>
<rect x="925.50" y="459.50" width="29.50" height="63.00" fill="#f7f7f7" />
<rect x="926.0" y="460.0" width="28.5" height="62.0" fill="none" stroke="#c8c8c8"/>
<text x="945.75" y="495.5" font-size="14.5" fill="#333" text-anchor="middle" transform="rotate(-90 945.75 495.5)">Chart</text>
<rect x="925.50" y="522.50" width="29.50" height="119.50" fill="#b4b4b4" />
<rect x="926.25" y="523.25" width="28.0" height="118.0" fill="none" stroke="#a5a5a5" stroke-width="1.5"/>
<line x1="927.00" y1="524.00" x2="953.50" y2="524.00" stroke="#c4c4c4" stroke-width="1" />
<text x="945.75" y="586.75" font-size="14.5" fill="#333" text-anchor="middle" transform="rotate(-90 945.75 586.75)">Phase Scores</text>
<rect x="925.50" y="642.00" width="29.50" height="102.00" fill="#b4b4b4" />
<rect x="926.25" y="642.75" width="28.0" height="100.5" fill="none" stroke="#a5a5a5" stroke-width="1.5"/>
<line x1="927.00" y1="643.50" x2="953.50" y2="643.50" stroke="#c4c4c4" stroke-width="1" />
<text x="945.75" y="697.5" font-size="14.5" fill="#333" text-anchor="middle" transform="rotate(-90 945.75 697.5)">Dashboard</text>
<rect x="925.50" y="744.00" width="29.50" height="75.00" fill="#b4b4b4" />
<rect x="926.25" y="744.75" width="28.0" height="73.5" fill="none" stroke="#a5a5a5" stroke-width="1.5"/>
<line x1="927.00" y1="745.50" x2="953.50" y2="745.50" stroke="#c4c4c4" stroke-width="1" />
<text x="945.75" y="786.0" font-size="14.5" fill="#333" text-anchor="middle" transform="rotate(-90 945.75 786.0)">Level II</text>
<rect x="925.50" y="819.00" width="29.50" height="98.00" fill="#b4b4b4" />
<rect x="926.25" y="819.75" width="28.0" height="96.5" fill="none" stroke="#a5a5a5" stroke-width="1.5"/>
<line x1="927.00" y1="820.50" x2="953.50" y2="820.50" stroke="#c4c4c4" stroke-width="1" />
<text x="945.75" y="872.5" font-size="14.5" fill="#333" text-anchor="middle" transform="rotate(-90 945.75 872.5)">Live News</text>
<rect x="925.50" y="917.00" width="29.50" height="53.00" fill="#b4b4b4" />
<rect x="926.25" y="917.75" width="28.0" height="51.5" fill="none" stroke="#a5a5a5" stroke-width="1.5"/>
<line x1="927.00" y1="918.50" x2="953.50" y2="918.50" stroke="#c4c4c4" stroke-width="1" />
<rect x="1888.50" y="33.00" width="29.50" height="67.50" fill="#b4b4b4" />
<rect x="1889.25" y="33.75" width="28.0" height="66.0" fill="none" stroke="#a5a5a5" stroke-width="1.5"/>
<line x1="1890.00" y1="34.50" x2="1916.50" y2="34.50" stroke="#c4c4c4" stroke-width="1" />
<text x="1908.75" y="71.25" font-size="14.5" fill="#333" text-anchor="middle" transform="rotate(-90 1908.75 71.25)">Trade</text>
<rect x="1888.50" y="100.50" width="29.50" height="138.50" fill="#b4b4b4" />
<rect x="1889.25" y="101.25" width="28.0" height="137.0" fill="none" stroke="#a5a5a5" stroke-width="1.5"/>
<line x1="1890.00" y1="102.00" x2="1916.50" y2="102.00" stroke="#c4c4c4" stroke-width="1" />
<text x="1908.75" y="174.25" font-size="14.5" fill="#333" text-anchor="middle" transform="rotate(-90 1908.75 174.25)">Times And Sales</text>
<rect x="1888.50" y="239.00" width="29.50" height="117.00" fill="#b4b4b4" />
<rect x="1889.25" y="239.75" width="28.0" height="115.5" fill="none" stroke="#a5a5a5" stroke-width="1.5"/>
<line x1="1890.00" y1="240.50" x2="1916.50" y2="240.50" stroke="#c4c4c4" stroke-width="1" />
<text x="1908.75" y="302.0" font-size="14.5" fill="#333" text-anchor="middle" transform="rotate(-90 1908.75 302.0)">Active Trader</text>
<rect x="1888.50" y="356.00" width="29.50" height="103.50" fill="#b4b4b4" />
<rect x="1889.25" y="356.75" width="28.0" height="102.0" fill="none" stroke="#a5a5a5" stroke-width="1.5"/>
<line x1="1890.00" y1="357.50" x2="1916.50" y2="357.50" stroke="#c4c4c4" stroke-width="1" />
<text x="1908.75" y="412.25" font-size="14.5" fill="#333" text-anchor="middle" transform="rotate(-90 1908.75 412.25)">Big Buttons</text>
<rect x="1888.50" y="459.50" width="29.50" height="63.00" fill="#f7f7f7" />
<rect x="1889.0" y="460.0" width="28.5" height="62.0" fill="none" stroke="#c8c8c8"/>
<text x="1908.75" y="495.5" font-size="14.5" fill="#333" text-anchor="middle" transform="rotate(-90 1908.75 495.5)">Chart</text>
<rect x="1888.50" y="522.50" width="29.50" height="119.50" fill="#b4b4b4" />
<rect x="1889.25" y="523.25" width="28.0" height="118.0" fill="none" stroke="#a5a5a5" stroke-width="1.5"/>
<line x1="1890.00" y1="524.00" x2="1916.50" y2="524.00" stroke="#c4c4c4" stroke-width="1" />
<text x="1908.75" y="586.75" font-size="14.5" fill="#333" text-anchor="middle" transform="rotate(-90 1908.75 586.75)">Phase Scores</text>
<rect x="1888.50" y="642.00" width="29.50" height="102.00" fill="#b4b4b4" />
<rect x="1889.25" y="642.75" width="28.0" height="100.5" fill="none" stroke="#a5a5a5" stroke-width="1.5"/>
<line x1="1890.00" y1="643.50" x2="1916.50" y2="643.50" stroke="#c4c4c4" stroke-width="1" />
<text x="1908.75" y="697.5" font-size="14.5" fill="#333" text-anchor="middle" transform="rotate(-90 1908.75 697.5)">Dashboard</text>
<rect x="1888.50" y="744.00" width="29.50" height="75.00" fill="#b4b4b4" />
<rect x="1889.25" y="744.75" width="28.0" height="73.5" fill="none" stroke="#a5a5a5" stroke-width="1.5"/>
<line x1="1890.00" y1="745.50" x2="1916.50" y2="745.50" stroke="#c4c4c4" stroke-width="1" />
<text x="1908.75" y="786.0" font-size="14.5" fill="#333" text-anchor="middle" transform="rotate(-90 1908.75 786.0)">Level II</text>
<rect x="1888.50" y="819.00" width="29.50" height="98.00" fill="#b4b4b4" />
<rect x="1889.25" y="819.75" width="28.0" height="96.5" fill="none" stroke="#a5a5a5" stroke-width="1.5"/>
<line x1="1890.00" y1="820.50" x2="1916.50" y2="820.50" stroke="#c4c4c4" stroke-width="1" />
<text x="1908.75" y="872.5" font-size="14.5" fill="#333" text-anchor="middle" transform="rotate(-90 1908.75 872.5)">Live News</text>
<rect x="1888.50" y="917.00" width="29.50" height="52.50" fill="#b4b4b4" />
<rect x="1889.25" y="917.75" width="28.0" height="51.0" fill="none" stroke="#a5a5a5" stroke-width="1.5"/>
<line x1="1890.00" y1="918.50" x2="1916.50" y2="918.50" stroke="#c4c4c4" stroke-width="1" />
<rect x="963.00" y="969.50" width="957.00" height="2.50" fill="#dedede" />
<rect x="2.00" y="64.00" width="200.00" height="176.00" fill="#ffffff" />
<rect x="13.5" y="74.5" width="177" height="158" fill="none" stroke="#000" stroke-width="3"/>
<defs><radialGradient id="face" cx="0.5" cy="0.45" r="0.52"><stop offset="0" stop-color="#b4a494"/><stop offset="0.55" stop-color="#a08e7c"/><stop offset="0.85" stop-color="#7a6654"/><stop offset="1" stop-color="#5e4c3c" stop-opacity="0"/></radialGradient><radialGradient id="muz" cx="0.5" cy="0.4" r="0.6"><stop offset="0" stop-color="#cab8a8"/><stop offset="0.7" stop-color="#b09c8a"/><stop offset="1" stop-color="#8e7a68" stop-opacity="0"/></radialGradient><linearGradient id="grn" x1="0" y1="0" x2="0" y2="1"><stop offset="0" stop-color="#70905e"/><stop offset="0.3" stop-color="#7a9e62"/><stop offset="0.55" stop-color="#6a8e5c"/><stop offset="0.66" stop-color="#5e6a60"/><stop offset="0.74" stop-color="#34404a"/><stop offset="1" stop-color="#1a2028"/></linearGradient><linearGradient id="low" x1="0" y1="0" x2="0" y2="1"><stop offset="0" stop-color="#2a1e16" stop-opacity="0"/><stop offset="0.4" stop-color="#24180f"/><stop offset="1" stop-color="#0e0906"/></linearGradient><radialGradient id="mouth" cx="0.5" cy="0.6" r="0.55"><stop offset="0" stop-color="#b84a70"/><stop offset="0.4" stop-color="#d88ad2"/><stop offset="1" stop-color="#cc78c4"/></radialGradient><filter id="fur" x="0" y="0" width="1" height="1"><feTurbulence type="fractalNoise" baseFrequency="0.55 0.4" numOctaves="2" seed="5"/><feColorMatrix values="0 0 0 0 0.08  0 0 0 0 0.06  0 0 0 0 0.04  0 0 0 -2.2 1.3"/></filter><filter id="blr" x="-0.3" y="-0.3" width="1.6" height="1.6"><feGaussianBlur stdDeviation="2.4"/></filter><filter id="blr1" x="-0.3" y="-0.3" width="1.6" height="1.6"><feGaussianBlur stdDeviation="1"/></filter><clipPath id="bclip"><rect x="16" y="78.5" width="172.5" height="152"/></clipPath></defs>
<g clip-path="url(#bclip)">
<rect x="16" y="78.5" width="172.5" height="152" fill="#5e4c3e"/>
<rect x="140" y="78" width="50" height="153" fill="url(#grn)"/>
<g filter="url(#blr)">
<path d="M8,70 H146 Q156,100 160,130 Q166,160 164,178 Q160,200 157,240 H8 z" fill="#5c4838"/>
<path d="M8,90 Q14,130 18,175 L24,178 Q18,130 22,92 z" fill="#8c7c6e"/>
<path d="M20,96 Q40,80 90,82 Q130,84 150,96 Q150,106 140,108 Q96,92 56,104 Q42,114 40,150 Q40,170 34,182 L24,180 Q16,140 20,96 z" fill="#2e2119"/>
<ellipse cx="42" cy="102" rx="11" ry="12" fill="#7a6a5c"/>
<ellipse cx="43" cy="104" rx="5" ry="7" fill="#34303a"/>
<ellipse cx="137" cy="92" rx="12" ry="12" fill="#6a5848"/>
<ellipse cx="138" cy="94" rx="6" ry="7" fill="#2a2018"/>
<ellipse cx="98" cy="146" rx="54" ry="56" fill="url(#face)"/>
<ellipse cx="70" cy="176" rx="14" ry="18" fill="#3e3028" opacity="0.75"/>
<ellipse cx="130" cy="168" rx="11" ry="24" fill="#4a3a2e" opacity="0.75"/>
</g>
<g filter="url(#blr1)">
<ellipse cx="63" cy="134" rx="7" ry="10" fill="#9098a0" opacity="0.6"/>
<ellipse cx="102" cy="142" rx="20" ry="13" fill="url(#muz)"/>
</g>
<ellipse cx="78.75" cy="140.2" rx="3.4" ry="3.2" fill="#14110f"/>
<ellipse cx="118.3" cy="133" rx="3.4" ry="3.2" fill="#14110f"/>
<g filter="url(#blr1)"><path d="M89,147 Q102,139 115,147 Q119,156 116,166 Q102,172 88,166 Q85,156 89,147 z" fill="#28323e"/></g>
<ellipse cx="96" cy="149" rx="3" ry="2.4" fill="#0c0e12"/><ellipse cx="108" cy="149" rx="3" ry="2.4" fill="#0c0e12"/>
<g filter="url(#blr)">
<path d="M8,178 Q40,176 66,192 Q86,206 92,240 H8 z" fill="url(#low)"/>
<path d="M8,198 Q46,196 70,212 Q80,222 82,240 H8 z" fill="#100a06"/>
<path d="M84,214 Q104,236 126,216 L130,240 H82 z" fill="#1a120c"/>
</g>
<g filter="url(#blr1)">
<path d="M88,172 Q106,166 124,172 L122,214 Q106,232 90,214 z" fill="#2a1e1c"/>
<path d="M91.5,183 Q106,178 121,183 L121.5,212 Q106,229 93,212 z" fill="url(#mouth)"/>
<path d="M100,194 q6,-3 11,0 q1,9 -5,13 q-6,-4 -6,-13z" fill="#6a4048" opacity="0.7"/>
</g>
<path d="M95,173 l2.2,9 l2.2,-9 z M119,172 l-1.8,7 l-2,-7 z" fill="#ece6d6"/>
<rect x="16" y="78.5" width="172.5" height="152" filter="url(#fur)" opacity="0.6"/>
</g>
<text x="97.6" y="111" font-size="13.5" font-weight="bold" font-family="Liberation Serif" fill="#222" text-anchor="middle" opacity="0.45" textLength="54" lengthAdjust="spacingAndGlyphs">BEARISH</text>
<text x="97" y="110.2" font-size="13.5" font-weight="bold" font-family="Liberation Serif" fill="#fdfdf4" text-anchor="middle" textLength="54" lengthAdjust="spacingAndGlyphs">BEARISH</text>
<rect x="1574.00" y="64.00" width="238.00" height="156.00" fill="#ffffff" />
<rect x="1581.5" y="72.5" width="218" height="141" fill="none" stroke="#000" stroke-width="3"/>
<defs><linearGradient id="wall" x1="0" y1="0" x2="1" y2="0.3"><stop offset="0" stop-color="#a9a9a9"/><stop offset="0.3" stop-color="#d6d6d6"/><stop offset="0.65" stop-color="#e6e6e6"/><stop offset="1" stop-color="#dadada"/></linearGradient><clipPath id="sclip"><rect x="1584" y="76.8" width="211" height="131.8"/></clipPath></defs>
<g clip-path="url(#sclip)">
<rect x="1584" y="76.8" width="211" height="131.8" fill="url(#wall)"/>
<path d="M1601,209 V203 H1622 V194 H1642 V186.5 H1662 V177.5 H1683 V171 H1700 L1704,186 L1642.5,209 z" fill="#3b3b3b"/>
<path d="M1683,171 q8,-3 14,2 q6,6 4,14 q-10,4 -18,2z" fill="#555" opacity="0.8"/>
<path d="M1695,180 l8,10 M1700,176 l6,6 M1690,186 l3,12" stroke="#666" stroke-width="1" opacity="0.6"/>
<path d="M1743,160 V143.5 H1763 V134.8 H1783.5 V126 H1795 V143 L1745,161 z" fill="#3b3b3b"/>
<path d="M1745,158 l-8,14 l-4,12 M1750,160 l-6,16 M1738,168 l-2,10" stroke="#555" stroke-width="1.5" opacity="0.7"/>
<path d="M1639,115 L1641,122 L1641,143 L1637,149 L1636,170 L1635,189 L1641,193 L1641,195 L1625,195 L1624,189 L1623,165 L1621,155 L1616,147 L1614,142 L1621,129 L1629,118 L1636,114 z" fill="#2c2828"/>
<path d="M1624,150 L1630,152 L1629,190" stroke="#4a4a4e" stroke-width="1.2" fill="none" opacity="0.6"/>
<path d="M1640,121 L1641,143" stroke="#555" stroke-width="1" fill="none"/>
<circle cx="1645.2" cy="110.7" r="6" fill="#b48c72"/>
<path d="M1640,107 q4,-4 9,-1" stroke="#8a6a58" stroke-width="2" fill="none"/>
</g>
<text x="1705" y="89.8" font-size="15.5" font-weight="bold" font-family="Liberation Serif" fill="#141423" text-anchor="middle" textLength="117" lengthAdjust="spacingAndGlyphs">Broken Uptrend</text>
<rect x="645" y="279" width="850" height="20.5" fill="#ffffff"/>
<rect x="640.5" y="77.5" width="860" height="203" fill="none" stroke="#000" stroke-width="3"/>
<rect x="642" y="83" width="857" height="196" fill="#ffffff"/>
<text x="647" y="104" font-family="Liberation Serif" font-weight="bold" font-size="22.5" fill="#000" lengthAdjust="spacingAndGlyphs" textLength="793">SPX and Nasdaq closed in a 18 day <tspan fill="#e3171f">DOWNTREND</tspan> with bearish MACD.</text>
<text x="647" y="158" font-family="Liberation Serif" font-weight="bold" font-size="22.5" fill="#000" lengthAdjust="spacingAndGlyphs" textLength="835.3" xml:space="preserve">Last Thursday we saw epic panic, but today might have topped that.  We dont</text>
<text x="647" y="184.5" font-family="Liberation Serif" font-weight="bold" font-size="22.5" fill="#000" lengthAdjust="spacingAndGlyphs" textLength="755.5" xml:space="preserve">have ROE to get long yet, but a large bounce could be setting up soon.</text>
<text x="647" y="211.5" font-family="Liberation Serif" font-weight="bold" font-size="22.5" fill="#000" lengthAdjust="spacingAndGlyphs" textLength="828.0" xml:space="preserve">Continue to use our ESFL (daily trading focus list), and day trade with 5 min</text>
<text x="647" y="238.5" font-family="Liberation Serif" font-weight="bold" font-size="22.5" fill="#000" lengthAdjust="spacingAndGlyphs" textLength="805.6" xml:space="preserve">ROE and preserve capital from our ALL CASH call on 2/24/20.  But dont</text>
<text x="647" y="265.2" font-family="Liberation Serif" font-weight="bold" font-size="22.5" fill="#000" lengthAdjust="spacingAndGlyphs" textLength="323.0" xml:space="preserve">rule out a large up move soon.</text>
</svg></body></html>
